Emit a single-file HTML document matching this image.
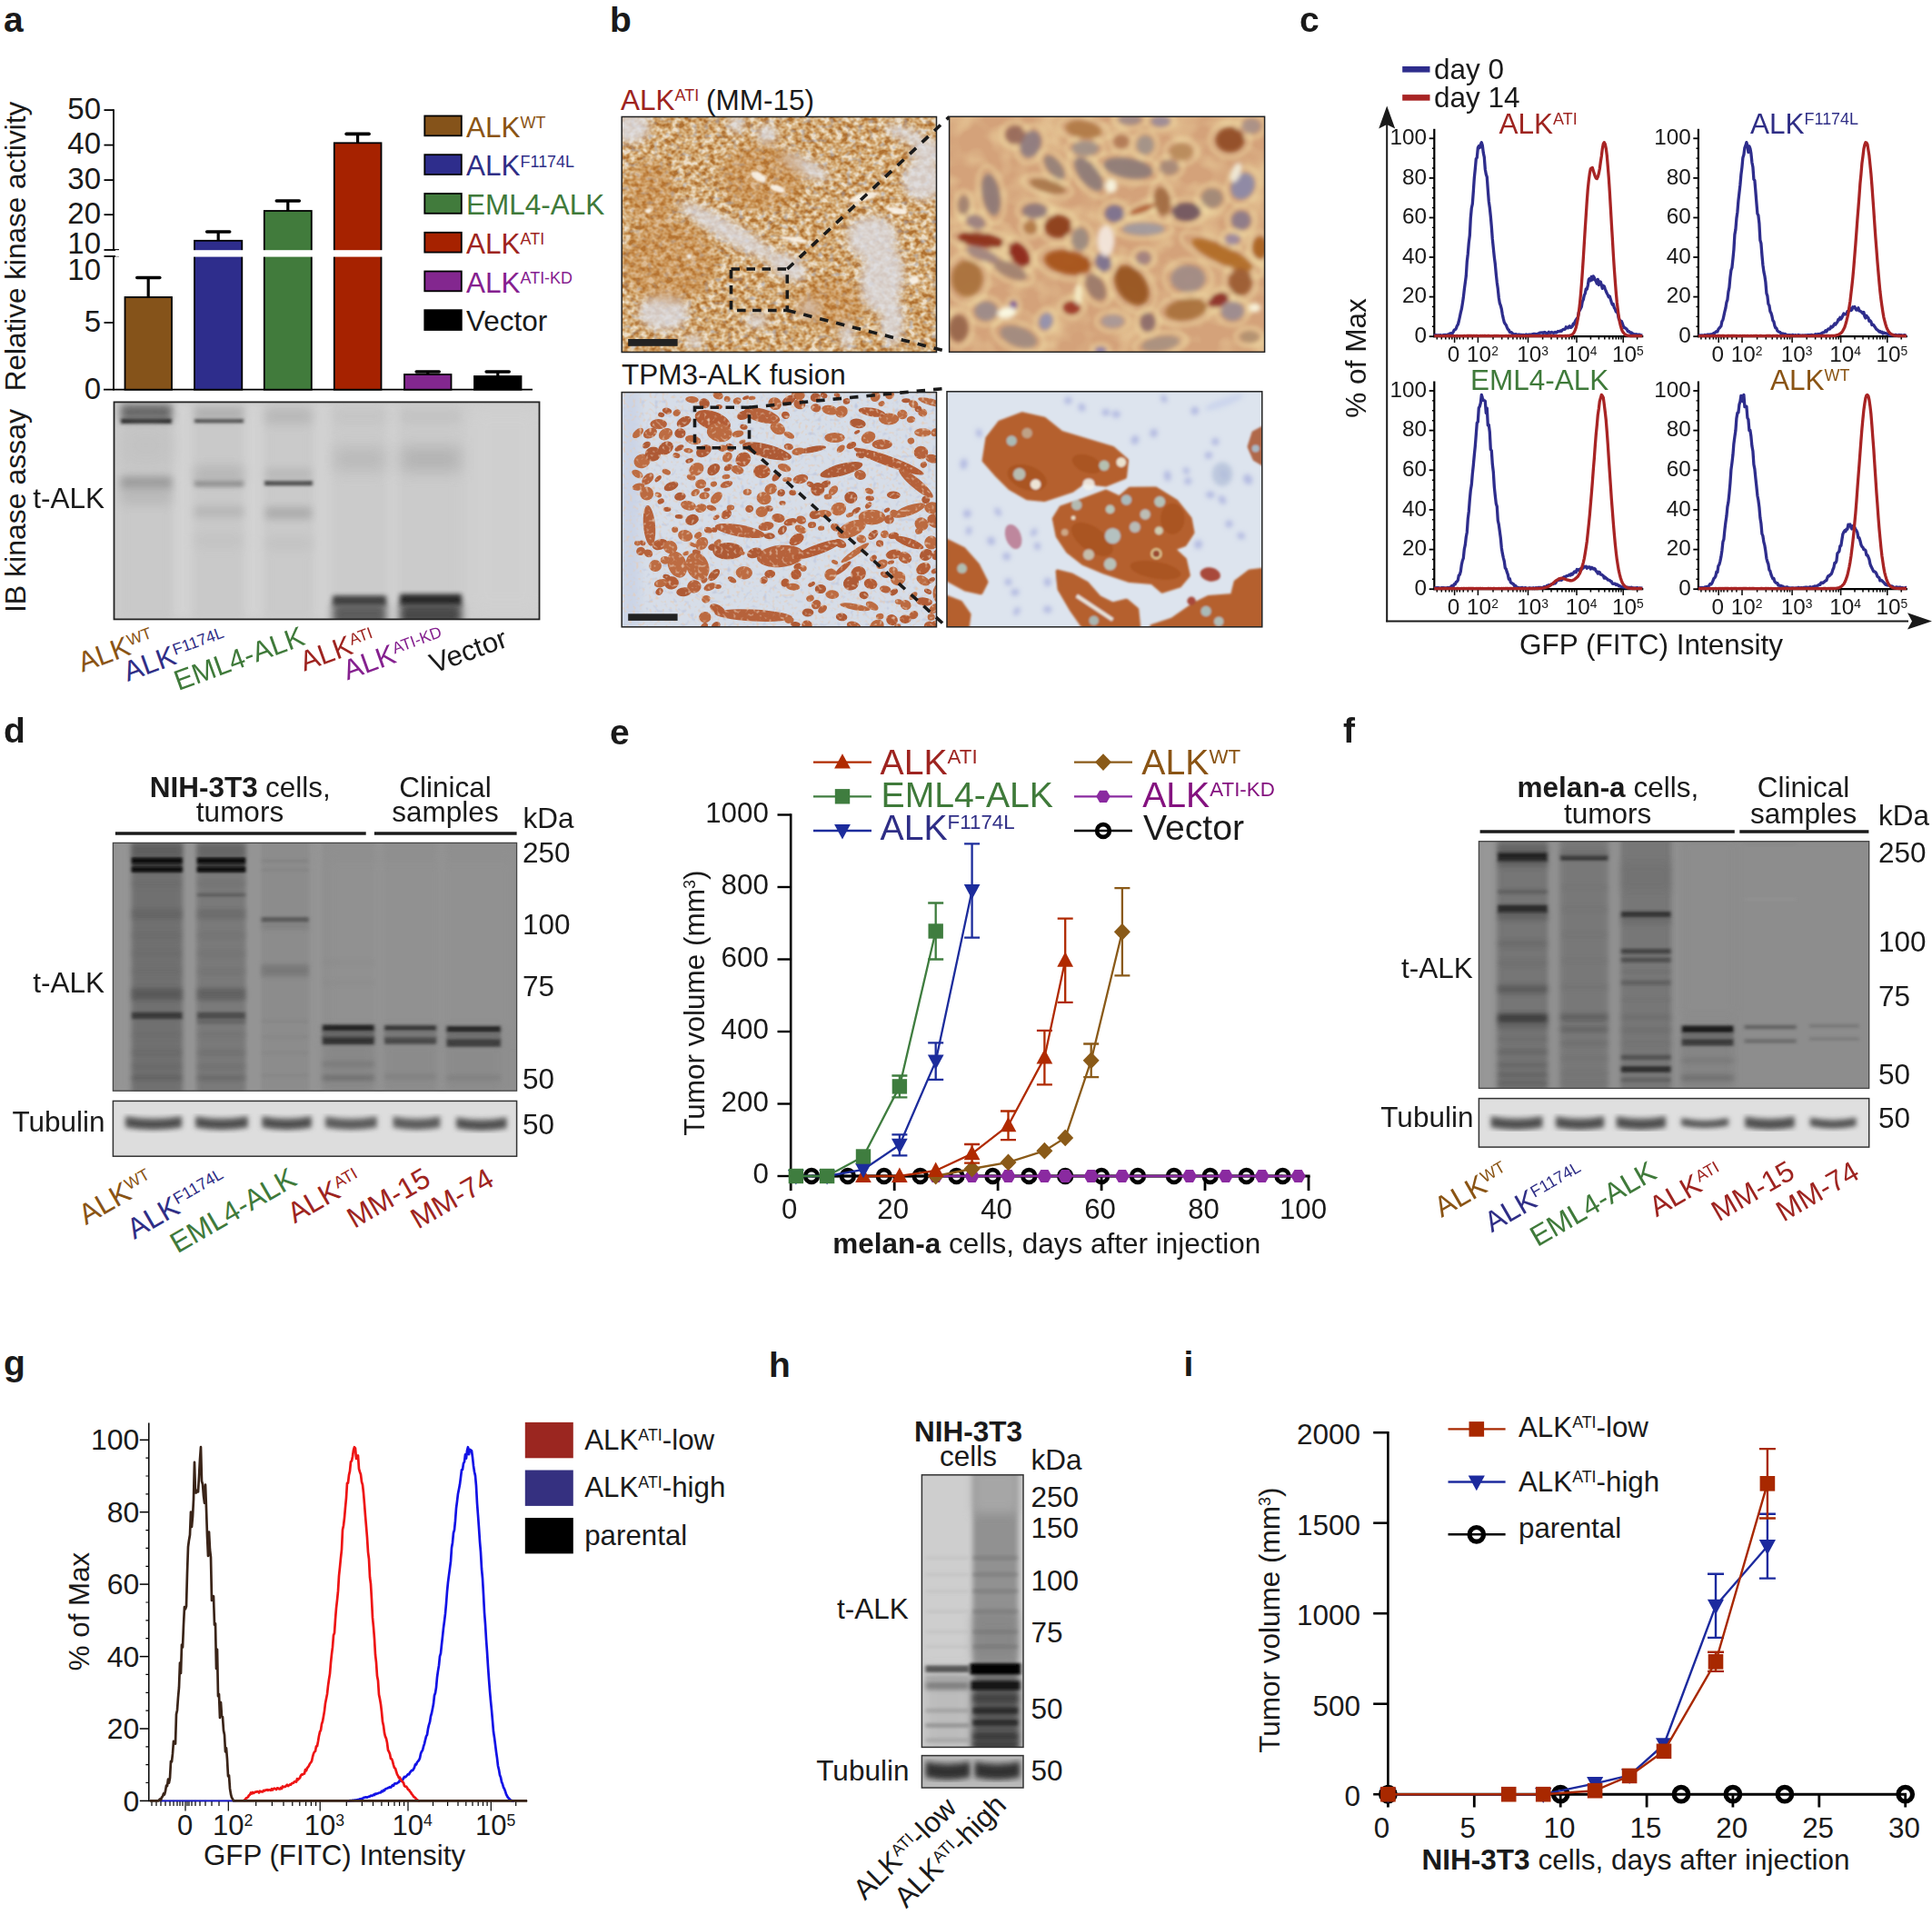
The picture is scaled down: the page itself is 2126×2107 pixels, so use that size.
<!DOCTYPE html>
<html><head><meta charset="utf-8"><title>Figure</title>
<style>html,body{margin:0;padding:0;background:#fff;overflow:hidden}svg{display:block}text{font-family:"Liberation Sans", sans-serif}</style>
</head><body>
<svg width="2126" height="2107" viewBox="0 0 2126 2107">
<defs>
<filter id="bl1" x="-20%" y="-300%" width="140%" height="700%"><feGaussianBlur stdDeviation="0.8"/></filter>
<filter id="bl2" x="-20%" y="-300%" width="140%" height="700%"><feGaussianBlur stdDeviation="1.5"/></filter>
<filter id="bl3" x="-20%" y="-300%" width="140%" height="700%"><feGaussianBlur stdDeviation="2.5"/></filter>
<filter id="bl4" x="-20%" y="-300%" width="140%" height="700%"><feGaussianBlur stdDeviation="4"/></filter>
<filter id="bl5" x="-20%" y="-300%" width="140%" height="700%"><feGaussianBlur stdDeviation="6"/></filter>
<filter id="bl6" x="-20%" y="-300%" width="140%" height="700%"><feGaussianBlur stdDeviation="8"/></filter>
<filter id="bl8" x="-20%" y="-300%" width="140%" height="700%"><feGaussianBlur stdDeviation="12"/></filter>
<filter id="soft" x="-5%" y="-5%" width="110%" height="110%"><feGaussianBlur stdDeviation="1.1 0.7"/></filter>
<filter id="tex1" x="0" y="0" width="100%" height="100%" color-interpolation-filters="sRGB">
<feTurbulence type="fractalNoise" baseFrequency="0.15 0.17" numOctaves="2" seed="7"/>
<feColorMatrix type="matrix" values="2.2 0 0 0 -0.6  2.2 0 0 0 -0.6  2.2 0 0 0 -0.6  0 0 0 0 1"/>
<feComponentTransfer><feFuncR type="table" tableValues="0.69 0.77 0.83 0.88 0.93"/><feFuncG type="table" tableValues="0.44 0.56 0.67 0.77 0.87"/><feFuncB type="table" tableValues="0.19 0.32 0.46 0.61 0.78"/></feComponentTransfer>
</filter>
<filter id="tex1c" x="0" y="0" width="100%" height="100%" color-interpolation-filters="sRGB">
<feTurbulence type="fractalNoise" baseFrequency="0.16 0.19" numOctaves="1" seed="23"/>
<feColorMatrix type="matrix" values="0 0 0 0 0.60  0 0 0 0 0.62  0 0 0 0 0.72  4 0 0 0 -2.3"/>
</filter>
<filter id="tex3" x="0" y="0" width="100%" height="100%" color-interpolation-filters="sRGB">
<feTurbulence type="fractalNoise" baseFrequency="0.28" numOctaves="1" seed="31"/>
<feColorMatrix type="matrix" values="0 0 0 0 0.90  0 0 0 0 0.80  0 0 0 0 0.72  3.2 0 0 0 -1.75"/>
</filter>
<filter id="tex1b" x="0" y="0" width="100%" height="100%" color-interpolation-filters="sRGB">
<feTurbulence type="fractalNoise" baseFrequency="0.2" numOctaves="1" seed="11"/>
<feColorMatrix type="matrix" values="0 0 0 0 0.62  0 0 0 0 0.66  0 0 0 0 0.82  3 0 0 0 -1.75"/>
</filter>
<clipPath id="cpb1"><rect x="684.2" y="128.5" width="346.3" height="259"/></clipPath>
<clipPath id="cpb2"><rect x="1044.6" y="128.3" width="347" height="259"/></clipPath>
<clipPath id="cpb3"><rect x="684.2" y="431.6" width="346.3" height="258.2"/></clipPath>
<clipPath id="cpb4"><rect x="1042" y="430.8" width="346.8" height="259"/></clipPath>
<filter id="bb1" x="-30%" y="-30%" width="160%" height="160%"><feGaussianBlur stdDeviation="5"/></filter>
<filter id="bb2" x="-30%" y="-30%" width="160%" height="160%"><feGaussianBlur stdDeviation="2.6"/></filter>
<filter id="bb3" x="-30%" y="-30%" width="160%" height="160%"><feGaussianBlur stdDeviation="0.7"/></filter>
<filter id="bb4" x="-30%" y="-30%" width="160%" height="160%"><feGaussianBlur stdDeviation="1.3"/></filter>
<filter id="tex2" x="0" y="0" width="100%" height="100%" color-interpolation-filters="sRGB">
<feTurbulence type="fractalNoise" baseFrequency="0.035 0.04" numOctaves="2" seed="5"/>
<feColorMatrix type="matrix" values="0 0 0 0 0.95  0 0 0 0 0.87  0 0 0 0 0.66  2.4 0 0 0 -1.0"/>
</filter>
</defs>
<rect width="2126" height="2107" fill="#fff"/>
<text x="4" y="34.5" font-size="39" fill="#1a1a1a" font-weight="bold">a</text>
<text font-size="31.5" fill="#1a1a1a" text-anchor="middle" transform="translate(28 271) rotate(-90)">Relative kinase activity</text>
<text font-size="32" fill="#1a1a1a" text-anchor="middle" transform="translate(28 562) rotate(-90)">IB kinase assay</text>
<line x1="125" y1="120.2" x2="125" y2="275.5" stroke="#000" stroke-width="1.8"/>
<line x1="125" y1="282" x2="125" y2="429.6" stroke="#000" stroke-width="1.8"/>
<line x1="114" y1="428.7" x2="586" y2="428.7" stroke="#000" stroke-width="1.8"/>
<line x1="114.5" y1="121.1" x2="125" y2="121.1" stroke="#000" stroke-width="1.8"/>
<text x="111" y="130.9" font-size="33" fill="#1a1a1a" text-anchor="end">50</text>
<line x1="114.5" y1="159.6" x2="125" y2="159.6" stroke="#000" stroke-width="1.8"/>
<text x="111" y="169.4" font-size="33" fill="#1a1a1a" text-anchor="end">40</text>
<line x1="114.5" y1="198.1" x2="125" y2="198.1" stroke="#000" stroke-width="1.8"/>
<text x="111" y="207.9" font-size="33" fill="#1a1a1a" text-anchor="end">30</text>
<line x1="114.5" y1="236.2" x2="125" y2="236.2" stroke="#000" stroke-width="1.8"/>
<text x="111" y="246" font-size="33" fill="#1a1a1a" text-anchor="end">20</text>
<text x="111" y="279.2" font-size="33" fill="#1a1a1a" text-anchor="end">10</text>
<line x1="114.5" y1="275" x2="131" y2="275" stroke="#000" stroke-width="1.8"/>
<line x1="114.5" y1="282" x2="131" y2="282" stroke="#000" stroke-width="1.8"/>
<text x="111" y="307.6" font-size="33" fill="#1a1a1a" text-anchor="end">10</text>
<line x1="114.5" y1="355" x2="125" y2="355" stroke="#000" stroke-width="1.8"/>
<text x="111" y="364.8" font-size="33" fill="#1a1a1a" text-anchor="end">5</text>
<text x="111" y="438.5" font-size="33" fill="#1a1a1a" text-anchor="end">0</text>
<line x1="163.2" y1="305.5" x2="163.2" y2="329" stroke="#000" stroke-width="3.2"/>
<line x1="150.8" y1="305.5" x2="175.8" y2="305.5" stroke="#000" stroke-width="3.6" stroke-linecap="round"/>
<rect x="137.5" y="327" width="51.5" height="101.7" fill="#85531a" stroke="#000" stroke-width="1.8"/>
<line x1="240.2" y1="255" x2="240.2" y2="266.8" stroke="#000" stroke-width="3.2"/>
<line x1="227.7" y1="255" x2="252.7" y2="255" stroke="#000" stroke-width="3.6" stroke-linecap="round"/>
<rect x="214" y="264.8" width="52.3" height="163.9" fill="#2e2d8c" stroke="#000" stroke-width="1.8"/>
<line x1="316.8" y1="221" x2="316.8" y2="234" stroke="#000" stroke-width="3.2"/>
<line x1="304.3" y1="221" x2="329.3" y2="221" stroke="#000" stroke-width="3.6" stroke-linecap="round"/>
<rect x="290.8" y="232" width="52" height="196.7" fill="#417b3c" stroke="#000" stroke-width="1.8"/>
<line x1="393.6" y1="147.4" x2="393.6" y2="159.3" stroke="#000" stroke-width="3.2"/>
<line x1="381.1" y1="147.4" x2="406.1" y2="147.4" stroke="#000" stroke-width="3.6" stroke-linecap="round"/>
<rect x="367.8" y="157.3" width="51.7" height="271.4" fill="#a62200" stroke="#000" stroke-width="1.8"/>
<line x1="470.8" y1="409" x2="470.8" y2="414" stroke="#000" stroke-width="3.2"/>
<line x1="458.2" y1="409" x2="483.2" y2="409" stroke="#000" stroke-width="3.6" stroke-linecap="round"/>
<rect x="445" y="412" width="51.5" height="16.7" fill="#83278f" stroke="#000" stroke-width="1.8"/>
<line x1="547.8" y1="409" x2="547.8" y2="416" stroke="#000" stroke-width="3.2"/>
<line x1="535.2" y1="409" x2="560.2" y2="409" stroke="#000" stroke-width="3.6" stroke-linecap="round"/>
<rect x="522" y="414" width="51.5" height="14.7" fill="#000" stroke="#000" stroke-width="1.8"/>
<rect x="127" y="275.2" width="470" height="7.4" fill="#fff"/>
<rect x="467.3" y="127.5" width="40.5" height="21.8" fill="#85531a" stroke="#000" stroke-width="1.8"/>
<text x="513" y="150.5" font-size="31.5" fill="#8a5414">ALK<tspan dy="-0.534em" font-size="57%">WT</tspan></text>
<rect x="467.3" y="170.2" width="40.5" height="21.8" fill="#2e2d8c" stroke="#000" stroke-width="1.8"/>
<text x="513" y="193.2" font-size="31.5" fill="#2f2e86">ALK<tspan dy="-0.534em" font-size="57%">F1174L</tspan></text>
<rect x="467.3" y="213" width="40.5" height="21.8" fill="#417b3c" stroke="#000" stroke-width="1.8"/>
<text x="513" y="236" font-size="31.5" fill="#3f7a3a">EML4-ALK</text>
<rect x="467.3" y="255.8" width="40.5" height="21.8" fill="#a62200" stroke="#000" stroke-width="1.8"/>
<text x="513" y="278.8" font-size="31.5" fill="#9e2420">ALK<tspan dy="-0.534em" font-size="57%">ATI</tspan></text>
<rect x="467.3" y="298.5" width="40.5" height="21.8" fill="#83278f" stroke="#000" stroke-width="1.8"/>
<text x="513" y="321.5" font-size="31.5" fill="#85208f">ALK<tspan dy="-0.534em" font-size="57%">ATI-KD</tspan></text>
<rect x="467.3" y="341.2" width="40.5" height="21.8" fill="#000" stroke="#000" stroke-width="1.8"/>
<text x="513" y="364.2" font-size="31.5" fill="#1a1a1a">Vector</text>
<clipPath id="cpa"><rect x="125.5" y="442.4" width="468" height="239"/></clipPath>
<g clip-path="url(#cpa)">
<rect x="125.5" y="442.4" width="468" height="239" fill="#cccccc"/>
<g filter="url(#soft)">

<rect x="190" y="442.5" width="22" height="239" fill="#d6d6d6" opacity="0.7" filter="url(#bl5)"/>
<rect x="268" y="442.5" width="22" height="239" fill="#d6d6d6" opacity="0.7" filter="url(#bl5)"/>
<rect x="344" y="442.5" width="20" height="239" fill="#d4d4d4" opacity="0.7" filter="url(#bl5)"/>
<rect x="425" y="442.5" width="14" height="239" fill="#d3d3d3" opacity="0.7" filter="url(#bl5)"/>
<rect x="512" y="442.5" width="88" height="239" fill="#d0d0d0" opacity="0.9" filter="url(#bl8)"/>
<rect x="133" y="442.5" width="56" height="239" fill="#c6c6c6" opacity="0.6" filter="url(#bl4)"/>
<rect x="214" y="442.5" width="54" height="239" fill="#c7c7c7" opacity="0.6" filter="url(#bl4)"/>
<rect x="292" y="442.5" width="51" height="239" fill="#c8c8c8" opacity="0.6" filter="url(#bl4)"/>
<rect x="368" y="442.5" width="56" height="239" fill="#cacaca" opacity="0.6" filter="url(#bl4)"/>
<rect x="441" y="442.5" width="66" height="239" fill="#cacaca" opacity="0.6" filter="url(#bl4)"/>
<rect x="133" y="445" width="56" height="18" fill="#555" opacity="0.85" filter="url(#bl4)"/>
<rect x="133" y="460.6" width="56" height="5.5" fill="#222" opacity="0.95" filter="url(#bl2)"/>
<rect x="133" y="524" width="56" height="14" fill="#888" opacity="0.7" filter="url(#bl4)"/>
<rect x="133" y="535" width="56" height="20" fill="#aaa" opacity="0.5" filter="url(#bl5)"/>
<rect x="133" y="470" width="56" height="40" fill="#bbb" opacity="0.5" filter="url(#bl8)"/>
<rect x="214" y="460.8" width="54" height="4.5" fill="#333" opacity="0.85" filter="url(#bl2)"/>
<rect x="214" y="448" width="54" height="14" fill="#999" opacity="0.5" filter="url(#bl4)"/>
<rect x="214" y="529" width="54" height="6" fill="#666" opacity="0.7" filter="url(#bl3)"/>
<rect x="214" y="513" width="54" height="18" fill="#aaa" opacity="0.6" filter="url(#bl5)"/>
<rect x="214" y="557" width="54" height="12" fill="#aaa" opacity="0.6" filter="url(#bl4)"/>
<rect x="214" y="588" width="54" height="14" fill="#bbb" opacity="0.4" filter="url(#bl5)"/>
<rect x="292" y="450" width="51" height="16" fill="#aaa" opacity="0.6" filter="url(#bl5)"/>
<rect x="291" y="528.8" width="53" height="5.5" fill="#3a3a3a" opacity="0.9" filter="url(#bl2)"/>
<rect x="292" y="515" width="51" height="14" fill="#aaa" opacity="0.5" filter="url(#bl4)"/>
<rect x="292" y="558" width="51" height="13" fill="#999" opacity="0.6" filter="url(#bl4)"/>
<rect x="292" y="592" width="51" height="12" fill="#bbb" opacity="0.5" filter="url(#bl5)"/>
<rect x="368" y="492" width="56" height="26" fill="#b4b4b4" opacity="0.7" filter="url(#bl6)"/>
<rect x="368" y="451" width="56" height="14" fill="#c0c0c0" opacity="0.6" filter="url(#bl5)"/>
<rect x="366" y="655.5" width="59" height="11" fill="#2e2e2e" opacity="0.9" filter="url(#bl3)"/>
<rect x="366" y="664" width="59" height="24" fill="#484848" opacity="0.85" filter="url(#bl4)"/>
<rect x="441" y="491" width="66" height="28" fill="#adadad" opacity="0.75" filter="url(#bl6)"/>
<rect x="441" y="451" width="66" height="14" fill="#bcbcbc" opacity="0.6" filter="url(#bl5)"/>
<rect x="440" y="653.8" width="68" height="12.5" fill="#1c1c1c" opacity="0.95" filter="url(#bl3)"/>
<rect x="440" y="664" width="68" height="24" fill="#3a3a3a" opacity="0.9" filter="url(#bl4)"/>
</g></g>
<rect x="125.5" y="442.4" width="468" height="239" fill="none" stroke="#222" stroke-width="1.8"/>
<text x="36.3" y="559.2" font-size="31.5" fill="#1a1a1a">t-ALK</text>
<text font-size="31" fill="#8a5414" transform="translate(90.4 739.7) rotate(-20)">ALK<tspan dy="-0.534em" font-size="57%">WT</tspan></text>
<text font-size="31" fill="#2f2e86" transform="translate(140.6 749.9) rotate(-20)">ALK<tspan dy="-0.534em" font-size="57%">F1174L</tspan></text>
<text font-size="31" fill="#3f7a3a" transform="translate(196.2 760) rotate(-20)">EML4-ALK</text>
<text font-size="31" fill="#9e2420" transform="translate(334.8 738.8) rotate(-20)">ALK<tspan dy="-0.534em" font-size="57%">ATI</tspan></text>
<text font-size="31" fill="#85208f" transform="translate(382.3 748.4) rotate(-20)">ALK<tspan dy="-0.534em" font-size="57%">ATI-KD</tspan></text>
<text font-size="31" fill="#1a1a1a" transform="translate(477.5 741) rotate(-20)">Vector</text>
<text x="671" y="34.5" font-size="39" fill="#1a1a1a" font-weight="bold">b</text>
<text x="683" y="120.5" font-size="31.5" fill="#9e2420">ALK<tspan dy="-0.534em" font-size="57%">ATI</tspan></text>
<text x="777" y="120.5" font-size="31.5" fill="#1a1a1a">(MM-15)</text>
<text x="684" y="422.5" font-size="31.5" fill="#1a1a1a">TPM3-ALK fusion</text>
<g clip-path="url(#cpb1)">
<rect x="684.2" y="128.5" width="346.3" height="259" filter="url(#tex1)"/>
<rect x="684.2" y="128.5" width="346.3" height="259" filter="url(#tex1c)" opacity="0.55"/>
<g filter="url(#bb1)" opacity="0.82">
<ellipse cx="694.9" cy="140.5" rx="20.5" ry="16.8" fill="#dcdce2"/>
<ellipse cx="801.1" cy="254.2" rx="61.5" ry="11.2" fill="#dcdce2" transform="rotate(30 801.1 254.2)"/>
<ellipse cx="866.3" cy="293.3" rx="22.4" ry="13" fill="#dcdce2" transform="rotate(30 866.3 293.3)"/>
<ellipse cx="959.5" cy="261.6" rx="27.9" ry="24.2" fill="#dcdce2"/>
<ellipse cx="970.7" cy="306.3" rx="24.2" ry="37.3" fill="#dcdce2" transform="rotate(10 970.7 306.3)"/>
<ellipse cx="981.8" cy="352.9" rx="13" ry="27.9" fill="#dcdce2"/>
<ellipse cx="730.3" cy="343.6" rx="27.9" ry="20.5" fill="#dcdce2"/>
<ellipse cx="890.5" cy="339.9" rx="11.2" ry="11.2" fill="#dcdce2"/>
<ellipse cx="885" cy="183.4" rx="29.8" ry="9.3" fill="#dcdce2" transform="rotate(25 885 183.4)"/>
<ellipse cx="1015.4" cy="198.3" rx="22.4" ry="22.4" fill="#dcdce2"/>
<ellipse cx="1021" cy="166.6" rx="18.6" ry="13" fill="#dcdce2"/>
<ellipse cx="844" cy="147.9" rx="11.2" ry="11.2" fill="#dcdce2"/>
<ellipse cx="763.8" cy="375.3" rx="9.3" ry="7.5" fill="#dcdce2"/>
<ellipse cx="931.5" cy="367.8" rx="7.5" ry="16.8" fill="#dcdce2"/>
<ellipse cx="832.8" cy="352.9" rx="13" ry="7.5" fill="#dcdce2"/>
<ellipse cx="810.4" cy="136.8" rx="9.3" ry="9.3" fill="#dcdce2"/>
<ellipse cx="996.8" cy="147.9" rx="24.2" ry="7.5" fill="#dcdce2" transform="rotate(20 996.8 147.9)"/>
</g>
<g filter="url(#bb1)" opacity="0.35">
<ellipse cx="735.9" cy="287.7" rx="52.2" ry="46.6" fill="#c07a30"/>
<ellipse cx="838.4" cy="194.5" rx="46.6" ry="37.3" fill="#c07a30"/>
<ellipse cx="717.3" cy="213.2" rx="27.9" ry="37.3" fill="#c07a30"/>
<ellipse cx="912.9" cy="334.3" rx="37.3" ry="27.9" fill="#c07a30"/>
</g>
<g filter="url(#bb4)" opacity="0.9">
<ellipse cx="834.6" cy="194.5" rx="9.3" ry="4.7" fill="#fbf6ee" transform="rotate(30 834.6 194.5)"/>
<ellipse cx="855.1" cy="207.6" rx="8.4" ry="3.7" fill="#fbf6ee" transform="rotate(20 855.1 207.6)"/>
<ellipse cx="950.2" cy="216.9" rx="16.8" ry="4.1" fill="#fbf6ee" transform="rotate(-15 950.2 216.9)"/>
<ellipse cx="987.4" cy="231.8" rx="11.2" ry="3.7" fill="#fbf6ee" transform="rotate(10 987.4 231.8)"/>
<ellipse cx="873.8" cy="263.5" rx="14.9" ry="2.6" fill="#fbf6ee" transform="rotate(10 873.8 263.5)"/>
<ellipse cx="758.3" cy="282.1" rx="2.8" ry="2.8" fill="#fbf6ee"/>
<ellipse cx="713.5" cy="231.8" rx="3.4" ry="2.6" fill="#fbf6ee"/>
<ellipse cx="1006.1" cy="308.2" rx="5.6" ry="4.7" fill="#fbf6ee"/>
</g>
</g>
<rect x="684.2" y="128.5" width="346.3" height="259" fill="none" stroke="#222" stroke-width="1.5"/>
<rect x="691.2" y="373" width="54.4" height="7.8" fill="#222"/>
<rect x="804.5" y="296" width="61.8" height="45.5" fill="none" stroke="#1a1a1a" stroke-width="3.6" stroke-dasharray="9.5 7.5"/>
<line x1="866.3" y1="296" x2="1044.6" y2="128.5" stroke="#1a1a1a" stroke-width="3.6" stroke-dasharray="9.5 9"/>
<line x1="866.3" y1="341.5" x2="1044.6" y2="387.3" stroke="#1a1a1a" stroke-width="3.6" stroke-dasharray="9.5 9"/>
<g clip-path="url(#cpb2)">
<rect x="1044.6" y="128.3" width="347" height="259" fill="#d4a27a"/>
<rect x="1044.6" y="128.3" width="347" height="259" filter="url(#tex2)" opacity="0.5"/>
<g filter="url(#bb2)">
<ellipse cx="1134" cy="158.6" rx="16.2" ry="21.7" fill="none" stroke="#f2e0a8" stroke-width="2.6" opacity="0.75" transform="rotate(20 1134 158.6)"/>
<ellipse cx="1117" cy="148.3" rx="15.7" ry="15.1" fill="none" stroke="#f2e0a8" stroke-width="2.6" opacity="0.75"/>
<ellipse cx="1090.6" cy="214.2" rx="14.3" ry="32.1" fill="none" stroke="#f2e0a8" stroke-width="2.6" opacity="0.75" transform="rotate(-10 1090.6 214.2)"/>
<ellipse cx="1241.4" cy="185" rx="37.5" ry="16.2" fill="none" stroke="#f2e0a8" stroke-width="2.6" opacity="0.75" transform="rotate(10 1241.4 185)"/>
<ellipse cx="1198" cy="191.6" rx="15.1" ry="30.7" fill="none" stroke="#f2e0a8" stroke-width="2.6" opacity="0.75" transform="rotate(-38 1198 191.6)"/>
<ellipse cx="1160.3" cy="184.1" rx="11.8" ry="22.5" fill="none" stroke="#f2e0a8" stroke-width="2.6" opacity="0.75" transform="rotate(-38 1160.3 184.1)"/>
<ellipse cx="1138.7" cy="232.1" rx="19.8" ry="12.9" fill="none" stroke="#f2e0a8" stroke-width="2.6" opacity="0.75"/>
<ellipse cx="1305.4" cy="233" rx="22.5" ry="15.1" fill="none" stroke="#f2e0a8" stroke-width="2.6" opacity="0.75"/>
<ellipse cx="1226.3" cy="234.9" rx="15.7" ry="14.3" fill="none" stroke="#f2e0a8" stroke-width="2.6" opacity="0.75"/>
<ellipse cx="1214" cy="288.6" rx="12.9" ry="15.7" fill="none" stroke="#f2e0a8" stroke-width="2.6" opacity="0.75" transform="rotate(-20 1214 288.6)"/>
<ellipse cx="1367.6" cy="204.8" rx="17.8" ry="21.7" fill="none" stroke="#f2e0a8" stroke-width="2.6" opacity="0.75" transform="rotate(30 1367.6 204.8)"/>
<ellipse cx="1365.7" cy="242.5" rx="15.7" ry="15.7" fill="none" stroke="#f2e0a8" stroke-width="2.6" opacity="0.75"/>
<ellipse cx="1073.7" cy="244.3" rx="16.2" ry="11.6" fill="none" stroke="#f2e0a8" stroke-width="2.6" opacity="0.75" transform="rotate(20 1073.7 244.3)"/>
<ellipse cx="1188.6" cy="263.2" rx="14.3" ry="18.4" fill="none" stroke="#f2e0a8" stroke-width="2.6" opacity="0.75"/>
<ellipse cx="1258.3" cy="251.9" rx="32.1" ry="11" fill="none" stroke="#f2e0a8" stroke-width="2.6" opacity="0.75"/>
<ellipse cx="1307.3" cy="306.5" rx="26.6" ry="21.1" fill="none" stroke="#f2e0a8" stroke-width="2.6" opacity="0.75"/>
<ellipse cx="1263" cy="354.6" rx="12.9" ry="15.7" fill="none" stroke="#f2e0a8" stroke-width="2.6" opacity="0.75"/>
<ellipse cx="1150.9" cy="353.6" rx="11.6" ry="14.3" fill="none" stroke="#f2e0a8" stroke-width="2.6" opacity="0.75" transform="rotate(20 1150.9 353.6)"/>
<ellipse cx="1085" cy="342.3" rx="18.4" ry="15.7" fill="none" stroke="#f2e0a8" stroke-width="2.6" opacity="0.75"/>
<ellipse cx="1205.6" cy="315.9" rx="14.3" ry="22.5" fill="none" stroke="#f2e0a8" stroke-width="2.6" opacity="0.75" transform="rotate(-30 1205.6 315.9)"/>
<ellipse cx="1111.4" cy="297.1" rx="28" ry="12.4" fill="none" stroke="#f2e0a8" stroke-width="2.6" opacity="0.75" transform="rotate(25 1111.4 297.1)"/>
<ellipse cx="1258.3" cy="283.9" rx="12.9" ry="11.6" fill="none" stroke="#f2e0a8" stroke-width="2.6" opacity="0.75"/>
<ellipse cx="1194.3" cy="163.3" rx="21.1" ry="12.9" fill="none" stroke="#f2e0a8" stroke-width="2.6" opacity="0.75"/>
<ellipse cx="1260.2" cy="159.6" rx="14.3" ry="15.7" fill="none" stroke="#f2e0a8" stroke-width="2.6" opacity="0.75"/>
<ellipse cx="1115.1" cy="335.7" rx="7.5" ry="8.8" fill="none" stroke="#f2e0a8" stroke-width="2.6" opacity="0.75"/>
<ellipse cx="1356.3" cy="342.3" rx="18.4" ry="15.7" fill="none" stroke="#f2e0a8" stroke-width="2.6" opacity="0.75"/>
<ellipse cx="1286.6" cy="184.1" rx="15.7" ry="12.9" fill="none" stroke="#f2e0a8" stroke-width="2.6" opacity="0.75"/>
<ellipse cx="1054.8" cy="361.2" rx="15.7" ry="21.1" fill="none" stroke="#f2e0a8" stroke-width="2.6" opacity="0.75"/>
<ellipse cx="1120.8" cy="370.6" rx="29.3" ry="15.7" fill="none" stroke="#f2e0a8" stroke-width="2.6" opacity="0.75" transform="rotate(20 1120.8 370.6)"/>
<ellipse cx="1277.2" cy="378.1" rx="29.3" ry="12.4" fill="none" stroke="#f2e0a8" stroke-width="2.6" opacity="0.75" transform="rotate(-10 1277.2 378.1)"/>
<ellipse cx="1375.1" cy="370.6" rx="15.7" ry="10.2" fill="none" stroke="#f2e0a8" stroke-width="2.6" opacity="0.75"/>
<ellipse cx="1333.7" cy="218" rx="17" ry="15.7" fill="none" stroke="#f2e0a8" stroke-width="2.6" opacity="0.75"/>
<ellipse cx="1243.2" cy="131.3" rx="18.4" ry="10.2" fill="none" stroke="#f2e0a8" stroke-width="2.6" opacity="0.75"/>
<ellipse cx="1277.2" cy="133.2" rx="15.7" ry="10.2" fill="none" stroke="#f2e0a8" stroke-width="2.6" opacity="0.75"/>
<ellipse cx="1377" cy="138.8" rx="15.7" ry="12.9" fill="none" stroke="#f2e0a8" stroke-width="2.6" opacity="0.75"/>
<ellipse cx="1211.2" cy="385.7" rx="10.2" ry="7.5" fill="none" stroke="#f2e0a8" stroke-width="2.6" opacity="0.75"/>
<ellipse cx="1081.2" cy="280.1" rx="26.6" ry="10.2" fill="none" stroke="#f2e0a8" stroke-width="2.6" opacity="0.75" transform="rotate(20 1081.2 280.1)"/>
<ellipse cx="1356.3" cy="263.2" rx="12.9" ry="10.2" fill="none" stroke="#f2e0a8" stroke-width="2.6" opacity="0.75"/>
<ellipse cx="1224.4" cy="353.6" rx="18.4" ry="11.6" fill="none" stroke="#f2e0a8" stroke-width="2.6" opacity="0.75"/>
<ellipse cx="1060.5" cy="225.5" rx="10.2" ry="15.7" fill="none" stroke="#f2e0a8" stroke-width="2.6" opacity="0.75"/>
<ellipse cx="1079.3" cy="264.1" rx="34.8" ry="12.4" fill="none" stroke="#f2e0a8" stroke-width="2.6" opacity="0.75" transform="rotate(8 1079.3 264.1)"/>
<ellipse cx="1164.1" cy="249.1" rx="21.1" ry="18.4" fill="none" stroke="#f2e0a8" stroke-width="2.6" opacity="0.75"/>
<ellipse cx="1121.7" cy="280.1" rx="14.3" ry="21.1" fill="none" stroke="#f2e0a8" stroke-width="2.6" opacity="0.75" transform="rotate(-35 1121.7 280.1)"/>
<ellipse cx="1175.4" cy="288.6" rx="36.1" ry="18.9" fill="none" stroke="#f2e0a8" stroke-width="2.6" opacity="0.75" transform="rotate(10 1175.4 288.6)"/>
<ellipse cx="1245.1" cy="314.1" rx="22.5" ry="33.4" fill="none" stroke="#f2e0a8" stroke-width="2.6" opacity="0.75" transform="rotate(-35 1245.1 314.1)"/>
<ellipse cx="1353.5" cy="153.9" rx="22.5" ry="19.8" fill="none" stroke="#f2e0a8" stroke-width="2.6" opacity="0.75"/>
<ellipse cx="1341.2" cy="330.1" rx="17" ry="11" fill="none" stroke="#f2e0a8" stroke-width="2.6" opacity="0.75" transform="rotate(-25 1341.2 330.1)"/>
<ellipse cx="1179.2" cy="338.6" rx="14.3" ry="11.6" fill="none" stroke="#f2e0a8" stroke-width="2.6" opacity="0.75"/>
<ellipse cx="1345" cy="280.1" rx="49.8" ry="14.3" fill="none" stroke="#f2e0a8" stroke-width="2.6" opacity="0.75" transform="rotate(25 1345 280.1)"/>
<ellipse cx="1364.8" cy="310.3" rx="18.4" ry="21.1" fill="none" stroke="#f2e0a8" stroke-width="2.6" opacity="0.75"/>
<ellipse cx="1386.4" cy="272.6" rx="12.9" ry="18.4" fill="none" stroke="#f2e0a8" stroke-width="2.6" opacity="0.75"/>
<ellipse cx="1064.3" cy="306.5" rx="23.9" ry="28" fill="none" stroke="#f2e0a8" stroke-width="2.6" opacity="0.75"/>
<ellipse cx="1192.4" cy="142.6" rx="28" ry="14.3" fill="none" stroke="#f2e0a8" stroke-width="2.6" opacity="0.75" transform="rotate(10 1192.4 142.6)"/>
<ellipse cx="1279" cy="221.7" rx="13.5" ry="22.5" fill="none" stroke="#f2e0a8" stroke-width="2.6" opacity="0.75" transform="rotate(-10 1279 221.7)"/>
<ellipse cx="1256.4" cy="230.2" rx="21.1" ry="6.9" fill="none" stroke="#f2e0a8" stroke-width="2.6" opacity="0.75" transform="rotate(-20 1256.4 230.2)"/>
<ellipse cx="1152.8" cy="204.8" rx="28" ry="10.7" fill="none" stroke="#f2e0a8" stroke-width="2.6" opacity="0.75" transform="rotate(15 1152.8 204.8)"/>
<ellipse cx="1305.4" cy="340.4" rx="32.1" ry="17" fill="none" stroke="#f2e0a8" stroke-width="2.6" opacity="0.75" transform="rotate(-10 1305.4 340.4)"/>
<ellipse cx="1299.8" cy="167.1" rx="18.4" ry="14.3" fill="none" stroke="#f2e0a8" stroke-width="2.6" opacity="0.75"/>
<ellipse cx="1134" cy="250" rx="11.6" ry="11.6" fill="none" stroke="#f2e0a8" stroke-width="2.6" opacity="0.75"/>
<ellipse cx="1233.8" cy="155.8" rx="12.9" ry="11.6" fill="none" stroke="#f2e0a8" stroke-width="2.6" opacity="0.75"/>
<ellipse cx="1134" cy="158.6" rx="11" ry="15.2" fill="#8c7b80" transform="rotate(20 1134 158.6)" opacity="0.92"/>
<ellipse cx="1117" cy="148.3" rx="10.6" ry="10.1" fill="#96685a" opacity="0.92"/>
<ellipse cx="1090.6" cy="214.2" rx="9.5" ry="23.2" fill="#8c7876" transform="rotate(-10 1090.6 214.2)" opacity="0.92"/>
<ellipse cx="1241.4" cy="185" rx="27.4" ry="11" fill="#8c7b78" transform="rotate(10 1241.4 185)" opacity="0.92"/>
<ellipse cx="1198" cy="191.6" rx="10.1" ry="22.2" fill="#8c7b78" transform="rotate(-38 1198 191.6)" opacity="0.92"/>
<ellipse cx="1160.3" cy="184.1" rx="7.6" ry="15.8" fill="#94807a" transform="rotate(-38 1160.3 184.1)" opacity="0.92"/>
<ellipse cx="1138.7" cy="232.1" rx="13.7" ry="8.4" fill="#8c787c" opacity="0.92"/>
<ellipse cx="1305.4" cy="233" rx="15.8" ry="10.1" fill="#6f5560" opacity="0.92"/>
<ellipse cx="1226.3" cy="234.9" rx="10.6" ry="9.5" fill="#7a7090" opacity="0.92"/>
<ellipse cx="1214" cy="288.6" rx="8.4" ry="10.6" fill="#7a7090" transform="rotate(-20 1214 288.6)" opacity="0.92"/>
<ellipse cx="1367.6" cy="204.8" rx="12.2" ry="15.2" fill="#8a88a8" transform="rotate(30 1367.6 204.8)" opacity="0.92"/>
<ellipse cx="1365.7" cy="242.5" rx="10.6" ry="10.6" fill="#8a7a8a" opacity="0.92"/>
<ellipse cx="1073.7" cy="244.3" rx="11" ry="7.4" fill="#9a8080" transform="rotate(20 1073.7 244.3)" opacity="0.92"/>
<ellipse cx="1188.6" cy="263.2" rx="9.5" ry="12.7" fill="#9a8a80" opacity="0.92"/>
<ellipse cx="1258.3" cy="251.9" rx="23.2" ry="7" fill="#a09aa0" opacity="0.92"/>
<ellipse cx="1307.3" cy="306.5" rx="19" ry="14.8" fill="#a08a85" opacity="0.92"/>
<ellipse cx="1263" cy="354.6" rx="8.4" ry="10.6" fill="#8a6a6a" opacity="0.92"/>
<ellipse cx="1150.9" cy="353.6" rx="7.4" ry="9.5" fill="#9090b0" transform="rotate(20 1150.9 353.6)" opacity="0.92"/>
<ellipse cx="1085" cy="342.3" rx="12.7" ry="10.6" fill="#9a8a8a" opacity="0.92"/>
<ellipse cx="1205.6" cy="315.9" rx="9.5" ry="15.8" fill="#9a7a6a" transform="rotate(-30 1205.6 315.9)" opacity="0.92"/>
<ellipse cx="1111.4" cy="297.1" rx="20" ry="8" fill="#a08070" transform="rotate(25 1111.4 297.1)" opacity="0.92"/>
<ellipse cx="1258.3" cy="283.9" rx="8.4" ry="7.4" fill="#a08080" opacity="0.92"/>
<ellipse cx="1194.3" cy="163.3" rx="14.8" ry="8.4" fill="#a09088" opacity="0.92"/>
<ellipse cx="1260.2" cy="159.6" rx="9.5" ry="10.6" fill="#a09088" opacity="0.92"/>
<ellipse cx="1115.1" cy="335.7" rx="4.2" ry="5.3" fill="#7a5aa0" opacity="0.92"/>
<ellipse cx="1356.3" cy="342.3" rx="12.7" ry="10.6" fill="#9a8a90" opacity="0.92"/>
<ellipse cx="1286.6" cy="184.1" rx="10.6" ry="8.4" fill="#a58878" opacity="0.92"/>
<ellipse cx="1054.8" cy="361.2" rx="10.6" ry="14.8" fill="#96644a" opacity="0.92"/>
<ellipse cx="1120.8" cy="370.6" rx="21.1" ry="10.6" fill="#a08a80" transform="rotate(20 1120.8 370.6)" opacity="0.92"/>
<ellipse cx="1277.2" cy="378.1" rx="21.1" ry="8" fill="#a89080" transform="rotate(-10 1277.2 378.1)" opacity="0.92"/>
<ellipse cx="1375.1" cy="370.6" rx="10.6" ry="6.3" fill="#b09070" opacity="0.92"/>
<ellipse cx="1333.7" cy="218" rx="11.6" ry="10.6" fill="#a08878" opacity="0.92"/>
<ellipse cx="1243.2" cy="131.3" rx="12.7" ry="6.3" fill="#a08a88" opacity="0.92"/>
<ellipse cx="1277.2" cy="133.2" rx="10.6" ry="6.3" fill="#9a8a98" opacity="0.92"/>
<ellipse cx="1377" cy="138.8" rx="10.6" ry="8.4" fill="#a89088" opacity="0.92"/>
<ellipse cx="1211.2" cy="385.7" rx="6.3" ry="4.2" fill="#8a80b0" opacity="0.92"/>
<ellipse cx="1081.2" cy="280.1" rx="19" ry="6.3" fill="#a08480" transform="rotate(20 1081.2 280.1)" opacity="0.92"/>
<ellipse cx="1356.3" cy="263.2" rx="8.4" ry="6.3" fill="#9a88a0" opacity="0.92"/>
<ellipse cx="1224.4" cy="353.6" rx="12.7" ry="7.4" fill="#a89898" opacity="0.92"/>
<ellipse cx="1060.5" cy="225.5" rx="6.3" ry="10.6" fill="#a08070" opacity="0.92"/>
<ellipse cx="1079.3" cy="264.1" rx="25.3" ry="8" fill="#8a2a1a" transform="rotate(8 1079.3 264.1)" opacity="0.92"/>
<ellipse cx="1164.1" cy="249.1" rx="14.8" ry="12.7" fill="#8a3a1a" opacity="0.92"/>
<ellipse cx="1121.7" cy="280.1" rx="9.5" ry="14.8" fill="#8a2518" transform="rotate(-35 1121.7 280.1)" opacity="0.92"/>
<ellipse cx="1175.4" cy="288.6" rx="26.4" ry="13.1" fill="#a5501a" transform="rotate(10 1175.4 288.6)" opacity="0.92"/>
<ellipse cx="1245.1" cy="314.1" rx="15.8" ry="24.3" fill="#96521f" transform="rotate(-35 1245.1 314.1)" opacity="0.92"/>
<ellipse cx="1353.5" cy="153.9" rx="15.8" ry="13.7" fill="#8f4a25" opacity="0.92"/>
<ellipse cx="1341.2" cy="330.1" rx="11.6" ry="7" fill="#8a2a25" transform="rotate(-25 1341.2 330.1)" opacity="0.92"/>
<ellipse cx="1179.2" cy="338.6" rx="9.5" ry="7.4" fill="#9a3525" opacity="0.92"/>
<ellipse cx="1345" cy="280.1" rx="36.9" ry="9.5" fill="#b06a25" transform="rotate(25 1345 280.1)" opacity="0.92"/>
<ellipse cx="1364.8" cy="310.3" rx="12.7" ry="14.8" fill="#9a5a30" opacity="0.92"/>
<ellipse cx="1386.4" cy="272.6" rx="8.4" ry="12.7" fill="#a8601f" opacity="0.92"/>
<ellipse cx="1064.3" cy="306.5" rx="16.9" ry="20" fill="#a8703a" opacity="0.92"/>
<ellipse cx="1192.4" cy="142.6" rx="20" ry="9.5" fill="#b07a45" transform="rotate(10 1192.4 142.6)" opacity="0.92"/>
<ellipse cx="1279" cy="221.7" rx="8.9" ry="15.8" fill="#a0683f" transform="rotate(-10 1279 221.7)" opacity="0.92"/>
<ellipse cx="1256.4" cy="230.2" rx="14.8" ry="3.8" fill="#b06035" transform="rotate(-20 1256.4 230.2)" opacity="0.92"/>
<ellipse cx="1152.8" cy="204.8" rx="20" ry="6.8" fill="#a8764a" transform="rotate(15 1152.8 204.8)" opacity="0.92"/>
<ellipse cx="1305.4" cy="340.4" rx="23.2" ry="11.6" fill="#a8703a" transform="rotate(-10 1305.4 340.4)" opacity="0.92"/>
<ellipse cx="1299.8" cy="167.1" rx="12.7" ry="9.5" fill="#b88a5a" opacity="0.92"/>
<ellipse cx="1134" cy="250" rx="7.4" ry="7.4" fill="#b07a45" opacity="0.92"/>
<ellipse cx="1233.8" cy="155.8" rx="8.4" ry="7.4" fill="#b07a55" opacity="0.92"/>
<ellipse cx="1107.6" cy="344.2" rx="10.4" ry="6.2" fill="#fbfbe6" transform="rotate(-10 1107.6 344.2)" opacity="0.95"/>
<ellipse cx="1222.5" cy="204.8" rx="6.6" ry="7.5" fill="#f8f4e0" opacity="0.95"/>
<ellipse cx="1216.9" cy="265.1" rx="9.4" ry="17" fill="#f2e6dc" opacity="0.95"/>
<ellipse cx="1360.1" cy="189.7" rx="5.3" ry="11.3" fill="#f0ead8" transform="rotate(20 1360.1 189.7)" opacity="0.95"/>
<ellipse cx="1186.7" cy="323.5" rx="4.1" ry="11.3" fill="#f6edc8" opacity="0.95"/>
<ellipse cx="1380.8" cy="338.6" rx="6.6" ry="4.7" fill="#faf6e0" opacity="0.95"/>
</g></g>
<rect x="1044.6" y="128.3" width="347" height="259" fill="none" stroke="#222" stroke-width="1.5"/>
<g clip-path="url(#cpb3)">
<rect x="684.2" y="431.6" width="346.3" height="258.2" fill="#d6dde8"/>
<rect x="684.2" y="431.6" width="346.3" height="258.2" filter="url(#tex1b)" opacity="0.5"/>
<g filter="url(#bb1)"><rect x="684" y="431" width="20" height="260" fill="#cbd4e6"/></g>
<g filter="url(#bb3)">
<ellipse cx="784.3" cy="462.9" rx="20.5" ry="10.2" fill="#b35c34" transform="rotate(20 784.3 462.9)"/>
<ellipse cx="791.8" cy="475.9" rx="14" ry="10.2" fill="#bb6a40" transform="rotate(10 791.8 475.9)"/>
<ellipse cx="838.4" cy="457.3" rx="20.5" ry="7.5" fill="#b6623a" transform="rotate(15 838.4 457.3)"/>
<ellipse cx="844" cy="496.4" rx="27.9" ry="7.5" fill="#ae5a34" transform="rotate(15 844 496.4)"/>
<ellipse cx="925.9" cy="516.9" rx="24.2" ry="6.5" fill="#ae5a34" transform="rotate(-15 925.9 516.9)"/>
<ellipse cx="978.1" cy="507.6" rx="41" ry="5.6" fill="#b35c34" transform="rotate(20 978.1 507.6)"/>
<ellipse cx="1007.9" cy="531.8" rx="24.2" ry="5.6" fill="#b6623a" transform="rotate(40 1007.9 531.8)"/>
<ellipse cx="714.5" cy="578.4" rx="6.5" ry="22.4" fill="#b6623a" transform="rotate(-5 714.5 578.4)"/>
<ellipse cx="814.2" cy="584" rx="27.9" ry="6.5" fill="#b6623a" transform="rotate(10 814.2 584)"/>
<ellipse cx="801.1" cy="606.3" rx="16.8" ry="9.3" fill="#ae5a34"/>
<ellipse cx="745.2" cy="621.2" rx="10.2" ry="14.9" fill="#bd6c42" transform="rotate(-20 745.2 621.2)"/>
<ellipse cx="767.6" cy="623.1" rx="12.1" ry="15.8" fill="#bb6a40" transform="rotate(-25 767.6 623.1)"/>
<ellipse cx="858.9" cy="611.9" rx="26.1" ry="12.1" fill="#b6623a" transform="rotate(-5 858.9 611.9)"/>
<ellipse cx="899.9" cy="604.5" rx="27.9" ry="5.6" fill="#b35c34" transform="rotate(-20 899.9 604.5)"/>
<ellipse cx="940.9" cy="608.2" rx="18.6" ry="3.4" fill="#bd6c42" transform="rotate(-35 940.9 608.2)"/>
<ellipse cx="937.1" cy="582.1" rx="16.8" ry="8.4" fill="#bd6c42" transform="rotate(-25 937.1 582.1)"/>
<ellipse cx="959.5" cy="569.1" rx="14.9" ry="8.4" fill="#bb6a40"/>
<ellipse cx="1000.5" cy="561.6" rx="18.6" ry="5.6" fill="#bb6a40" transform="rotate(-20 1000.5 561.6)"/>
<ellipse cx="838.4" cy="518.8" rx="9.3" ry="7.5" fill="#b35c34"/>
<ellipse cx="829.1" cy="677.1" rx="42.9" ry="6.5" fill="#b6623a" transform="rotate(3 829.1 677.1)"/>
<ellipse cx="978.1" cy="461" rx="11.2" ry="6.5" fill="#bb6a40"/>
<ellipse cx="959.5" cy="453.5" rx="14.9" ry="4.7" fill="#b35c34" transform="rotate(10 959.5 453.5)"/>
<ellipse cx="724.7" cy="466.6" rx="9.3" ry="5.6" fill="#b6623a"/>
<ellipse cx="711.7" cy="543" rx="7.5" ry="7.5" fill="#bb6a40"/>
<ellipse cx="1024.7" cy="597" rx="7.5" ry="7.5" fill="#bb6a40"/>
<ellipse cx="1000.5" cy="597" rx="16.8" ry="4.7" fill="#b35c34" transform="rotate(20 1000.5 597)"/>
<ellipse cx="927.8" cy="625" rx="11.2" ry="3" fill="#b35c34" transform="rotate(-40 927.8 625)"/>
<ellipse cx="940.9" cy="667.8" rx="16.8" ry="3.4" fill="#bb6a40" transform="rotate(10 940.9 667.8)"/>
<ellipse cx="1034" cy="652.9" rx="7.5" ry="11.2" fill="#bb6a40"/>
<ellipse cx="918.5" cy="481.5" rx="11.2" ry="5.6" fill="#bb6a40"/>
<ellipse cx="970.7" cy="488.9" rx="11.2" ry="5.6" fill="#b6623a"/>
<ellipse cx="1015.4" cy="475.9" rx="9.3" ry="4.7" fill="#bd6c42"/>
<ellipse cx="1024.7" cy="442.4" rx="14.9" ry="3.7" fill="#bb6a40" transform="rotate(15 1024.7 442.4)"/>
<ellipse cx="894.3" cy="494.5" rx="14.9" ry="3.4" fill="#ae5a34" transform="rotate(-10 894.3 494.5)"/>
<ellipse cx="868.3" cy="478.8" rx="6.2" ry="3.3" fill="#bd6c42" transform="rotate(24.8 868.3 478.8)"/>
<ellipse cx="979.2" cy="434.9" rx="5.1" ry="4.2" fill="#bd6c42" transform="rotate(-25.1 979.2 434.9)"/>
<ellipse cx="765.2" cy="542" rx="5.1" ry="3.6" fill="#bb6a40" transform="rotate(-31.3 765.2 542)"/>
<ellipse cx="970" cy="444.2" rx="3.6" ry="2.8" fill="#bd6c42" transform="rotate(-27.6 970 444.2)"/>
<ellipse cx="911.1" cy="546.5" rx="4.4" ry="3.1" fill="#bd6c42" transform="rotate(-2.9 911.1 546.5)"/>
<ellipse cx="766.4" cy="516.2" rx="8.4" ry="6.8" fill="#bd6c42" transform="rotate(-27.8 766.4 516.2)"/>
<ellipse cx="852.7" cy="444.1" rx="7.5" ry="6.8" fill="#bb6a40" transform="rotate(26.4 852.7 444.1)"/>
<ellipse cx="706.5" cy="507.4" rx="9.1" ry="7.7" fill="#bd6c42" transform="rotate(-17.2 706.5 507.4)"/>
<ellipse cx="926" cy="453" rx="7" ry="6.3" fill="#bb6a40" transform="rotate(-26.6 926 453)"/>
<ellipse cx="715.4" cy="476.6" rx="8" ry="5.3" fill="#b6623a" transform="rotate(-26.8 715.4 476.6)"/>
<ellipse cx="721.1" cy="622.6" rx="6.9" ry="6.5" fill="#bd6c42" transform="rotate(-1.5 721.1 622.6)"/>
<ellipse cx="876" cy="632" rx="5.8" ry="5.5" fill="#b35c34" transform="rotate(-11.8 876 632)"/>
<ellipse cx="846" cy="559.5" rx="4.7" ry="3.3" fill="#ae5a34" transform="rotate(1.8 846 559.5)"/>
<ellipse cx="976.1" cy="561.2" rx="3.5" ry="2.2" fill="#b35c34" transform="rotate(-30.6 976.1 561.2)"/>
<ellipse cx="956.6" cy="540.3" rx="4.9" ry="3.2" fill="#bb6a40" transform="rotate(21.3 956.6 540.3)"/>
<ellipse cx="888" cy="687.7" rx="5.8" ry="5.2" fill="#b6623a" transform="rotate(2.3 888 687.7)"/>
<ellipse cx="864.4" cy="456.9" rx="4.6" ry="4.1" fill="#b35c34" transform="rotate(22 864.4 456.9)"/>
<ellipse cx="789.5" cy="670.3" rx="9.1" ry="4.8" fill="#b35c34" transform="rotate(27.7 789.5 670.3)"/>
<ellipse cx="738.9" cy="641.3" rx="8" ry="7.2" fill="#b35c34" transform="rotate(-6 738.9 641.3)"/>
<ellipse cx="754.2" cy="589.4" rx="8.2" ry="6.2" fill="#bd6c42" transform="rotate(12.7 754.2 589.4)"/>
<ellipse cx="1018.8" cy="549.7" rx="4.6" ry="4.3" fill="#ae5a34" transform="rotate(-18.9 1018.8 549.7)"/>
<ellipse cx="936.4" cy="547.3" rx="7.1" ry="6.6" fill="#ae5a34" transform="rotate(1 936.4 547.3)"/>
<ellipse cx="840.6" cy="638.3" rx="4.4" ry="3.9" fill="#b35c34" transform="rotate(-35.9 840.6 638.3)"/>
<ellipse cx="702.1" cy="476.4" rx="7.2" ry="4" fill="#bd6c42" transform="rotate(-41.1 702.1 476.4)"/>
<ellipse cx="818.8" cy="630.2" rx="9.2" ry="7.2" fill="#bd6c42" transform="rotate(4.1 818.8 630.2)"/>
<ellipse cx="889" cy="673.9" rx="6.4" ry="4.5" fill="#ae5a34" transform="rotate(-0.6 889 673.9)"/>
<ellipse cx="744.7" cy="454.3" rx="4.2" ry="3.6" fill="#bb6a40" transform="rotate(-35.8 744.7 454.3)"/>
<ellipse cx="726.1" cy="599.1" rx="8.7" ry="5.7" fill="#b35c34" transform="rotate(-20.2 726.1 599.1)"/>
<ellipse cx="800.2" cy="439" rx="3.5" ry="3.2" fill="#bb6a40" transform="rotate(16.4 800.2 439)"/>
<ellipse cx="968.2" cy="678.2" rx="4.3" ry="3.3" fill="#bd6c42" transform="rotate(-10.4 968.2 678.2)"/>
<ellipse cx="757.5" cy="556.2" rx="8.6" ry="5.2" fill="#bb6a40" transform="rotate(12.9 757.5 556.2)"/>
<ellipse cx="983.3" cy="609.9" rx="8.6" ry="5.2" fill="#b35c34" transform="rotate(-10.8 983.3 609.9)"/>
<ellipse cx="803.2" cy="492.3" rx="5.3" ry="4.1" fill="#ae5a34" transform="rotate(29.7 803.2 492.3)"/>
<ellipse cx="868.4" cy="682.3" rx="5.2" ry="3.6" fill="#bb6a40" transform="rotate(-2.9 868.4 682.3)"/>
<ellipse cx="761.5" cy="571.9" rx="7.5" ry="5.8" fill="#ae5a34" transform="rotate(-20.9 761.5 571.9)"/>
<ellipse cx="1028.1" cy="669.6" rx="7" ry="4.5" fill="#bb6a40" transform="rotate(-42.7 1028.1 669.6)"/>
<ellipse cx="1015.3" cy="454.1" rx="5" ry="4.4" fill="#bd6c42" transform="rotate(1.5 1015.3 454.1)"/>
<ellipse cx="995.7" cy="613.5" rx="7.7" ry="6.1" fill="#b6623a" transform="rotate(26.2 995.7 613.5)"/>
<ellipse cx="830.3" cy="608.4" rx="8.5" ry="5.5" fill="#ae5a34" transform="rotate(-19.1 830.3 608.4)"/>
<ellipse cx="1025.7" cy="504.7" rx="7.4" ry="4.7" fill="#b6623a" transform="rotate(13.2 1025.7 504.7)"/>
<ellipse cx="752.5" cy="651.2" rx="8.3" ry="5" fill="#ae5a34" transform="rotate(-5.7 752.5 651.2)"/>
<ellipse cx="812" cy="477.4" rx="6.5" ry="3.8" fill="#bb6a40" transform="rotate(-12 812 477.4)"/>
<ellipse cx="875.3" cy="686.9" rx="5.5" ry="2.9" fill="#ae5a34" transform="rotate(7.1 875.3 686.9)"/>
<ellipse cx="872.7" cy="645.7" rx="7.6" ry="3.9" fill="#bb6a40" transform="rotate(4.1 872.7 645.7)"/>
<ellipse cx="959.7" cy="666.6" rx="7.5" ry="4.1" fill="#bd6c42" transform="rotate(28.3 959.7 666.6)"/>
<ellipse cx="1017" cy="662" rx="9.2" ry="4.6" fill="#b35c34" transform="rotate(5.8 1017 662)"/>
<ellipse cx="799.4" cy="532.9" rx="7" ry="3.6" fill="#b6623a" transform="rotate(-17 799.4 532.9)"/>
<ellipse cx="950.6" cy="654.9" rx="5.1" ry="4.2" fill="#ae5a34" transform="rotate(13.1 950.6 654.9)"/>
<ellipse cx="924.6" cy="598" rx="7" ry="4.5" fill="#b35c34" transform="rotate(24.8 924.6 598)"/>
<ellipse cx="772.2" cy="598.2" rx="7.9" ry="6.3" fill="#bd6c42" transform="rotate(-49.4 772.2 598.2)"/>
<ellipse cx="1028.9" cy="475.8" rx="4.8" ry="4.2" fill="#bb6a40" transform="rotate(-40.9 1028.9 475.8)"/>
<ellipse cx="725.6" cy="650.8" rx="4.4" ry="3.6" fill="#b35c34" transform="rotate(-47.8 725.6 650.8)"/>
<ellipse cx="944.6" cy="631" rx="8.4" ry="7.9" fill="#b35c34" transform="rotate(-37 944.6 631)"/>
<ellipse cx="922.8" cy="560" rx="8.4" ry="7.2" fill="#bd6c42" transform="rotate(-18.6 922.8 560)"/>
<ellipse cx="881.6" cy="572.1" rx="5.5" ry="4.6" fill="#b6623a" transform="rotate(17.1 881.6 572.1)"/>
<ellipse cx="760.6" cy="525.1" rx="5.1" ry="3.4" fill="#bd6c42" transform="rotate(19.2 760.6 525.1)"/>
<ellipse cx="775" cy="689.1" rx="4.5" ry="3.3" fill="#b6623a" transform="rotate(-48.3 775 689.1)"/>
<ellipse cx="763.9" cy="645.3" rx="7.7" ry="7.1" fill="#b6623a" transform="rotate(-10.2 763.9 645.3)"/>
<ellipse cx="1015.8" cy="638.8" rx="8.1" ry="4.7" fill="#bd6c42" transform="rotate(29.6 1015.8 638.8)"/>
<ellipse cx="854.3" cy="524.6" rx="6" ry="3.4" fill="#ae5a34" transform="rotate(-47.6 854.3 524.6)"/>
<ellipse cx="919.2" cy="580.2" rx="5.4" ry="4.2" fill="#b6623a" transform="rotate(27.2 919.2 580.2)"/>
<ellipse cx="880.9" cy="527.1" rx="8.5" ry="5" fill="#b6623a" transform="rotate(-12.3 880.9 527.1)"/>
<ellipse cx="978.4" cy="571.6" rx="5.4" ry="5" fill="#b6623a" transform="rotate(6.7 978.4 571.6)"/>
<ellipse cx="960.8" cy="588.5" rx="6.6" ry="4.1" fill="#ae5a34" transform="rotate(-45.4 960.8 588.5)"/>
<ellipse cx="1005.2" cy="444.6" rx="5.4" ry="4.2" fill="#bb6a40" transform="rotate(23.4 1005.2 444.6)"/>
<ellipse cx="724.4" cy="544.5" rx="3.8" ry="2.6" fill="#bb6a40" transform="rotate(23 724.4 544.5)"/>
<ellipse cx="766.4" cy="607.3" rx="4.5" ry="2.6" fill="#b6623a" transform="rotate(7.2 766.4 607.3)"/>
<ellipse cx="872.2" cy="542.1" rx="3.9" ry="3.1" fill="#b35c34" transform="rotate(3.4 872.2 542.1)"/>
<ellipse cx="869.8" cy="574.3" rx="7.5" ry="3.9" fill="#b35c34" transform="rotate(-15.1 869.8 574.3)"/>
<ellipse cx="996.2" cy="681.2" rx="6.4" ry="4.7" fill="#b35c34" transform="rotate(3.2 996.2 681.2)"/>
<ellipse cx="913.1" cy="451.1" rx="9" ry="5.2" fill="#bd6c42" transform="rotate(11.4 913.1 451.1)"/>
<ellipse cx="914" cy="632.1" rx="6.9" ry="6.4" fill="#bb6a40" transform="rotate(-37.8 914 632.1)"/>
<ellipse cx="878.4" cy="496.7" rx="7.1" ry="4.1" fill="#bd6c42" transform="rotate(-11.4 878.4 496.7)"/>
<ellipse cx="881" cy="582.3" rx="6.8" ry="4" fill="#bd6c42" transform="rotate(26.6 881 582.3)"/>
<ellipse cx="801.3" cy="514.4" rx="5.1" ry="3.3" fill="#ae5a34" transform="rotate(-33.3 801.3 514.4)"/>
<ellipse cx="732.7" cy="493" rx="8.7" ry="6.8" fill="#ae5a34" transform="rotate(-34.5 732.7 493)"/>
<ellipse cx="774.4" cy="496.2" rx="9.1" ry="6.2" fill="#ae5a34" transform="rotate(-30.7 774.4 496.2)"/>
<ellipse cx="754.9" cy="608.9" rx="3.6" ry="2.2" fill="#bd6c42" transform="rotate(-20.1 754.9 608.9)"/>
<ellipse cx="816.4" cy="608.4" rx="3.4" ry="2.2" fill="#bd6c42" transform="rotate(10.7 816.4 608.4)"/>
<ellipse cx="958.1" cy="642.3" rx="7.4" ry="5.8" fill="#b35c34" transform="rotate(12 958.1 642.3)"/>
<ellipse cx="946.5" cy="522.5" rx="6.4" ry="5.4" fill="#b6623a" transform="rotate(12.9 946.5 522.5)"/>
<ellipse cx="762.5" cy="599.4" rx="4.4" ry="2.2" fill="#bd6c42" transform="rotate(26.4 762.5 599.4)"/>
<ellipse cx="791.3" cy="447.6" rx="3.7" ry="2.6" fill="#b35c34" transform="rotate(7.7 791.3 447.6)"/>
<ellipse cx="775" cy="638.3" rx="3.7" ry="2.9" fill="#b6623a" transform="rotate(-36.1 775 638.3)"/>
<ellipse cx="983.6" cy="565" rx="4.5" ry="4.2" fill="#bb6a40" transform="rotate(-9.9 983.6 565)"/>
<ellipse cx="782.8" cy="558.9" rx="5.7" ry="3" fill="#b6623a" transform="rotate(18 782.8 558.9)"/>
<ellipse cx="748.4" cy="476.7" rx="6.1" ry="5.4" fill="#ae5a34" transform="rotate(-7.9 748.4 476.7)"/>
<ellipse cx="790.1" cy="435" rx="5.7" ry="4.3" fill="#bb6a40" transform="rotate(20.5 790.1 435)"/>
<ellipse cx="961" cy="614.2" rx="4.1" ry="3" fill="#b35c34" transform="rotate(-35 961 614.2)"/>
<ellipse cx="727.2" cy="551.5" rx="3.9" ry="2.9" fill="#b35c34" transform="rotate(-27.7 727.2 551.5)"/>
<ellipse cx="955.5" cy="481.3" rx="8.2" ry="6.2" fill="#bb6a40" transform="rotate(-28.4 955.5 481.3)"/>
<ellipse cx="702.6" cy="535.6" rx="6.9" ry="4" fill="#bb6a40" transform="rotate(-10.7 702.6 535.6)"/>
<ellipse cx="1016" cy="625.4" rx="8.4" ry="6.1" fill="#b35c34" transform="rotate(-30.4 1016 625.4)"/>
<ellipse cx="811.2" cy="441.2" rx="4.6" ry="3.8" fill="#bd6c42" transform="rotate(-12.8 811.2 441.2)"/>
<ellipse cx="1028.3" cy="628.4" rx="3.8" ry="2.7" fill="#b35c34" transform="rotate(-28.2 1028.3 628.4)"/>
<ellipse cx="737.6" cy="602.1" rx="7.8" ry="7.1" fill="#bd6c42" transform="rotate(23.5 737.6 602.1)"/>
<ellipse cx="711.4" cy="489.6" rx="4.8" ry="3.5" fill="#ae5a34" transform="rotate(-34.7 711.4 489.6)"/>
<ellipse cx="800.4" cy="503" rx="6" ry="4.8" fill="#bd6c42" transform="rotate(-47.1 800.4 503)"/>
<ellipse cx="785.7" cy="632.6" rx="8" ry="4.4" fill="#ae5a34" transform="rotate(-45.9 785.7 632.6)"/>
<ellipse cx="891.7" cy="532.9" rx="4.1" ry="2.9" fill="#b35c34" transform="rotate(29.1 891.7 532.9)"/>
<ellipse cx="907.2" cy="565.2" rx="8" ry="4.2" fill="#bd6c42" transform="rotate(3.7 907.2 565.2)"/>
<ellipse cx="713.4" cy="608.8" rx="5" ry="4.2" fill="#b6623a" transform="rotate(28.3 713.4 608.8)"/>
<ellipse cx="996.7" cy="665.6" rx="6" ry="5.4" fill="#bb6a40" transform="rotate(19.9 996.7 665.6)"/>
<ellipse cx="785.4" cy="532.6" rx="3.7" ry="2.9" fill="#bb6a40" transform="rotate(-15.8 785.4 532.6)"/>
<ellipse cx="899.8" cy="538.3" rx="7.7" ry="7.2" fill="#ae5a34" transform="rotate(-15 899.8 538.3)"/>
<ellipse cx="915.8" cy="654.1" rx="7.5" ry="4.8" fill="#bd6c42" transform="rotate(3.3 915.8 654.1)"/>
<ellipse cx="811.5" cy="516.9" rx="7.1" ry="4.7" fill="#bb6a40" transform="rotate(17.8 811.5 516.9)"/>
<ellipse cx="747.5" cy="493" rx="5.5" ry="3" fill="#ae5a34" transform="rotate(-29.3 747.5 493)"/>
<ellipse cx="936.8" cy="490.1" rx="5.7" ry="3.6" fill="#b35c34" transform="rotate(-25 936.8 490.1)"/>
<ellipse cx="734.1" cy="560.3" rx="4.3" ry="2.6" fill="#b35c34" transform="rotate(-1.5 734.1 560.3)"/>
<ellipse cx="897.8" cy="448.8" rx="5.6" ry="4.6" fill="#b6623a" transform="rotate(9.8 897.8 448.8)"/>
<ellipse cx="846.6" cy="589.7" rx="6.2" ry="3.5" fill="#ae5a34" transform="rotate(2.5 846.6 589.7)"/>
<ellipse cx="988.1" cy="636.3" rx="8.3" ry="7.8" fill="#bd6c42" transform="rotate(-12.9 988.1 636.3)"/>
<ellipse cx="867.8" cy="491.5" rx="5.2" ry="3.6" fill="#b6623a" transform="rotate(9 867.8 491.5)"/>
<ellipse cx="891.5" cy="658.4" rx="4.4" ry="3.5" fill="#bb6a40" transform="rotate(-22.9 891.5 658.4)"/>
<ellipse cx="855.8" cy="471.4" rx="8.7" ry="6.3" fill="#bd6c42" transform="rotate(28.6 855.8 471.4)"/>
<ellipse cx="784.4" cy="602.1" rx="5.2" ry="3.8" fill="#ae5a34" transform="rotate(-7.3 784.4 602.1)"/>
<ellipse cx="838.2" cy="563.1" rx="6.7" ry="5.9" fill="#bd6c42" transform="rotate(-10.8 838.2 563.1)"/>
<ellipse cx="936.5" cy="641.7" rx="8.7" ry="7.7" fill="#ae5a34" transform="rotate(-16 936.5 641.7)"/>
<ellipse cx="771.1" cy="532.5" rx="6.1" ry="5.1" fill="#bb6a40" transform="rotate(-8.9 771.1 532.5)"/>
<ellipse cx="799" cy="524.5" rx="4.5" ry="2.6" fill="#bd6c42" transform="rotate(-11.1 799 524.5)"/>
<ellipse cx="863.9" cy="641.1" rx="4.8" ry="4.3" fill="#b35c34" transform="rotate(-48.1 863.9 641.1)"/>
<ellipse cx="762.7" cy="484" rx="8.9" ry="4.9" fill="#bb6a40" transform="rotate(13.8 762.7 484)"/>
<ellipse cx="752.6" cy="464" rx="8.6" ry="5.2" fill="#ae5a34" transform="rotate(-29.2 752.6 464)"/>
<ellipse cx="983.2" cy="589.3" rx="5.9" ry="3.7" fill="#b35c34" transform="rotate(-11.6 983.2 589.3)"/>
<ellipse cx="983.4" cy="544.7" rx="7.5" ry="4.2" fill="#b35c34" transform="rotate(3.2 983.4 544.7)"/>
<ellipse cx="1031.6" cy="609.9" rx="7.1" ry="5.1" fill="#b35c34" transform="rotate(-48.9 1031.6 609.9)"/>
<ellipse cx="1013.5" cy="498" rx="7.8" ry="7.3" fill="#b6623a" transform="rotate(-4.8 1013.5 498)"/>
<ellipse cx="987.7" cy="688.8" rx="3.7" ry="2.4" fill="#bd6c42" transform="rotate(-11.9 987.7 688.8)"/>
<ellipse cx="905.1" cy="670.2" rx="5.6" ry="3.6" fill="#b6623a" transform="rotate(-38.7 905.1 670.2)"/>
<ellipse cx="731.8" cy="616.3" rx="5.1" ry="4.4" fill="#bd6c42" transform="rotate(1.3 731.8 616.3)"/>
<ellipse cx="779.5" cy="583.3" rx="4.6" ry="3.3" fill="#b6623a" transform="rotate(14.1 779.5 583.3)"/>
<ellipse cx="893.5" cy="577.5" rx="4.6" ry="3.5" fill="#b6623a" transform="rotate(-9.9 893.5 577.5)"/>
<ellipse cx="926.1" cy="678.9" rx="6.3" ry="4.4" fill="#ae5a34" transform="rotate(6.1 926.1 678.9)"/>
<ellipse cx="789.6" cy="597.1" rx="4.6" ry="2.8" fill="#bb6a40" transform="rotate(-35.8 789.6 597.1)"/>
<ellipse cx="727.4" cy="641.6" rx="7.7" ry="4.4" fill="#bb6a40" transform="rotate(-13.5 727.4 641.6)"/>
<ellipse cx="747.3" cy="568.4" rx="4.6" ry="2.4" fill="#ae5a34" transform="rotate(4.1 747.3 568.4)"/>
<ellipse cx="785.9" cy="583" rx="3.5" ry="2.8" fill="#b35c34" transform="rotate(4.2 785.9 583)"/>
<ellipse cx="893.1" cy="642.9" rx="4.2" ry="2.4" fill="#b35c34" transform="rotate(-27.3 893.1 642.9)"/>
<ellipse cx="859.6" cy="542.3" rx="4.4" ry="4" fill="#ae5a34" transform="rotate(-21.1 859.6 542.3)"/>
<ellipse cx="860.9" cy="583.4" rx="5.9" ry="4" fill="#ae5a34" transform="rotate(-47.1 860.9 583.4)"/>
<ellipse cx="803.9" cy="558.6" rx="4.2" ry="3" fill="#bb6a40" transform="rotate(-4.6 803.9 558.6)"/>
<ellipse cx="903.6" cy="581.2" rx="3.6" ry="2.6" fill="#bb6a40" transform="rotate(-5 903.6 581.2)"/>
<ellipse cx="1024.7" cy="679" rx="4.1" ry="3.7" fill="#bd6c42" transform="rotate(-7.6 1024.7 679)"/>
<ellipse cx="884" cy="625.3" rx="3.7" ry="3.4" fill="#bb6a40" transform="rotate(0.7 884 625.3)"/>
<ellipse cx="818.5" cy="469.8" rx="4.3" ry="2.9" fill="#b35c34" transform="rotate(12 818.5 469.8)"/>
<ellipse cx="879.9" cy="444.5" rx="6.5" ry="5.8" fill="#b6623a" transform="rotate(14.8 879.9 444.5)"/>
<ellipse cx="973.6" cy="632.3" rx="5.1" ry="3.3" fill="#ae5a34" transform="rotate(25.5 973.6 632.3)"/>
<ellipse cx="925.3" cy="493.8" rx="5.3" ry="3.3" fill="#bd6c42" transform="rotate(-41.4 925.3 493.8)"/>
<ellipse cx="848.2" cy="538" rx="6.9" ry="5.9" fill="#bb6a40" transform="rotate(-24.5 848.2 538)"/>
<ellipse cx="820.8" cy="437.7" rx="3.8" ry="2" fill="#b35c34" transform="rotate(-18.6 820.8 437.7)"/>
<ellipse cx="701.4" cy="521.5" rx="6.7" ry="3.9" fill="#bd6c42" transform="rotate(29.3 701.4 521.5)"/>
<ellipse cx="1005.4" cy="676.7" rx="5.2" ry="4.3" fill="#b6623a" transform="rotate(-35.4 1005.4 676.7)"/>
<ellipse cx="992.9" cy="456" rx="5.7" ry="5.2" fill="#bd6c42" transform="rotate(8.7 992.9 456)"/>
<ellipse cx="917" cy="539.7" rx="6.2" ry="4.1" fill="#bd6c42" transform="rotate(-47 917 539.7)"/>
<ellipse cx="742.7" cy="582.8" rx="3.5" ry="3.2" fill="#bb6a40" transform="rotate(-4.4 742.7 582.8)"/>
<ellipse cx="898.2" cy="665.2" rx="5.5" ry="4.8" fill="#b6623a" transform="rotate(-39.3 898.2 665.2)"/>
<ellipse cx="942.2" cy="561.8" rx="5.4" ry="2.8" fill="#ae5a34" transform="rotate(-32.2 942.2 561.8)"/>
<ellipse cx="856.5" cy="570" rx="7.2" ry="4.8" fill="#b6623a" transform="rotate(10.8 856.5 570)"/>
<ellipse cx="707" cy="597.5" rx="3.5" ry="2.6" fill="#b35c34" transform="rotate(24 707 597.5)"/>
<ellipse cx="968.1" cy="598" rx="4.1" ry="3.7" fill="#b6623a" transform="rotate(2.1 968.1 598)"/>
<ellipse cx="738.5" cy="535" rx="8.3" ry="4.6" fill="#ae5a34" transform="rotate(-22 738.5 535)"/>
<ellipse cx="1016.4" cy="511.4" rx="3.7" ry="3.2" fill="#b6623a" transform="rotate(-34.7 1016.4 511.4)"/>
<ellipse cx="775.1" cy="443.8" rx="5.9" ry="5.4" fill="#ae5a34" transform="rotate(25.7 775.1 443.8)"/>
<ellipse cx="790.2" cy="645.5" rx="3.7" ry="2.4" fill="#b6623a" transform="rotate(5.2 790.2 645.5)"/>
<ellipse cx="1014.1" cy="576.6" rx="7.7" ry="7.1" fill="#bb6a40" transform="rotate(24.8 1014.1 576.6)"/>
<ellipse cx="701.5" cy="597.7" rx="3.6" ry="2.7" fill="#bb6a40" transform="rotate(6.2 701.5 597.7)"/>
<ellipse cx="964.8" cy="689.3" rx="8.6" ry="7" fill="#bb6a40" transform="rotate(-38.9 964.8 689.3)"/>
<ellipse cx="777.9" cy="538.7" rx="3.6" ry="2" fill="#ae5a34" transform="rotate(-8.7 777.9 538.7)"/>
<ellipse cx="733.3" cy="519.3" rx="4.9" ry="3" fill="#bd6c42" transform="rotate(20.7 733.3 519.3)"/>
<ellipse cx="897.3" cy="437.3" rx="5.6" ry="4.8" fill="#ae5a34" transform="rotate(-12.8 897.3 437.3)"/>
<ellipse cx="1030.9" cy="686.5" rx="6.2" ry="4.1" fill="#b35c34" transform="rotate(-4.8 1030.9 686.5)"/>
<ellipse cx="921.1" cy="434.8" rx="3.4" ry="2.3" fill="#b6623a" transform="rotate(15.8 921.1 434.8)"/>
<ellipse cx="983" cy="627.7" rx="4.9" ry="4.1" fill="#bb6a40" transform="rotate(15.4 983 627.7)"/>
<ellipse cx="799.3" cy="565.9" rx="6.2" ry="4.7" fill="#b35c34" transform="rotate(-39.4 799.3 565.9)"/>
<ellipse cx="876.6" cy="593.7" rx="8.9" ry="5.7" fill="#b35c34" transform="rotate(-34.9 876.6 593.7)"/>
<ellipse cx="943.9" cy="465.9" rx="8.9" ry="5.2" fill="#ae5a34" transform="rotate(9.5 943.9 465.9)"/>
<ellipse cx="866.2" cy="527.6" rx="5.1" ry="2.7" fill="#bd6c42" transform="rotate(-2.4 866.2 527.6)"/>
<ellipse cx="908.3" cy="532.8" rx="6.1" ry="3.7" fill="#ae5a34" transform="rotate(-28.7 908.3 532.8)"/>
<ellipse cx="931.5" cy="441.5" rx="3.8" ry="3.4" fill="#ae5a34" transform="rotate(-10.1 931.5 441.5)"/>
<ellipse cx="824.7" cy="559.9" rx="4.5" ry="4.1" fill="#b6623a" transform="rotate(-8 824.7 559.9)"/>
<ellipse cx="878.4" cy="434.3" rx="7.4" ry="5.4" fill="#bb6a40" transform="rotate(12.5 878.4 434.3)"/>
<ellipse cx="963.2" cy="436.4" rx="5.8" ry="5.2" fill="#bb6a40" transform="rotate(-47.2 963.2 436.4)"/>
<ellipse cx="785.3" cy="516.6" rx="7.8" ry="5.6" fill="#ae5a34" transform="rotate(-40.7 785.3 516.6)"/>
<ellipse cx="787.8" cy="688.3" rx="5.1" ry="3.9" fill="#ae5a34" transform="rotate(-29.5 787.8 688.3)"/>
<ellipse cx="939.6" cy="688.6" rx="8" ry="4.7" fill="#b6623a" transform="rotate(18.2 939.6 688.6)"/>
<ellipse cx="843" cy="579" rx="8.6" ry="4.9" fill="#b6623a" transform="rotate(-10.4 843 579)"/>
<ellipse cx="776.9" cy="659.2" rx="4.8" ry="4.2" fill="#bd6c42" transform="rotate(-23.2 776.9 659.2)"/>
<ellipse cx="818.5" cy="456.8" rx="7.8" ry="4.8" fill="#ae5a34" transform="rotate(-20.1 818.5 456.8)"/>
<ellipse cx="1029.1" cy="572.9" rx="9" ry="7.7" fill="#b6623a" transform="rotate(23.3 1029.1 572.9)"/>
<ellipse cx="1024.8" cy="638.5" rx="4.6" ry="2.6" fill="#ae5a34" transform="rotate(-31.8 1024.8 638.5)"/>
<ellipse cx="827.5" cy="437.9" rx="4" ry="2.2" fill="#bd6c42" transform="rotate(-7.1 827.5 437.9)"/>
<ellipse cx="1021.1" cy="650.7" rx="4.4" ry="2.6" fill="#ae5a34" transform="rotate(26.1 1021.1 650.7)"/>
<ellipse cx="981.5" cy="682.1" rx="6.5" ry="5.9" fill="#b35c34" transform="rotate(28.2 981.5 682.1)"/>
<ellipse cx="840.6" cy="548.3" rx="8.1" ry="6.9" fill="#bd6c42" transform="rotate(15.1 840.6 548.3)"/>
<ellipse cx="906.6" cy="435.1" rx="4" ry="2.9" fill="#ae5a34" transform="rotate(23.5 906.6 435.1)"/>
<ellipse cx="816.9" cy="486" rx="3.7" ry="2.1" fill="#bd6c42" transform="rotate(-20.5 816.9 486)"/>
<ellipse cx="902.9" cy="648" rx="6.2" ry="5.1" fill="#ae5a34" transform="rotate(-1.8 902.9 648)"/>
<ellipse cx="744.4" cy="501.1" rx="4" ry="2.9" fill="#b6623a" transform="rotate(17.3 744.4 501.1)"/>
<ellipse cx="980.4" cy="618.7" rx="3.7" ry="2.1" fill="#b6623a" transform="rotate(-15.7 980.4 618.7)"/>
<ellipse cx="732.5" cy="477.7" rx="8.1" ry="6.2" fill="#bd6c42" transform="rotate(-29.3 732.5 477.7)"/>
<ellipse cx="805.6" cy="637.9" rx="5.2" ry="2.9" fill="#b6623a" transform="rotate(29.8 805.6 637.9)"/>
<ellipse cx="822.4" cy="541.4" rx="4.8" ry="3.7" fill="#bd6c42" transform="rotate(-4.7 822.4 541.4)"/>
<ellipse cx="1002.4" cy="485.1" rx="3.8" ry="3.5" fill="#bd6c42" transform="rotate(-17.7 1002.4 485.1)"/>
<ellipse cx="947.9" cy="593" rx="5.5" ry="4.4" fill="#bd6c42" transform="rotate(18 947.9 593)"/>
<ellipse cx="1022" cy="687.9" rx="5.3" ry="4.2" fill="#b6623a" transform="rotate(-19.9 1022 687.9)"/>
<ellipse cx="1010.4" cy="450" rx="3.9" ry="3.3" fill="#ae5a34" transform="rotate(-20.6 1010.4 450)"/>
<ellipse cx="757.5" cy="495.8" rx="5.2" ry="2.7" fill="#bd6c42" transform="rotate(5.2 757.5 495.8)"/>
<ellipse cx="775.8" cy="679.1" rx="6.7" ry="6" fill="#bb6a40" transform="rotate(2.1 775.8 679.1)"/>
<ellipse cx="761.5" cy="439.7" rx="7.3" ry="3.7" fill="#bd6c42" transform="rotate(5.2 761.5 439.7)"/>
<ellipse cx="868.1" cy="440.5" rx="8.5" ry="4.8" fill="#ae5a34" transform="rotate(-32.8 868.1 440.5)"/>
<ellipse cx="973.4" cy="587.8" rx="4.5" ry="4.2" fill="#bd6c42" transform="rotate(-34.8 973.4 587.8)"/>
<ellipse cx="997" cy="440.7" rx="4.8" ry="2.5" fill="#ae5a34" transform="rotate(-0.9 997 440.7)"/>
<ellipse cx="748.4" cy="546.3" rx="6.3" ry="4.5" fill="#ae5a34" transform="rotate(-9.9 748.4 546.3)"/>
<ellipse cx="861" cy="553.5" rx="3.6" ry="2.5" fill="#b6623a" transform="rotate(3.6 861 553.5)"/>
<ellipse cx="1025.8" cy="558.8" rx="8.6" ry="6.5" fill="#bb6a40" transform="rotate(1.4 1025.8 558.8)"/>
<ellipse cx="896.9" cy="566.3" rx="6.3" ry="4.8" fill="#ae5a34" transform="rotate(-6.1 896.9 566.3)"/>
<ellipse cx="718.5" cy="499.5" rx="8.8" ry="8" fill="#ae5a34" transform="rotate(-18.5 718.5 499.5)"/>
<ellipse cx="918.6" cy="618.5" rx="3.7" ry="2.2" fill="#bd6c42" transform="rotate(23.4 918.6 618.5)"/>
<ellipse cx="955.6" cy="556" rx="4.2" ry="2.8" fill="#b6623a" transform="rotate(-43.5 955.6 556)"/>
<ellipse cx="758.7" cy="506.8" rx="4.5" ry="2.5" fill="#ae5a34" transform="rotate(-17 758.7 506.8)"/>
<ellipse cx="1019.1" cy="610.5" rx="7.5" ry="6" fill="#ae5a34" transform="rotate(-30.6 1019.1 610.5)"/>
<ellipse cx="781.2" cy="645.7" rx="7.1" ry="3.9" fill="#b6623a" transform="rotate(-23.4 781.2 645.7)"/>
<ellipse cx="877.8" cy="623.3" rx="4.5" ry="3.5" fill="#b35c34" transform="rotate(-28.7 877.8 623.3)"/>
<ellipse cx="795.2" cy="493.2" rx="5.3" ry="3.7" fill="#bb6a40" transform="rotate(0.3 795.2 493.2)"/>
<ellipse cx="733.5" cy="634.6" rx="4.2" ry="2.6" fill="#ae5a34" transform="rotate(11.9 733.5 634.6)"/>
<ellipse cx="957.2" cy="548.4" rx="4.7" ry="2.8" fill="#b35c34" transform="rotate(4.3 957.2 548.4)"/>
<ellipse cx="988.8" cy="662.2" rx="4.1" ry="2.9" fill="#bd6c42" transform="rotate(12.4 988.8 662.2)"/>
<ellipse cx="705.1" cy="606.4" rx="5" ry="4.6" fill="#b6623a" transform="rotate(-25.1 705.1 606.4)"/>
<ellipse cx="788.4" cy="547.7" rx="7.8" ry="4.8" fill="#bd6c42" transform="rotate(-46.1 788.4 547.7)"/>
<ellipse cx="1005" cy="655.6" rx="5.5" ry="3.1" fill="#bb6a40" transform="rotate(-43.4 1005 655.6)"/>
<ellipse cx="983.7" cy="651.4" rx="4.8" ry="3.1" fill="#ae5a34" transform="rotate(-35.3 983.7 651.4)"/>
<ellipse cx="847.2" cy="631.5" rx="5.9" ry="4.4" fill="#b35c34" transform="rotate(-5.4 847.2 631.5)"/>
<ellipse cx="734" cy="452.1" rx="5.3" ry="3.4" fill="#b35c34" transform="rotate(13.1 734 452.1)"/>
<ellipse cx="712.9" cy="526.9" rx="7.9" ry="4.9" fill="#b6623a" transform="rotate(-45 712.9 526.9)"/>
<ellipse cx="1011.1" cy="584.3" rx="4" ry="3.5" fill="#bb6a40" transform="rotate(-20.4 1011.1 584.3)"/>
<ellipse cx="768.2" cy="589.1" rx="4.5" ry="3.3" fill="#bd6c42" transform="rotate(-40.2 768.2 589.1)"/>
<ellipse cx="943.2" cy="475.3" rx="3.4" ry="1.8" fill="#b35c34" transform="rotate(-29.2 943.2 475.3)"/>
<ellipse cx="947.1" cy="500.6" rx="5.3" ry="3.5" fill="#ae5a34" transform="rotate(9.2 947.1 500.6)"/>
<ellipse cx="771.2" cy="559.1" rx="6.3" ry="4.7" fill="#bb6a40" transform="rotate(-14.5 771.2 559.1)"/>
<ellipse cx="727.7" cy="456.4" rx="3.6" ry="2.7" fill="#ae5a34" transform="rotate(10.1 727.7 456.4)"/>
<ellipse cx="970.5" cy="620.7" rx="6.7" ry="4.8" fill="#bb6a40" transform="rotate(-28.5 970.5 620.7)"/>
<ellipse cx="974.2" cy="648.4" rx="6.2" ry="4" fill="#b6623a" transform="rotate(11.9 974.2 648.4)"/>
<ellipse cx="724.2" cy="526.7" rx="4.5" ry="2.4" fill="#b35c34" transform="rotate(-46 724.2 526.7)"/>
<ellipse cx="817.8" cy="505.5" rx="8.7" ry="7.7" fill="#b35c34" transform="rotate(-33.8 817.8 505.5)"/>
<ellipse cx="935.1" cy="566.6" rx="4.2" ry="2.4" fill="#bd6c42" transform="rotate(-19 935.1 566.6)"/>
<ellipse cx="1002.5" cy="461.6" rx="4.7" ry="3.7" fill="#bd6c42" transform="rotate(-9.9 1002.5 461.6)"/>
<ellipse cx="775.1" cy="545.3" rx="5.7" ry="3.9" fill="#bb6a40" transform="rotate(-8.8 775.1 545.3)"/>
<ellipse cx="788.2" cy="569.3" rx="3.8" ry="2.3" fill="#b6623a" transform="rotate(-32.6 788.2 569.3)"/>
<ellipse cx="863.1" cy="514.6" rx="7.5" ry="4.2" fill="#bd6c42" transform="rotate(17.8 863.1 514.6)"/>
</g>
<rect x="684.2" y="431.6" width="346.3" height="258.2" filter="url(#tex3)"/>
</g>
<rect x="684.2" y="431.6" width="346.3" height="258.2" fill="none" stroke="#222" stroke-width="1.5"/>
<rect x="691.2" y="675.3" width="54.4" height="7.6" fill="#222"/>
<rect x="764.5" y="448.2" width="60" height="44.5" fill="none" stroke="#1a1a1a" stroke-width="3.6" stroke-dasharray="9.5 7.5"/>
<line x1="824.5" y1="448.2" x2="1043.6" y2="427" stroke="#1a1a1a" stroke-width="3.6" stroke-dasharray="9.5 9"/>
<line x1="824.5" y1="492.7" x2="1042" y2="690" stroke="#1a1a1a" stroke-width="3.6" stroke-dasharray="9.5 9"/>
<g clip-path="url(#cpb4)">
<rect x="1042" y="430.8" width="346.8" height="259" fill="#dde4ee"/>
<g filter="url(#bb2)">
<ellipse cx="1190.5" cy="448.3" rx="3.9" ry="4.6" fill="#aab2de" transform="rotate(-28.9 1190.5 448.3)" opacity="0.8"/>
<ellipse cx="1216.9" cy="453.9" rx="4.6" ry="3.8" fill="#aab2de" transform="rotate(0.2 1216.9 453.9)" opacity="0.8"/>
<ellipse cx="1228.2" cy="455.8" rx="4.7" ry="4" fill="#aab2de" transform="rotate(4.3 1228.2 455.8)" opacity="0.8"/>
<ellipse cx="1175.4" cy="440.7" rx="4.2" ry="3.9" fill="#aab2de" transform="rotate(-9.7 1175.4 440.7)" opacity="0.8"/>
<ellipse cx="1269.6" cy="476.5" rx="4.3" ry="4.8" fill="#aab2de" transform="rotate(18 1269.6 476.5)" opacity="0.8"/>
<ellipse cx="1280.9" cy="438.8" rx="3.3" ry="4.3" fill="#aab2de" transform="rotate(-31.1 1280.9 438.8)" opacity="0.8"/>
<ellipse cx="1060.5" cy="510.4" rx="4" ry="5.9" fill="#aab2de" transform="rotate(7.2 1060.5 510.4)" opacity="0.8"/>
<ellipse cx="1064.3" cy="565.1" rx="4.5" ry="4.6" fill="#aab2de" transform="rotate(19.7 1064.3 565.1)" opacity="0.8"/>
<ellipse cx="1066.1" cy="583.9" rx="3.2" ry="4.4" fill="#aab2de" transform="rotate(13.9 1066.1 583.9)" opacity="0.8"/>
<ellipse cx="1090.6" cy="595.2" rx="4.4" ry="4.7" fill="#aab2de" transform="rotate(-33 1090.6 595.2)" opacity="0.8"/>
<ellipse cx="1141.5" cy="600.9" rx="3.5" ry="4.2" fill="#aab2de" transform="rotate(-17.5 1141.5 600.9)" opacity="0.8"/>
<ellipse cx="1107.6" cy="612.2" rx="4.5" ry="4.2" fill="#aab2de" transform="rotate(30.9 1107.6 612.2)" opacity="0.8"/>
<ellipse cx="1117" cy="651.7" rx="4.7" ry="3.9" fill="#aab2de" transform="rotate(-9.7 1117 651.7)" opacity="0.8"/>
<ellipse cx="1109.5" cy="640.4" rx="3.9" ry="3.8" fill="#aab2de" transform="rotate(-6 1109.5 640.4)" opacity="0.8"/>
<ellipse cx="1152.8" cy="670.6" rx="4.7" ry="4" fill="#aab2de" transform="rotate(7.7 1152.8 670.6)" opacity="0.8"/>
<ellipse cx="1118.9" cy="672.5" rx="3.2" ry="5.1" fill="#aab2de" transform="rotate(31.6 1118.9 672.5)" opacity="0.8"/>
<ellipse cx="1305.4" cy="518" rx="3.4" ry="3.8" fill="#aab2de" transform="rotate(-33.3 1305.4 518)" opacity="0.8"/>
<ellipse cx="1307.3" cy="529.3" rx="4" ry="3.8" fill="#aab2de" transform="rotate(-33.2 1307.3 529.3)" opacity="0.8"/>
<ellipse cx="1284.7" cy="523.6" rx="4" ry="5.9" fill="#aab2de" transform="rotate(-6.4 1284.7 523.6)" opacity="0.8"/>
<ellipse cx="1345" cy="550" rx="3.8" ry="5.2" fill="#aab2de" transform="rotate(-32.5 1345 550)" opacity="0.8"/>
<ellipse cx="1352.5" cy="576.4" rx="4.1" ry="4.2" fill="#aab2de" transform="rotate(8.7 1352.5 576.4)" opacity="0.8"/>
<ellipse cx="1331.8" cy="544.3" rx="4.8" ry="3.9" fill="#aab2de" transform="rotate(4.4 1331.8 544.3)" opacity="0.8"/>
<ellipse cx="1337.4" cy="485.9" rx="4.2" ry="4.1" fill="#aab2de" transform="rotate(-18.5 1337.4 485.9)" opacity="0.8"/>
<ellipse cx="1373.2" cy="527.4" rx="4.9" ry="6" fill="#aab2de" transform="rotate(-30.3 1373.2 527.4)" opacity="0.8"/>
<ellipse cx="1346.9" cy="521.7" rx="4.3" ry="5.9" fill="#aab2de" transform="rotate(-21.1 1346.9 521.7)" opacity="0.8"/>
<ellipse cx="1329.9" cy="501" rx="4.2" ry="3.9" fill="#aab2de" transform="rotate(-10.7 1329.9 501)" opacity="0.8"/>
<ellipse cx="1248.9" cy="484.1" rx="4.3" ry="5.1" fill="#aab2de" transform="rotate(22 1248.9 484.1)" opacity="0.8"/>
<ellipse cx="1137.7" cy="585.8" rx="3.2" ry="4.6" fill="#aab2de" transform="rotate(29.1 1137.7 585.8)" opacity="0.8"/>
<ellipse cx="1152.8" cy="640.4" rx="4.1" ry="4.8" fill="#aab2de" transform="rotate(-7.8 1152.8 640.4)" opacity="0.8"/>
<ellipse cx="1167.9" cy="636.7" rx="4.9" ry="5.1" fill="#aab2de" transform="rotate(-38.5 1167.9 636.7)" opacity="0.8"/>
<ellipse cx="1314.8" cy="452" rx="4.5" ry="4.5" fill="#aab2de" transform="rotate(-5.3 1314.8 452)" opacity="0.8"/>
<ellipse cx="1077.4" cy="476.5" rx="3.4" ry="4.8" fill="#aab2de" transform="rotate(-14 1077.4 476.5)" opacity="0.8"/>
<ellipse cx="1098.2" cy="563.2" rx="3.2" ry="5.2" fill="#aab2de" transform="rotate(-31.8 1098.2 563.2)" opacity="0.8"/>
<ellipse cx="1365.7" cy="589.6" rx="4.5" ry="3.8" fill="#aab2de" transform="rotate(22.5 1365.7 589.6)" opacity="0.8"/>
<ellipse cx="1318.6" cy="599" rx="4.5" ry="4.9" fill="#aab2de" transform="rotate(16.8 1318.6 599)" opacity="0.8"/>
<ellipse cx="1345" cy="521.7" rx="11.3" ry="13.2" fill="#b4c0da" opacity="0.8"/>
<ellipse cx="1346.9" cy="442.6" rx="22.6" ry="4.7" fill="#c8d2ec" transform="rotate(-20 1346.9 442.6)" opacity="0.8"/>
</g>
<g filter="url(#bb4)">
<path d="M1083.1 506.7 L1086.9 482.2 L1100.1 465.2 L1124.6 455.8 L1149 461.1 L1167.9 476.5 L1196.1 485 L1224.4 493.5 L1239.5 506.7 L1237.6 524.6 L1216.9 533 L1192.4 530.2 L1179.2 539.6 L1149 549.6 L1130.2 547.7 L1111.4 536.8 L1096.3 521.7Z" fill="#b5602f" stroke="#b5602f" stroke-width="5" stroke-linejoin="round"/>
<path d="M1160.3 570.7 L1167.9 558.5 L1192.4 550.4 L1216.9 541 L1231.9 548.1 L1243.2 538.3 L1271.5 537.9 L1294.1 551.9 L1309.2 570.7 L1312 585.8 L1303.5 599 L1290.3 603.7 L1303.5 615.9 L1307.3 632.9 L1297.9 644.2 L1279 650.2 L1267.7 640.4 L1243.2 638.6 L1215 629.1 L1192.4 619.7 L1175.4 606.5 L1164.1 589.6Z" fill="#b5602f" stroke="#b5602f" stroke-width="5" stroke-linejoin="round"/>
<path d="M1041.7 595.2 L1060.5 604.6 L1075.6 621.6 L1085 640.4 L1079.3 651.7 L1062.4 648 L1041.7 636.7Z" fill="#b5602f" stroke="#b5602f" stroke-width="5" stroke-linejoin="round"/>
<path d="M1041.7 657.4 L1056.7 663 L1066.1 676.2 L1064.3 689.4 L1041.7 689.4Z" fill="#b5602f" stroke="#b5602f" stroke-width="5" stroke-linejoin="round"/>
<path d="M1164.1 629.1 L1179.2 632.9 L1196.1 642.3 L1209.3 657.4 L1224.4 664.9 L1239.5 661.2 L1250.8 670.6 L1252.7 689.4 L1192.4 689.4 L1179.2 670.6 L1166 648Z" fill="#b5602f" stroke="#b5602f" stroke-width="5" stroke-linejoin="round"/>
<path d="M1267.7 689.4 L1290.3 681.9 L1314.8 664.9 L1329.9 657.4 L1356.3 655.5 L1360.1 640.4 L1375.1 629.1 L1390.2 627.2 L1390.2 689.4Z" fill="#b5602f" stroke="#b5602f" stroke-width="5" stroke-linejoin="round"/>
<path d="M1390.2 470.9 L1379.8 476.5 L1375.1 491.6 L1380.8 504.8 L1390.2 510.4Z" fill="#b0684a" stroke="#b0684a" stroke-width="5" stroke-linejoin="round"/>
<ellipse cx="1331.8" cy="632" rx="11.3" ry="7.5" fill="#a84a3a" transform="rotate(10 1331.8 632)"/>
<ellipse cx="1311.1" cy="661.2" rx="4.7" ry="4.7" fill="#a84a3a"/>
<ellipse cx="1115.1" cy="590.5" rx="8.5" ry="14.1" fill="#b0607a" transform="rotate(-20 1115.1 590.5)" opacity="0.7"/>
<ellipse cx="1201.8" cy="593.3" rx="26.4" ry="13.2" fill="#a04c1c" transform="rotate(35 1201.8 593.3)" opacity="0.55"/>
<ellipse cx="1271.5" cy="627.2" rx="28.3" ry="9.4" fill="#a04c1c" transform="rotate(10 1271.5 627.2)" opacity="0.55"/>
<ellipse cx="1130.2" cy="525.5" rx="22.6" ry="13.2" fill="#a04c1c" transform="rotate(20 1130.2 525.5)" opacity="0.55"/>
<ellipse cx="1196.1" cy="510.4" rx="17" ry="9.4" fill="#a04c1c" transform="rotate(20 1196.1 510.4)" opacity="0.55"/>
<ellipse cx="1290.3" cy="570.7" rx="13.2" ry="17" fill="#a04c1c" opacity="0.55"/>
<ellipse cx="1113.2" cy="485" rx="5.7" ry="5.7" fill="#a9c4c4" opacity="0.9"/>
<ellipse cx="1121.7" cy="521.7" rx="6.8" ry="6.8" fill="#b9c8c0" opacity="0.9"/>
<ellipse cx="1215" cy="512.3" rx="5.7" ry="5.7" fill="#b5cbc0" opacity="0.9"/>
<ellipse cx="1233.8" cy="508.6" rx="5.3" ry="5.3" fill="#f0f0e0" opacity="0.9"/>
<ellipse cx="1139.6" cy="533" rx="5.7" ry="5.7" fill="#f4f4ea" opacity="0.9"/>
<ellipse cx="1198" cy="533" rx="6.6" ry="6.6" fill="#f0f0ea" opacity="0.9"/>
<ellipse cx="1184.8" cy="555.7" rx="5.7" ry="5.7" fill="#b4c4c0" opacity="0.9"/>
<ellipse cx="1221.6" cy="560.4" rx="4.9" ry="4.9" fill="#b8d0c8" opacity="0.9"/>
<ellipse cx="1239.5" cy="550" rx="5.7" ry="5.7" fill="#a9c4cc" opacity="0.9"/>
<ellipse cx="1276.2" cy="551.9" rx="6" ry="6" fill="#b4ccc8" opacity="0.9"/>
<ellipse cx="1260.2" cy="566" rx="5.7" ry="5.7" fill="#bcc8c4" opacity="0.9"/>
<ellipse cx="1248.9" cy="580.1" rx="6" ry="6" fill="#b8c4c4" opacity="0.9"/>
<ellipse cx="1224.4" cy="589.6" rx="8.7" ry="8.7" fill="#b4ccd0" opacity="0.9"/>
<ellipse cx="1275.3" cy="583.9" rx="4.5" ry="4.5" fill="#d0d8c0" opacity="0.9"/>
<ellipse cx="1198" cy="610.3" rx="6" ry="6" fill="#c8c8b8" opacity="0.9"/>
<ellipse cx="1221.6" cy="620.7" rx="6.8" ry="6.8" fill="#b8ccc8" opacity="0.9"/>
<ellipse cx="1058.6" cy="625.4" rx="5.3" ry="5.3" fill="#b0c8c0" opacity="0.9"/>
<ellipse cx="1327.1" cy="672.5" rx="5.7" ry="5.7" fill="#a8c4c8" opacity="0.9"/>
<ellipse cx="1341.2" cy="683.8" rx="5.3" ry="5.3" fill="#b0c8c8" opacity="0.9"/>
<ellipse cx="1203.7" cy="682.8" rx="5.3" ry="5.3" fill="#a8c0c0" opacity="0.9"/>
<ellipse cx="1381.7" cy="493.5" rx="4.1" ry="4.1" fill="#a8c0d0" opacity="0.9"/>
<ellipse cx="1181.1" cy="569.8" rx="2.3" ry="2.3" fill="#f4f0d8" opacity="0.9"/>
<ellipse cx="1130.2" cy="476.5" rx="5.7" ry="5.7" fill="#c0a890" opacity="0.9"/>
<ellipse cx="1171.7" cy="585.8" rx="3.8" ry="3.8" fill="#d0b090" opacity="0.9"/>
<path d="M1184.8 655.5 L1224.4 681.9" stroke="#e8e4dc" stroke-width="4" fill="none"/>
<circle cx="1272.4" cy="609.3" r="5" fill="#9a4a30" stroke="#e8d8a0" stroke-width="2"/>
</g>
</g>
<rect x="1042" y="430.8" width="346.8" height="259" fill="none" stroke="#222" stroke-width="1.5"/>
<text x="1430" y="34.5" font-size="39" fill="#1a1a1a" font-weight="bold">c</text>
<line x1="1526.2" y1="130" x2="1526.2" y2="684.3" stroke="#1a1a1a" stroke-width="2"/>
<line x1="1525.2" y1="683.4" x2="2100" y2="683.4" stroke="#1a1a1a" stroke-width="2"/>
<path d="M1526.2 116.5 L1535.2 141.5 L1526.2 137 L1517.2 141.5Z" fill="#1a1a1a"/>
<path d="M2126 683.4 L2099 692.6 L2104 683.4 L2099 674.2Z" fill="#1a1a1a"/>
<text font-size="31.5" fill="#1a1a1a" text-anchor="middle" transform="translate(1503 394) rotate(-90)">% of Max</text>
<text x="1817" y="719.5" font-size="31.5" fill="#1a1a1a" text-anchor="middle">GFP (FITC) Intensity</text>
<line x1="1543.2" y1="76.3" x2="1573.5" y2="76.3" stroke="#2e2d8c" stroke-width="6.6"/>
<line x1="1543.2" y1="107.4" x2="1573.5" y2="107.4" stroke="#a82424" stroke-width="6.6"/>
<text x="1578" y="86.8" font-size="31.5" fill="#1a1a1a">day 0</text>
<text x="1578" y="117.8" font-size="31.5" fill="#1a1a1a">day 14</text>
<line x1="1578.3" y1="141.8" x2="1578.3" y2="371.2" stroke="#000" stroke-width="2.2"/>
<line x1="1577.2" y1="370.2" x2="1808.3" y2="370.2" stroke="#000" stroke-width="2.2"/>
<line x1="1572.7" y1="370.2" x2="1578.3" y2="370.2" stroke="#000" stroke-width="1.8"/>
<text x="1570.1" y="376.8" font-size="24.3" fill="#1a1a1a" text-anchor="end">0</text>
<line x1="1572.7" y1="326.6" x2="1578.3" y2="326.6" stroke="#000" stroke-width="1.8"/>
<text x="1570.1" y="333.2" font-size="24.3" fill="#1a1a1a" text-anchor="end">20</text>
<line x1="1572.7" y1="283" x2="1578.3" y2="283" stroke="#000" stroke-width="1.8"/>
<text x="1570.1" y="289.6" font-size="24.3" fill="#1a1a1a" text-anchor="end">40</text>
<line x1="1572.7" y1="239.5" x2="1578.3" y2="239.5" stroke="#000" stroke-width="1.8"/>
<text x="1570.1" y="246.1" font-size="24.3" fill="#1a1a1a" text-anchor="end">60</text>
<line x1="1572.7" y1="195.9" x2="1578.3" y2="195.9" stroke="#000" stroke-width="1.8"/>
<text x="1570.1" y="202.5" font-size="24.3" fill="#1a1a1a" text-anchor="end">80</text>
<line x1="1572.7" y1="152.3" x2="1578.3" y2="152.3" stroke="#000" stroke-width="1.8"/>
<text x="1570.1" y="158.9" font-size="24.3" fill="#1a1a1a" text-anchor="end">100</text>
<path d="M1578.3 359.3h-2.4M1578.3 348.4h-2.4M1578.3 337.5h-2.4M1578.3 315.7h-2.4M1578.3 304.8h-2.4M1578.3 293.9h-2.4M1578.3 272.1h-2.4M1578.3 261.2h-2.4M1578.3 250.4h-2.4M1578.3 228.6h-2.4M1578.3 217.7h-2.4M1578.3 206.8h-2.4M1578.3 185h-2.4M1578.3 174.1h-2.4M1578.3 163.2h-2.4" stroke="#000" stroke-width="1.4" fill="none"/>
<path d="M1600.6 370.2v6.8M1626.4 370.2v6.8M1681.5 370.2v6.8M1735 370.2v6.8M1786.2 370.2v6.8M1643 370.2v3.4M1652.7 370.2v3.4M1659.6 370.2v3.4M1664.9 370.2v3.4M1669.3 370.2v3.4M1673 370.2v3.4M1676.2 370.2v3.4M1679 370.2v3.4M1697.6 370.2v3.4M1707 370.2v3.4M1713.7 370.2v3.4M1718.9 370.2v3.4M1723.1 370.2v3.4M1726.7 370.2v3.4M1729.8 370.2v3.4M1732.6 370.2v3.4M1750.4 370.2v3.4M1759.4 370.2v3.4M1765.8 370.2v3.4M1770.8 370.2v3.4M1774.8 370.2v3.4M1778.3 370.2v3.4M1781.2 370.2v3.4M1783.9 370.2v3.4M1801.6 370.2v3.4M1581.3 370.2v3.4M1586.3 370.2v3.4M1590.8 370.2v3.4M1594.8 370.2v3.4M1597.8 370.2v3.4M1603.3 370.2v3.4M1606.3 370.2v3.4M1610.3 370.2v3.4M1615.3 370.2v3.4M1620.3 370.2v3.4" stroke="#000" stroke-width="1.5" fill="none"/>
<text x="1599.6" y="398" font-size="24.3" fill="#1a1a1a" text-anchor="middle">0</text>
<text x="1614.1" y="398" font-size="24.3" fill="#1a1a1a">10<tspan dy="-0.534em" font-size="57%">2</tspan></text>
<text x="1669.2" y="398" font-size="24.3" fill="#1a1a1a">10<tspan dy="-0.534em" font-size="57%">3</tspan></text>
<text x="1722.7" y="398" font-size="24.3" fill="#1a1a1a">10<tspan dy="-0.534em" font-size="57%">4</tspan></text>
<text x="1773.9" y="398" font-size="24.3" fill="#1a1a1a">10<tspan dy="-0.534em" font-size="57%">5</tspan></text>
<polyline points="1578.3,369.3 1579.3,368.6 1580.3,368.7 1581.3,369.1 1582.3,368.9 1583.3,369 1584.3,368.8 1585.3,368.6 1586.3,369.3 1587.3,369.3 1588.3,368.5 1589.3,368.8 1590.3,368.4 1591.3,369.1 1592.3,368.5 1593.3,368 1594.3,368.4 1595.3,367.1 1596.3,366.7 1597.3,367.4 1598.3,366.8 1599.3,365 1600.3,363 1601.3,362.7 1602.3,361.4 1603.3,358.7 1604.3,357.2 1605.3,353.5 1606.3,349 1607.3,344.2 1608.3,340.2 1609.3,334.3 1610.3,327.6 1611.3,318.7 1612.3,311.2 1613.3,303.8 1614.3,288 1615.3,279.2 1616.3,267.1 1617.3,259.3 1618.3,240 1619.3,229 1620.3,224.4 1621.3,210.9 1622.3,196 1623.3,186.2 1624.3,174.9 1625.3,173.3 1626.3,162.8 1627.3,160.6 1628.3,162.6 1629.3,158.9 1630.3,156.7 1631.3,159.9 1632.3,168.2 1633.3,172.9 1634.3,186.2 1635.3,191.8 1636.3,194.8 1637.3,208.7 1638.3,221.5 1639.3,228.5 1640.3,238 1641.3,249.4 1642.3,262.9 1643.3,272.9 1644.3,282.6 1645.3,290.3 1646.3,301.3 1647.3,310.7 1648.3,317.8 1649.3,327.5 1650.3,333.6 1651.3,336.1 1652.3,340 1653.3,346.1 1654.3,350.7 1655.3,354.7 1656.3,356.4 1657.3,357.5 1658.3,360.1 1659.3,362.3 1660.3,363 1661.3,365.4 1662.3,365.7 1663.3,365.7 1664.3,366.9 1665.3,367.5 1666.3,368.1 1667.3,368 1668.3,367.7 1669.3,368.9 1670.3,368.2 1671.3,368.2 1672.3,368.2 1673.3,368.3 1674.3,368.3 1675.3,368.6 1676.3,368.5 1677.3,368.6 1678.3,368.9 1679.3,368 1680.3,368.3 1681.3,368.6 1682.3,368.2 1683.3,368.1 1684.3,368.2 1685.3,368.1 1686.3,367.7 1687.3,367.5 1688.3,367.4 1689.3,367.4 1690.3,367.9 1691.3,367.5 1692.3,367.5 1693.3,366.7 1694.3,366.2 1695.3,366.1 1696.3,366 1697.3,365.8 1698.3,366.6 1699.3,365.5 1700.3,365.7 1701.3,366.6 1702.3,366.7 1703.3,366.6 1704.3,365.3 1705.3,366.1 1706.3,366.3 1707.3,365.4 1708.3,365.9 1709.3,366.3 1710.3,366.1 1711.3,365.4 1712.3,366 1713.3,365.6 1714.3,364.5 1715.3,364.7 1716.3,364.6 1717.3,363.8 1718.3,364.3 1719.3,363 1720.3,362.3 1721.3,362.4 1722.3,362.1 1723.3,359.8 1724.3,360.5 1725.3,360.9 1726.3,359.6 1727.3,358.7 1728.3,360.4 1729.3,359.9 1730.3,358.8 1731.3,356.2 1732.3,356.7 1733.3,353.6 1734.3,351.9 1735.3,350.4 1736.3,349.3 1737.3,343.6 1738.3,341.4 1739.3,339.4 1740.3,337.4 1741.3,331.8 1742.3,329.6 1743.3,325 1744.3,322.9 1745.3,317.8 1746.3,318.2 1747.3,314.1 1748.3,307.6 1749.3,306.4 1750.3,308.8 1751.3,304.5 1752.3,307.9 1753.3,303.9 1754.3,305.4 1755.3,308 1756.3,309.7 1757.3,312 1758.3,307.3 1759.3,313.6 1760.3,309.8 1761.3,310 1762.3,313.6 1763.3,317.3 1764.3,314.3 1765.3,315 1766.3,318 1767.3,320.5 1768.3,322.7 1769.3,324.5 1770.3,326.9 1771.3,326.1 1772.3,329.3 1773.3,332.6 1774.3,335.2 1775.3,334.6 1776.3,338.6 1777.3,340 1778.3,343 1779.3,343 1780.3,345.2 1781.3,350.8 1782.3,352.2 1783.3,353.7 1784.3,353.4 1785.3,355.9 1786.3,358.8 1787.3,360.6 1788.3,360.7 1789.3,361.5 1790.3,362.4 1791.3,364.6 1792.3,364.3 1793.3,365.4 1794.3,366.3 1795.3,366 1796.3,367.5 1797.3,367.2 1798.3,368.3 1799.3,368.4 1800.3,367.7 1801.3,368.6 1802.3,368.1 1803.3,368.4 1804.3,368.2 1805.3,368.8 1806.3,368.9 1807.3,369" fill="none" stroke="#2e2d8c" stroke-width="3.3" stroke-linejoin="round"/>
<polyline points="1578.3,369.5 1579.3,369.5 1580.3,369.6 1581.3,369.6 1582.3,369.5 1583.3,369.5 1584.3,369.6 1585.3,369.6 1586.3,369.6 1587.3,369.6 1588.3,369.6 1589.3,369.6 1590.3,369.6 1591.3,369.6 1592.3,369.5 1593.3,369.5 1594.3,369.5 1595.3,369.6 1596.3,369.6 1597.3,369.6 1598.3,369.6 1599.3,369.6 1600.3,369.6 1601.3,369.6 1602.3,369.6 1603.3,369.5 1604.3,369.6 1605.3,369.6 1606.3,369.6 1607.3,369.6 1608.3,369.6 1609.3,369.6 1610.3,369.6 1611.3,369.5 1612.3,369.6 1613.3,369.6 1614.3,369.5 1615.3,369.5 1616.3,369.5 1617.3,369.5 1618.3,369.5 1619.3,369.5 1620.3,369.6 1621.3,369.5 1622.3,369.5 1623.3,369.6 1624.3,369.5 1625.3,369.5 1626.3,369.6 1627.3,369.6 1628.3,369.6 1629.3,369.5 1630.3,369.6 1631.3,369.5 1632.3,369.6 1633.3,369.5 1634.3,369.5 1635.3,369.6 1636.3,369.6 1637.3,369.5 1638.3,369.5 1639.3,369.6 1640.3,369.6 1641.3,369.6 1642.3,369.6 1643.3,369.6 1644.3,369.5 1645.3,369.6 1646.3,369.5 1647.3,369.6 1648.3,369.5 1649.3,369.6 1650.3,369.6 1651.3,369.6 1652.3,369.6 1653.3,369.6 1654.3,369.6 1655.3,369.6 1656.3,369.6 1657.3,369.5 1658.3,369.6 1659.3,369.6 1660.3,369.5 1661.3,369.5 1662.3,369.5 1663.3,369.6 1664.3,369.5 1665.3,369.6 1666.3,369.6 1667.3,369.6 1668.3,369.6 1669.3,369.5 1670.3,369.6 1671.3,369.6 1672.3,369.5 1673.3,369.6 1674.3,369.6 1675.3,369.5 1676.3,369.6 1677.3,369.5 1678.3,369.6 1679.3,369.6 1680.3,369.6 1681.3,369.6 1682.3,369.6 1683.3,369.5 1684.3,369.6 1685.3,369.5 1686.3,369.6 1687.3,369.6 1688.3,369.5 1689.3,369.6 1690.3,369.6 1691.3,369.6 1692.3,369.6 1693.3,369.6 1694.3,369.5 1695.3,369.6 1696.3,369.6 1697.3,369.6 1698.3,369.6 1699.3,369.5 1700.3,369.6 1701.3,369.6 1702.3,369.6 1703.3,369.6 1704.3,369.5 1705.3,369.5 1706.3,369.5 1707.3,369.5 1708.3,369.5 1709.3,369.6 1710.3,369.6 1711.3,369.6 1712.3,369.6 1713.3,369.6 1714.3,369.6 1715.3,369.6 1716.3,369.5 1717.3,369.6 1718.3,369.6 1719.3,369.6 1720.3,369.6 1721.3,369.6 1722.3,369.5 1723.3,369.6 1724.3,369.5 1725.3,369.4 1726.3,369.4 1727.3,369.2 1728.3,368.9 1729.3,368.5 1730.3,367.9 1731.3,366.9 1732.3,365.4 1733.3,363.1 1734.3,360.2 1735.3,355.9 1736.3,350.6 1737.3,343.7 1738.3,335.8 1739.3,325.4 1740.3,313.5 1741.3,299.4 1742.3,284.2 1743.3,267.9 1744.3,251.6 1745.3,236.3 1746.3,221.1 1747.3,207.9 1748.3,198.4 1749.3,190.9 1750.3,185.8 1751.3,184.9 1752.3,184.4 1753.3,187.7 1754.3,191.1 1755.3,194 1756.3,196 1757.3,196.6 1758.3,194.5 1759.3,191 1760.3,185.8 1761.3,178.2 1762.3,171.7 1763.3,163.6 1764.3,158.4 1765.3,156.7 1766.3,158.5 1767.3,163.3 1768.3,171.1 1769.3,183 1770.3,195.6 1771.3,210.8 1772.3,228.2 1773.3,245.7 1774.3,262.1 1775.3,279.5 1776.3,295 1777.3,308.7 1778.3,321.5 1779.3,332.5 1780.3,340.8 1781.3,348.4 1782.3,354.3 1783.3,358.4 1784.3,361.9 1785.3,364.3 1786.3,365.8 1787.3,367.1 1788.3,368.1 1789.3,368.6 1790.3,369 1791.3,369.2 1792.3,369.4 1793.3,369.4 1794.3,369.6 1795.3,369.6 1796.3,369.6 1797.3,369.5 1798.3,369.6 1799.3,369.5 1800.3,369.6 1801.3,369.6 1802.3,369.6 1803.3,369.6 1804.3,369.5 1805.3,369.6 1806.3,369.6 1807.3,369.6" fill="none" stroke="#a82424" stroke-width="3.3" stroke-linejoin="round"/>
<text x="1649.5" y="146.8" font-size="31.5" fill="#9e2420">ALK<tspan dy="-0.534em" font-size="57%">ATI</tspan></text>
<line x1="1868.9" y1="141.8" x2="1868.9" y2="371.2" stroke="#000" stroke-width="2.2"/>
<line x1="1867.8" y1="370.2" x2="2098.9" y2="370.2" stroke="#000" stroke-width="2.2"/>
<line x1="1863.3" y1="370.2" x2="1868.9" y2="370.2" stroke="#000" stroke-width="1.8"/>
<text x="1860.7" y="376.8" font-size="24.3" fill="#1a1a1a" text-anchor="end">0</text>
<line x1="1863.3" y1="326.6" x2="1868.9" y2="326.6" stroke="#000" stroke-width="1.8"/>
<text x="1860.7" y="333.2" font-size="24.3" fill="#1a1a1a" text-anchor="end">20</text>
<line x1="1863.3" y1="283" x2="1868.9" y2="283" stroke="#000" stroke-width="1.8"/>
<text x="1860.7" y="289.6" font-size="24.3" fill="#1a1a1a" text-anchor="end">40</text>
<line x1="1863.3" y1="239.5" x2="1868.9" y2="239.5" stroke="#000" stroke-width="1.8"/>
<text x="1860.7" y="246.1" font-size="24.3" fill="#1a1a1a" text-anchor="end">60</text>
<line x1="1863.3" y1="195.9" x2="1868.9" y2="195.9" stroke="#000" stroke-width="1.8"/>
<text x="1860.7" y="202.5" font-size="24.3" fill="#1a1a1a" text-anchor="end">80</text>
<line x1="1863.3" y1="152.3" x2="1868.9" y2="152.3" stroke="#000" stroke-width="1.8"/>
<text x="1860.7" y="158.9" font-size="24.3" fill="#1a1a1a" text-anchor="end">100</text>
<path d="M1868.9 359.3h-2.4M1868.9 348.4h-2.4M1868.9 337.5h-2.4M1868.9 315.7h-2.4M1868.9 304.8h-2.4M1868.9 293.9h-2.4M1868.9 272.1h-2.4M1868.9 261.2h-2.4M1868.9 250.4h-2.4M1868.9 228.6h-2.4M1868.9 217.7h-2.4M1868.9 206.8h-2.4M1868.9 185h-2.4M1868.9 174.1h-2.4M1868.9 163.2h-2.4" stroke="#000" stroke-width="1.4" fill="none"/>
<path d="M1891.2 370.2v6.8M1917 370.2v6.8M1972.1 370.2v6.8M2025.6 370.2v6.8M2076.8 370.2v6.8M1933.6 370.2v3.4M1943.3 370.2v3.4M1950.2 370.2v3.4M1955.5 370.2v3.4M1959.9 370.2v3.4M1963.6 370.2v3.4M1966.8 370.2v3.4M1969.6 370.2v3.4M1988.2 370.2v3.4M1997.6 370.2v3.4M2004.3 370.2v3.4M2009.5 370.2v3.4M2013.7 370.2v3.4M2017.3 370.2v3.4M2020.4 370.2v3.4M2023.2 370.2v3.4M2041 370.2v3.4M2050 370.2v3.4M2056.4 370.2v3.4M2061.4 370.2v3.4M2065.4 370.2v3.4M2068.9 370.2v3.4M2071.8 370.2v3.4M2074.5 370.2v3.4M2092.2 370.2v3.4M1871.9 370.2v3.4M1876.9 370.2v3.4M1881.4 370.2v3.4M1885.4 370.2v3.4M1888.4 370.2v3.4M1893.9 370.2v3.4M1896.9 370.2v3.4M1900.9 370.2v3.4M1905.9 370.2v3.4M1910.9 370.2v3.4" stroke="#000" stroke-width="1.5" fill="none"/>
<text x="1890.2" y="398" font-size="24.3" fill="#1a1a1a" text-anchor="middle">0</text>
<text x="1904.7" y="398" font-size="24.3" fill="#1a1a1a">10<tspan dy="-0.534em" font-size="57%">2</tspan></text>
<text x="1959.8" y="398" font-size="24.3" fill="#1a1a1a">10<tspan dy="-0.534em" font-size="57%">3</tspan></text>
<text x="2013.3" y="398" font-size="24.3" fill="#1a1a1a">10<tspan dy="-0.534em" font-size="57%">4</tspan></text>
<text x="2064.5" y="398" font-size="24.3" fill="#1a1a1a">10<tspan dy="-0.534em" font-size="57%">5</tspan></text>
<polyline points="1868.9,369.2 1869.9,368.9 1870.9,369 1871.9,368.8 1872.9,368.8 1873.9,369.3 1874.9,369.4 1875.9,368.5 1876.9,369 1877.9,369 1878.9,368.1 1879.9,368.6 1880.9,368.1 1881.9,368.3 1882.9,367.9 1883.9,368.3 1884.9,367.3 1885.9,366.5 1886.9,366.5 1887.9,365.4 1888.9,364.7 1889.9,365 1890.9,362.2 1891.9,361 1892.9,360 1893.9,358.8 1894.9,353.6 1895.9,352 1896.9,347.6 1897.9,342.9 1898.9,339 1899.9,332.8 1900.9,329.9 1901.9,321.1 1902.9,316.3 1903.9,305.4 1904.9,297.4 1905.9,294.5 1906.9,285.1 1907.9,274.8 1908.9,258.1 1909.9,252.6 1910.9,240.3 1911.9,233.2 1912.9,220.9 1913.9,212.3 1914.9,203.4 1915.9,192 1916.9,184.1 1917.9,173.4 1918.9,170.2 1919.9,162.6 1920.9,160.2 1921.9,156.7 1922.9,160.2 1923.9,167.5 1924.9,161 1925.9,163.3 1926.9,168.8 1927.9,178.7 1928.9,183.7 1929.9,197.3 1930.9,198.6 1931.9,210.6 1932.9,223.1 1933.9,235.1 1934.9,237.1 1935.9,246 1936.9,264.3 1937.9,267.7 1938.9,280.5 1939.9,291.5 1940.9,298.9 1941.9,303.6 1942.9,310.5 1943.9,322.7 1944.9,325.6 1945.9,334.5 1946.9,336.1 1947.9,342.6 1948.9,344.3 1949.9,347.7 1950.9,352.7 1951.9,353.8 1952.9,358.4 1953.9,361 1954.9,361.2 1955.9,364 1956.9,364.7 1957.9,365.2 1958.9,365.6 1959.9,367 1960.9,367.7 1961.9,366.9 1962.9,368 1963.9,367.4 1964.9,367.8 1965.9,368.6 1966.9,368.6 1967.9,368.6 1968.9,368.6 1969.9,368.7 1970.9,368.8 1971.9,368.7 1972.9,368.4 1973.9,368.9 1974.9,369 1975.9,368.7 1976.9,369.2 1977.9,369.1 1978.9,368.5 1979.9,368.9 1980.9,368.9 1981.9,369.4 1982.9,369 1983.9,368.8 1984.9,369.4 1985.9,368.8 1986.9,368.8 1987.9,369.3 1988.9,368.7 1989.9,368.9 1990.9,368.6 1991.9,368.9 1992.9,368.5 1993.9,368.4 1994.9,369.1 1995.9,369 1996.9,368.2 1997.9,367.7 1998.9,368.4 1999.9,367.9 2000.9,367.5 2001.9,367.7 2002.9,367.3 2003.9,367.1 2004.9,366.6 2005.9,365.8 2006.9,365.8 2007.9,365.2 2008.9,363.8 2009.9,364.8 2010.9,363 2011.9,361.9 2012.9,362.2 2013.9,361.7 2014.9,359.3 2015.9,360 2016.9,359.4 2017.9,357.7 2018.9,356 2019.9,357 2020.9,355.3 2021.9,354.3 2022.9,351.5 2023.9,351.9 2024.9,349.3 2025.9,351 2026.9,349.3 2027.9,347 2028.9,344.9 2029.9,345.8 2030.9,345.8 2031.9,345.4 2032.9,342.7 2033.9,343.4 2034.9,339.8 2035.9,339 2036.9,341.6 2037.9,340.7 2038.9,337.8 2039.9,338.4 2040.9,337.6 2041.9,339.9 2042.9,341.1 2043.9,340.7 2044.9,338.8 2045.9,341.9 2046.9,342.2 2047.9,342.8 2048.9,343.7 2049.9,344.8 2050.9,343.6 2051.9,348.1 2052.9,349.9 2053.9,347.3 2054.9,348.9 2055.9,349.8 2056.9,353.2 2057.9,352.6 2058.9,354 2059.9,357.5 2060.9,357 2061.9,357.8 2062.9,359.4 2063.9,360.8 2064.9,362.3 2065.9,362.9 2066.9,363.9 2067.9,365 2068.9,364.5 2069.9,365.6 2070.9,365.2 2071.9,367 2072.9,365.9 2073.9,366.6 2074.9,366.6 2075.9,367 2076.9,367.2 2077.9,367.8 2078.9,368.7 2079.9,368 2080.9,368.8 2081.9,368.7 2082.9,368.4 2083.9,368.6 2084.9,368.8 2085.9,368.3 2086.9,368.7 2087.9,369 2088.9,369.1 2089.9,368.5 2090.9,368.9 2091.9,368.6 2092.9,369 2093.9,369.2 2094.9,368.9 2095.9,368.6 2096.9,369.2 2097.9,368.6" fill="none" stroke="#2e2d8c" stroke-width="3.3" stroke-linejoin="round"/>
<polyline points="1868.9,369.6 1869.9,369.6 1870.9,369.6 1871.9,369.6 1872.9,369.6 1873.9,369.6 1874.9,369.5 1875.9,369.5 1876.9,369.5 1877.9,369.6 1878.9,369.5 1879.9,369.6 1880.9,369.6 1881.9,369.6 1882.9,369.6 1883.9,369.5 1884.9,369.5 1885.9,369.5 1886.9,369.5 1887.9,369.6 1888.9,369.6 1889.9,369.5 1890.9,369.5 1891.9,369.5 1892.9,369.5 1893.9,369.6 1894.9,369.5 1895.9,369.5 1896.9,369.5 1897.9,369.6 1898.9,369.6 1899.9,369.6 1900.9,369.5 1901.9,369.5 1902.9,369.5 1903.9,369.6 1904.9,369.5 1905.9,369.5 1906.9,369.5 1907.9,369.5 1908.9,369.5 1909.9,369.6 1910.9,369.5 1911.9,369.6 1912.9,369.6 1913.9,369.6 1914.9,369.5 1915.9,369.6 1916.9,369.6 1917.9,369.5 1918.9,369.6 1919.9,369.5 1920.9,369.6 1921.9,369.6 1922.9,369.5 1923.9,369.6 1924.9,369.6 1925.9,369.6 1926.9,369.5 1927.9,369.6 1928.9,369.6 1929.9,369.5 1930.9,369.6 1931.9,369.5 1932.9,369.5 1933.9,369.6 1934.9,369.6 1935.9,369.6 1936.9,369.5 1937.9,369.5 1938.9,369.6 1939.9,369.6 1940.9,369.6 1941.9,369.6 1942.9,369.6 1943.9,369.5 1944.9,369.5 1945.9,369.5 1946.9,369.5 1947.9,369.5 1948.9,369.6 1949.9,369.6 1950.9,369.5 1951.9,369.5 1952.9,369.6 1953.9,369.5 1954.9,369.5 1955.9,369.5 1956.9,369.6 1957.9,369.6 1958.9,369.6 1959.9,369.6 1960.9,369.6 1961.9,369.5 1962.9,369.6 1963.9,369.6 1964.9,369.6 1965.9,369.6 1966.9,369.5 1967.9,369.6 1968.9,369.6 1969.9,369.6 1970.9,369.5 1971.9,369.6 1972.9,369.6 1973.9,369.6 1974.9,369.6 1975.9,369.6 1976.9,369.5 1977.9,369.6 1978.9,369.6 1979.9,369.6 1980.9,369.6 1981.9,369.5 1982.9,369.6 1983.9,369.5 1984.9,369.5 1985.9,369.6 1986.9,369.5 1987.9,369.6 1988.9,369.6 1989.9,369.6 1990.9,369.6 1991.9,369.6 1992.9,369.6 1993.9,369.5 1994.9,369.5 1995.9,369.5 1996.9,369.6 1997.9,369.6 1998.9,369.6 1999.9,369.6 2000.9,369.6 2001.9,369.5 2002.9,369.6 2003.9,369.6 2004.9,369.5 2005.9,369.5 2006.9,369.5 2007.9,369.6 2008.9,369.5 2009.9,369.5 2010.9,369.5 2011.9,369.5 2012.9,369.5 2013.9,369.6 2014.9,369.5 2015.9,369.4 2016.9,369.4 2017.9,369.3 2018.9,369.3 2019.9,369.1 2020.9,368.9 2021.9,368.7 2022.9,368.3 2023.9,367.9 2024.9,367.2 2025.9,366.4 2026.9,365.4 2027.9,363.8 2028.9,361.9 2029.9,360 2030.9,356.8 2031.9,353.2 2032.9,349.2 2033.9,344.6 2034.9,338 2035.9,331.7 2036.9,322.9 2037.9,314.2 2038.9,304.8 2039.9,293.7 2040.9,281.2 2041.9,268.6 2042.9,255.1 2043.9,241.3 2044.9,229 2045.9,216.2 2046.9,201.8 2047.9,191.9 2048.9,179.8 2049.9,172.6 2050.9,164.2 2051.9,159.4 2052.9,156.7 2053.9,157.1 2054.9,158.8 2055.9,165.1 2056.9,171.3 2057.9,181.3 2058.9,191.3 2059.9,204 2060.9,218 2061.9,232 2062.9,247.2 2063.9,261.3 2064.9,274.1 2065.9,287.3 2066.9,299 2067.9,310.3 2068.9,320.8 2069.9,329.3 2070.9,336.5 2071.9,343.2 2072.9,349.1 2073.9,353.1 2074.9,356.8 2075.9,360.1 2076.9,362.3 2077.9,364.2 2078.9,365.5 2079.9,366.7 2080.9,367.6 2081.9,368.1 2082.9,368.4 2083.9,368.9 2084.9,369.1 2085.9,369.2 2086.9,369.3 2087.9,369.4 2088.9,369.5 2089.9,369.4 2090.9,369.5 2091.9,369.6 2092.9,369.5 2093.9,369.6 2094.9,369.6 2095.9,369.5 2096.9,369.6 2097.9,369.5" fill="none" stroke="#a82424" stroke-width="3.3" stroke-linejoin="round"/>
<text x="1926" y="146.8" font-size="31.5" fill="#2f2e86">ALK<tspan dy="-0.534em" font-size="57%">F1174L</tspan></text>
<line x1="1578.3" y1="419.5" x2="1578.3" y2="649.2" stroke="#000" stroke-width="2.2"/>
<line x1="1577.2" y1="648.2" x2="1808.3" y2="648.2" stroke="#000" stroke-width="2.2"/>
<line x1="1572.7" y1="648.2" x2="1578.3" y2="648.2" stroke="#000" stroke-width="1.8"/>
<text x="1570.1" y="654.8" font-size="24.3" fill="#1a1a1a" text-anchor="end">0</text>
<line x1="1572.7" y1="604.6" x2="1578.3" y2="604.6" stroke="#000" stroke-width="1.8"/>
<text x="1570.1" y="611.2" font-size="24.3" fill="#1a1a1a" text-anchor="end">20</text>
<line x1="1572.7" y1="560.9" x2="1578.3" y2="560.9" stroke="#000" stroke-width="1.8"/>
<text x="1570.1" y="567.5" font-size="24.3" fill="#1a1a1a" text-anchor="end">40</text>
<line x1="1572.7" y1="517.3" x2="1578.3" y2="517.3" stroke="#000" stroke-width="1.8"/>
<text x="1570.1" y="523.9" font-size="24.3" fill="#1a1a1a" text-anchor="end">60</text>
<line x1="1572.7" y1="473.6" x2="1578.3" y2="473.6" stroke="#000" stroke-width="1.8"/>
<text x="1570.1" y="480.2" font-size="24.3" fill="#1a1a1a" text-anchor="end">80</text>
<line x1="1572.7" y1="430" x2="1578.3" y2="430" stroke="#000" stroke-width="1.8"/>
<text x="1570.1" y="436.6" font-size="24.3" fill="#1a1a1a" text-anchor="end">100</text>
<path d="M1578.3 637.3h-2.4M1578.3 626.4h-2.4M1578.3 615.5h-2.4M1578.3 593.7h-2.4M1578.3 582.7h-2.4M1578.3 571.8h-2.4M1578.3 550h-2.4M1578.3 539.1h-2.4M1578.3 528.2h-2.4M1578.3 506.4h-2.4M1578.3 495.5h-2.4M1578.3 484.6h-2.4M1578.3 462.7h-2.4M1578.3 451.8h-2.4M1578.3 440.9h-2.4" stroke="#000" stroke-width="1.4" fill="none"/>
<path d="M1600.6 648.2v6.8M1626.4 648.2v6.8M1681.5 648.2v6.8M1735 648.2v6.8M1786.2 648.2v6.8M1643 648.2v3.4M1652.7 648.2v3.4M1659.6 648.2v3.4M1664.9 648.2v3.4M1669.3 648.2v3.4M1673 648.2v3.4M1676.2 648.2v3.4M1679 648.2v3.4M1697.6 648.2v3.4M1707 648.2v3.4M1713.7 648.2v3.4M1718.9 648.2v3.4M1723.1 648.2v3.4M1726.7 648.2v3.4M1729.8 648.2v3.4M1732.6 648.2v3.4M1750.4 648.2v3.4M1759.4 648.2v3.4M1765.8 648.2v3.4M1770.8 648.2v3.4M1774.8 648.2v3.4M1778.3 648.2v3.4M1781.2 648.2v3.4M1783.9 648.2v3.4M1801.6 648.2v3.4M1581.3 648.2v3.4M1586.3 648.2v3.4M1590.8 648.2v3.4M1594.8 648.2v3.4M1597.8 648.2v3.4M1603.3 648.2v3.4M1606.3 648.2v3.4M1610.3 648.2v3.4M1615.3 648.2v3.4M1620.3 648.2v3.4" stroke="#000" stroke-width="1.5" fill="none"/>
<text x="1599.6" y="676" font-size="24.3" fill="#1a1a1a" text-anchor="middle">0</text>
<text x="1614.1" y="676" font-size="24.3" fill="#1a1a1a">10<tspan dy="-0.534em" font-size="57%">2</tspan></text>
<text x="1669.2" y="676" font-size="24.3" fill="#1a1a1a">10<tspan dy="-0.534em" font-size="57%">3</tspan></text>
<text x="1722.7" y="676" font-size="24.3" fill="#1a1a1a">10<tspan dy="-0.534em" font-size="57%">4</tspan></text>
<text x="1773.9" y="676" font-size="24.3" fill="#1a1a1a">10<tspan dy="-0.534em" font-size="57%">5</tspan></text>
<polyline points="1578.3,647 1579.3,646.9 1580.3,646.9 1581.3,646.7 1582.3,646.9 1583.3,646.7 1584.3,647.5 1585.3,647.1 1586.3,646.7 1587.3,646.9 1588.3,646.6 1589.3,647.4 1590.3,647 1591.3,647.1 1592.3,646.7 1593.3,646.5 1594.3,647 1595.3,646.5 1596.3,646.1 1597.3,644.8 1598.3,644.4 1599.3,644.7 1600.3,642.6 1601.3,642.8 1602.3,640.4 1603.3,639.9 1604.3,638.3 1605.3,633.1 1606.3,632.3 1607.3,628.9 1608.3,621.5 1609.3,617 1610.3,614.3 1611.3,604.4 1612.3,599.7 1613.3,591 1614.3,585.7 1615.3,571 1616.3,562.9 1617.3,549.9 1618.3,539.3 1619.3,533.4 1620.3,521.4 1621.3,512 1622.3,501 1623.3,491.1 1624.3,478.3 1625.3,465.3 1626.3,464.1 1627.3,448.8 1628.3,447.2 1629.3,443.4 1630.3,434.4 1631.3,437.8 1632.3,440.6 1633.3,440.7 1634.3,441.4 1635.3,454.4 1636.3,449.2 1637.3,467.9 1638.3,467.4 1639.3,475.4 1640.3,494.3 1641.3,495.9 1642.3,510.8 1643.3,519.2 1644.3,535.3 1645.3,545.1 1646.3,553.9 1647.3,557.2 1648.3,572.6 1649.3,577.2 1650.3,584.4 1651.3,592 1652.3,602.7 1653.3,608.9 1654.3,613.6 1655.3,617.5 1656.3,624.9 1657.3,626.1 1658.3,629.4 1659.3,632.1 1660.3,637.3 1661.3,636.7 1662.3,640.7 1663.3,641.5 1664.3,642.1 1665.3,642.5 1666.3,644.4 1667.3,644.1 1668.3,645.3 1669.3,646 1670.3,646.3 1671.3,646.7 1672.3,647 1673.3,647.1 1674.3,646.6 1675.3,646.4 1676.3,647.3 1677.3,647.4 1678.3,646.6 1679.3,647 1680.3,647.2 1681.3,647.3 1682.3,647 1683.3,646.8 1684.3,647.1 1685.3,647.2 1686.3,647.5 1687.3,646.7 1688.3,647.5 1689.3,647 1690.3,646.7 1691.3,647.3 1692.3,646.7 1693.3,646.4 1694.3,646.6 1695.3,646.3 1696.3,647 1697.3,646.4 1698.3,646.6 1699.3,645.5 1700.3,646 1701.3,645.5 1702.3,644.4 1703.3,644.2 1704.3,643.6 1705.3,644.1 1706.3,643.6 1707.3,642.6 1708.3,642.6 1709.3,642.5 1710.3,641.7 1711.3,641.8 1712.3,640.7 1713.3,638.6 1714.3,638.1 1715.3,638.4 1716.3,638.2 1717.3,638.2 1718.3,638.4 1719.3,637.4 1720.3,635.4 1721.3,634.7 1722.3,635.8 1723.3,634 1724.3,633.6 1725.3,633.4 1726.3,633 1727.3,632.1 1728.3,633 1729.3,631.2 1730.3,632.1 1731.3,630.8 1732.3,629.1 1733.3,628.8 1734.3,629.7 1735.3,626.5 1736.3,627 1737.3,626.7 1738.3,628.4 1739.3,625.7 1740.3,626.5 1741.3,624.4 1742.3,625 1743.3,623.3 1744.3,623.9 1745.3,623.2 1746.3,625.2 1747.3,624.1 1748.3,623.9 1749.3,623.8 1750.3,626.1 1751.3,624.4 1752.3,624.8 1753.3,626 1754.3,625.4 1755.3,626.1 1756.3,628.4 1757.3,629 1758.3,631.1 1759.3,629.3 1760.3,629.7 1761.3,632.1 1762.3,632.1 1763.3,632.8 1764.3,633.5 1765.3,636.1 1766.3,634.9 1767.3,636.2 1768.3,636.7 1769.3,638.1 1770.3,638.2 1771.3,638.5 1772.3,639.5 1773.3,639.9 1774.3,642.1 1775.3,642.3 1776.3,642.2 1777.3,642.2 1778.3,643.5 1779.3,643 1780.3,643.5 1781.3,644.9 1782.3,644.5 1783.3,645.2 1784.3,645.7 1785.3,645.8 1786.3,645.7 1787.3,646.1 1788.3,646.2 1789.3,646.6 1790.3,646.2 1791.3,646.4 1792.3,646.3 1793.3,646.4 1794.3,646.9 1795.3,646.2 1796.3,647.3 1797.3,646.9 1798.3,647.1 1799.3,647 1800.3,647.3 1801.3,646.6 1802.3,647.1 1803.3,647.5 1804.3,646.9 1805.3,647.4 1806.3,647 1807.3,647.2" fill="none" stroke="#2e2d8c" stroke-width="3.3" stroke-linejoin="round"/>
<polyline points="1578.3,647.5 1579.3,647.5 1580.3,647.6 1581.3,647.6 1582.3,647.6 1583.3,647.5 1584.3,647.6 1585.3,647.5 1586.3,647.6 1587.3,647.5 1588.3,647.6 1589.3,647.5 1590.3,647.5 1591.3,647.6 1592.3,647.5 1593.3,647.5 1594.3,647.6 1595.3,647.5 1596.3,647.5 1597.3,647.6 1598.3,647.5 1599.3,647.5 1600.3,647.5 1601.3,647.6 1602.3,647.6 1603.3,647.5 1604.3,647.5 1605.3,647.6 1606.3,647.6 1607.3,647.6 1608.3,647.5 1609.3,647.6 1610.3,647.5 1611.3,647.5 1612.3,647.6 1613.3,647.5 1614.3,647.6 1615.3,647.5 1616.3,647.5 1617.3,647.5 1618.3,647.5 1619.3,647.5 1620.3,647.5 1621.3,647.5 1622.3,647.6 1623.3,647.6 1624.3,647.5 1625.3,647.6 1626.3,647.5 1627.3,647.6 1628.3,647.5 1629.3,647.5 1630.3,647.6 1631.3,647.5 1632.3,647.6 1633.3,647.6 1634.3,647.6 1635.3,647.6 1636.3,647.6 1637.3,647.5 1638.3,647.5 1639.3,647.6 1640.3,647.5 1641.3,647.6 1642.3,647.6 1643.3,647.5 1644.3,647.5 1645.3,647.6 1646.3,647.6 1647.3,647.6 1648.3,647.6 1649.3,647.5 1650.3,647.6 1651.3,647.6 1652.3,647.5 1653.3,647.6 1654.3,647.5 1655.3,647.6 1656.3,647.5 1657.3,647.5 1658.3,647.5 1659.3,647.5 1660.3,647.6 1661.3,647.5 1662.3,647.5 1663.3,647.5 1664.3,647.6 1665.3,647.5 1666.3,647.6 1667.3,647.6 1668.3,647.5 1669.3,647.6 1670.3,647.6 1671.3,647.5 1672.3,647.6 1673.3,647.6 1674.3,647.6 1675.3,647.5 1676.3,647.6 1677.3,647.6 1678.3,647.6 1679.3,647.5 1680.3,647.6 1681.3,647.6 1682.3,647.5 1683.3,647.5 1684.3,647.6 1685.3,647.6 1686.3,647.5 1687.3,647.6 1688.3,647.6 1689.3,647.6 1690.3,647.5 1691.3,647.5 1692.3,647.5 1693.3,647.4 1694.3,647.3 1695.3,647.4 1696.3,647.2 1697.3,647.2 1698.3,647 1699.3,646.8 1700.3,646.5 1701.3,646.2 1702.3,645.9 1703.3,645.6 1704.3,645 1705.3,644.5 1706.3,643.8 1707.3,642.9 1708.3,642.3 1709.3,641.3 1710.3,640.6 1711.3,639.5 1712.3,638.8 1713.3,638.4 1714.3,637.8 1715.3,636.9 1716.3,636.6 1717.3,636.5 1718.3,636.2 1719.3,636.2 1720.3,636.5 1721.3,636.8 1722.3,637.3 1723.3,637.5 1724.3,638 1725.3,638.1 1726.3,638.4 1727.3,638.8 1728.3,638.7 1729.3,638.8 1730.3,638.7 1731.3,638.1 1732.3,637.7 1733.3,636.9 1734.3,636.2 1735.3,635.2 1736.3,634.3 1737.3,632.4 1738.3,631.1 1739.3,628.6 1740.3,625.8 1741.3,622.6 1742.3,618.8 1743.3,614.6 1744.3,608.9 1745.3,602.4 1746.3,595.7 1747.3,586.3 1748.3,576.8 1749.3,566.9 1750.3,555 1751.3,543.2 1752.3,530.7 1753.3,516.9 1754.3,504.8 1755.3,490.6 1756.3,477.9 1757.3,467.8 1758.3,456.4 1759.3,449.7 1760.3,441.4 1761.3,438.1 1762.3,434.4 1763.3,435.6 1764.3,437.5 1765.3,445.1 1766.3,453.3 1767.3,462.3 1768.3,475 1769.3,488.9 1770.3,504.5 1771.3,519.3 1772.3,534 1773.3,549.2 1774.3,561.8 1775.3,575.2 1776.3,586.9 1777.3,597.8 1778.3,607.4 1779.3,615.6 1780.3,621.9 1781.3,627.9 1782.3,632.2 1783.3,636 1784.3,638.9 1785.3,641.3 1786.3,643 1787.3,644.2 1788.3,645.3 1789.3,645.9 1790.3,646.5 1791.3,646.8 1792.3,647.1 1793.3,647.2 1794.3,647.3 1795.3,647.4 1796.3,647.5 1797.3,647.5 1798.3,647.5 1799.3,647.5 1800.3,647.6 1801.3,647.6 1802.3,647.6 1803.3,647.5 1804.3,647.5 1805.3,647.5 1806.3,647.6 1807.3,647.6" fill="none" stroke="#a82424" stroke-width="3.3" stroke-linejoin="round"/>
<text x="1618" y="428.5" font-size="31.5" fill="#3f7a3a">EML4-ALK</text>
<line x1="1868.9" y1="419.5" x2="1868.9" y2="649.2" stroke="#000" stroke-width="2.2"/>
<line x1="1867.8" y1="648.2" x2="2098.9" y2="648.2" stroke="#000" stroke-width="2.2"/>
<line x1="1863.3" y1="648.2" x2="1868.9" y2="648.2" stroke="#000" stroke-width="1.8"/>
<text x="1860.7" y="654.8" font-size="24.3" fill="#1a1a1a" text-anchor="end">0</text>
<line x1="1863.3" y1="604.6" x2="1868.9" y2="604.6" stroke="#000" stroke-width="1.8"/>
<text x="1860.7" y="611.2" font-size="24.3" fill="#1a1a1a" text-anchor="end">20</text>
<line x1="1863.3" y1="560.9" x2="1868.9" y2="560.9" stroke="#000" stroke-width="1.8"/>
<text x="1860.7" y="567.5" font-size="24.3" fill="#1a1a1a" text-anchor="end">40</text>
<line x1="1863.3" y1="517.3" x2="1868.9" y2="517.3" stroke="#000" stroke-width="1.8"/>
<text x="1860.7" y="523.9" font-size="24.3" fill="#1a1a1a" text-anchor="end">60</text>
<line x1="1863.3" y1="473.6" x2="1868.9" y2="473.6" stroke="#000" stroke-width="1.8"/>
<text x="1860.7" y="480.2" font-size="24.3" fill="#1a1a1a" text-anchor="end">80</text>
<line x1="1863.3" y1="430" x2="1868.9" y2="430" stroke="#000" stroke-width="1.8"/>
<text x="1860.7" y="436.6" font-size="24.3" fill="#1a1a1a" text-anchor="end">100</text>
<path d="M1868.9 637.3h-2.4M1868.9 626.4h-2.4M1868.9 615.5h-2.4M1868.9 593.7h-2.4M1868.9 582.7h-2.4M1868.9 571.8h-2.4M1868.9 550h-2.4M1868.9 539.1h-2.4M1868.9 528.2h-2.4M1868.9 506.4h-2.4M1868.9 495.5h-2.4M1868.9 484.6h-2.4M1868.9 462.7h-2.4M1868.9 451.8h-2.4M1868.9 440.9h-2.4" stroke="#000" stroke-width="1.4" fill="none"/>
<path d="M1891.2 648.2v6.8M1917 648.2v6.8M1972.1 648.2v6.8M2025.6 648.2v6.8M2076.8 648.2v6.8M1933.6 648.2v3.4M1943.3 648.2v3.4M1950.2 648.2v3.4M1955.5 648.2v3.4M1959.9 648.2v3.4M1963.6 648.2v3.4M1966.8 648.2v3.4M1969.6 648.2v3.4M1988.2 648.2v3.4M1997.6 648.2v3.4M2004.3 648.2v3.4M2009.5 648.2v3.4M2013.7 648.2v3.4M2017.3 648.2v3.4M2020.4 648.2v3.4M2023.2 648.2v3.4M2041 648.2v3.4M2050 648.2v3.4M2056.4 648.2v3.4M2061.4 648.2v3.4M2065.4 648.2v3.4M2068.9 648.2v3.4M2071.8 648.2v3.4M2074.5 648.2v3.4M2092.2 648.2v3.4M1871.9 648.2v3.4M1876.9 648.2v3.4M1881.4 648.2v3.4M1885.4 648.2v3.4M1888.4 648.2v3.4M1893.9 648.2v3.4M1896.9 648.2v3.4M1900.9 648.2v3.4M1905.9 648.2v3.4M1910.9 648.2v3.4" stroke="#000" stroke-width="1.5" fill="none"/>
<text x="1890.2" y="676" font-size="24.3" fill="#1a1a1a" text-anchor="middle">0</text>
<text x="1904.7" y="676" font-size="24.3" fill="#1a1a1a">10<tspan dy="-0.534em" font-size="57%">2</tspan></text>
<text x="1959.8" y="676" font-size="24.3" fill="#1a1a1a">10<tspan dy="-0.534em" font-size="57%">3</tspan></text>
<text x="2013.3" y="676" font-size="24.3" fill="#1a1a1a">10<tspan dy="-0.534em" font-size="57%">4</tspan></text>
<text x="2064.5" y="676" font-size="24.3" fill="#1a1a1a">10<tspan dy="-0.534em" font-size="57%">5</tspan></text>
<polyline points="1868.9,647 1869.9,647.1 1870.9,646.5 1871.9,647.1 1872.9,646.5 1873.9,646.6 1874.9,646.8 1875.9,646 1876.9,646.4 1877.9,645.5 1878.9,645.7 1879.9,645.2 1880.9,644 1881.9,642.4 1882.9,642.9 1883.9,641.6 1884.9,639.2 1885.9,636.6 1886.9,635.7 1887.9,633.9 1888.9,629.2 1889.9,629.6 1890.9,622.6 1891.9,621.1 1892.9,617.3 1893.9,612.4 1894.9,605.7 1895.9,596.3 1896.9,593.4 1897.9,583.2 1898.9,574.7 1899.9,568.1 1900.9,557.6 1901.9,552.4 1902.9,542.8 1903.9,531.6 1904.9,516.9 1905.9,509.4 1906.9,500.8 1907.9,488.2 1908.9,480.6 1909.9,473.8 1910.9,460.2 1911.9,454.4 1912.9,454 1913.9,445.1 1914.9,442.1 1915.9,435.3 1916.9,436 1917.9,441.8 1918.9,434.4 1919.9,447.5 1920.9,447 1921.9,447.1 1922.9,459.7 1923.9,461.5 1924.9,473.5 1925.9,473.5 1926.9,480.3 1927.9,490.8 1928.9,496.2 1929.9,511 1930.9,516.1 1931.9,526.1 1932.9,535.3 1933.9,545.2 1934.9,550.5 1935.9,558.1 1936.9,569.8 1937.9,576 1938.9,587.4 1939.9,589.7 1940.9,596.4 1941.9,600.2 1942.9,606.6 1943.9,614.3 1944.9,618.1 1945.9,620.7 1946.9,627 1947.9,628.3 1948.9,632.1 1949.9,634.6 1950.9,636.8 1951.9,636.5 1952.9,639.9 1953.9,640.9 1954.9,641.6 1955.9,641.6 1956.9,644 1957.9,644 1958.9,644.4 1959.9,644.3 1960.9,644.9 1961.9,645.1 1962.9,646.2 1963.9,646.2 1964.9,646.5 1965.9,646 1966.9,646 1967.9,647 1968.9,647 1969.9,647 1970.9,647.1 1971.9,646.8 1972.9,646.8 1973.9,647.1 1974.9,647.4 1975.9,647 1976.9,647 1977.9,646.8 1978.9,646.4 1979.9,646.7 1980.9,646.8 1981.9,646.7 1982.9,646.6 1983.9,647.2 1984.9,646.3 1985.9,646.3 1986.9,646.1 1987.9,646.1 1988.9,646.5 1989.9,646.3 1990.9,646.6 1991.9,645.7 1992.9,646.3 1993.9,646.1 1994.9,645.7 1995.9,645.5 1996.9,644.9 1997.9,645.1 1998.9,644.9 1999.9,644.3 2000.9,644 2001.9,643.1 2002.9,643.4 2003.9,641.1 2004.9,641.1 2005.9,641.6 2006.9,640.7 2007.9,639.8 2008.9,638.9 2009.9,638.6 2010.9,635.4 2011.9,633.7 2012.9,633.9 2013.9,632.3 2014.9,631.9 2015.9,629.9 2016.9,626.7 2017.9,624.5 2018.9,619.3 2019.9,619.4 2020.9,617.1 2021.9,608.9 2022.9,607.7 2023.9,606.4 2024.9,600.5 2025.9,600.3 2026.9,593.8 2027.9,587.6 2028.9,585.3 2029.9,583.8 2030.9,584.7 2031.9,582.1 2032.9,582.3 2033.9,577.1 2034.9,578.6 2035.9,577 2036.9,580.6 2037.9,582 2038.9,578.6 2039.9,578.4 2040.9,580.6 2041.9,582.4 2042.9,583.9 2043.9,586.2 2044.9,591.6 2045.9,591.7 2046.9,594.9 2047.9,599.2 2048.9,601.4 2049.9,602.2 2050.9,604.7 2051.9,604.6 2052.9,605.6 2053.9,610.8 2054.9,610.7 2055.9,612.8 2056.9,615.3 2057.9,620.4 2058.9,623.1 2059.9,625.1 2060.9,627.1 2061.9,628.9 2062.9,629 2063.9,629.6 2064.9,631.4 2065.9,634.1 2066.9,634.9 2067.9,635.7 2068.9,638.9 2069.9,638.3 2070.9,638.7 2071.9,639.9 2072.9,640.8 2073.9,642.1 2074.9,643.3 2075.9,642.7 2076.9,644 2077.9,643.6 2078.9,643.8 2079.9,645 2080.9,645.3 2081.9,644.8 2082.9,645.4 2083.9,646.3 2084.9,646.5 2085.9,646.6 2086.9,645.8 2087.9,646 2088.9,646.9 2089.9,646.2 2090.9,646.1 2091.9,646.5 2092.9,646.9 2093.9,646.7 2094.9,647.2 2095.9,647.3 2096.9,646.4 2097.9,646.7" fill="none" stroke="#2e2d8c" stroke-width="3.3" stroke-linejoin="round"/>
<polyline points="1868.9,647.6 1869.9,647.5 1870.9,647.6 1871.9,647.5 1872.9,647.6 1873.9,647.6 1874.9,647.5 1875.9,647.6 1876.9,647.5 1877.9,647.6 1878.9,647.6 1879.9,647.5 1880.9,647.6 1881.9,647.5 1882.9,647.6 1883.9,647.6 1884.9,647.6 1885.9,647.6 1886.9,647.6 1887.9,647.5 1888.9,647.6 1889.9,647.6 1890.9,647.6 1891.9,647.5 1892.9,647.6 1893.9,647.5 1894.9,647.6 1895.9,647.5 1896.9,647.6 1897.9,647.5 1898.9,647.5 1899.9,647.5 1900.9,647.5 1901.9,647.5 1902.9,647.6 1903.9,647.6 1904.9,647.5 1905.9,647.5 1906.9,647.6 1907.9,647.5 1908.9,647.5 1909.9,647.5 1910.9,647.5 1911.9,647.6 1912.9,647.6 1913.9,647.5 1914.9,647.6 1915.9,647.5 1916.9,647.6 1917.9,647.5 1918.9,647.5 1919.9,647.5 1920.9,647.5 1921.9,647.5 1922.9,647.6 1923.9,647.6 1924.9,647.5 1925.9,647.5 1926.9,647.6 1927.9,647.5 1928.9,647.5 1929.9,647.5 1930.9,647.6 1931.9,647.6 1932.9,647.6 1933.9,647.6 1934.9,647.6 1935.9,647.6 1936.9,647.6 1937.9,647.5 1938.9,647.5 1939.9,647.6 1940.9,647.6 1941.9,647.6 1942.9,647.5 1943.9,647.5 1944.9,647.6 1945.9,647.5 1946.9,647.6 1947.9,647.6 1948.9,647.5 1949.9,647.6 1950.9,647.6 1951.9,647.6 1952.9,647.6 1953.9,647.6 1954.9,647.6 1955.9,647.6 1956.9,647.5 1957.9,647.6 1958.9,647.6 1959.9,647.6 1960.9,647.6 1961.9,647.5 1962.9,647.6 1963.9,647.5 1964.9,647.5 1965.9,647.5 1966.9,647.5 1967.9,647.6 1968.9,647.6 1969.9,647.6 1970.9,647.6 1971.9,647.5 1972.9,647.5 1973.9,647.6 1974.9,647.5 1975.9,647.6 1976.9,647.5 1977.9,647.6 1978.9,647.5 1979.9,647.6 1980.9,647.5 1981.9,647.5 1982.9,647.5 1983.9,647.5 1984.9,647.6 1985.9,647.5 1986.9,647.6 1987.9,647.6 1988.9,647.5 1989.9,647.5 1990.9,647.5 1991.9,647.6 1992.9,647.6 1993.9,647.5 1994.9,647.6 1995.9,647.6 1996.9,647.6 1997.9,647.5 1998.9,647.5 1999.9,647.5 2000.9,647.6 2001.9,647.6 2002.9,647.6 2003.9,647.6 2004.9,647.6 2005.9,647.6 2006.9,647.5 2007.9,647.5 2008.9,647.5 2009.9,647.6 2010.9,647.6 2011.9,647.5 2012.9,647.6 2013.9,647.5 2014.9,647.5 2015.9,647.5 2016.9,647.4 2017.9,647.5 2018.9,647.4 2019.9,647.3 2020.9,647.2 2021.9,647 2022.9,646.9 2023.9,646.5 2024.9,646 2025.9,645.5 2026.9,644.7 2027.9,643.6 2028.9,642.6 2029.9,640.9 2030.9,638.7 2031.9,635.9 2032.9,633 2033.9,628.7 2034.9,624 2035.9,618.6 2036.9,612 2037.9,604 2038.9,595.6 2039.9,586.4 2040.9,575 2041.9,564.3 2042.9,551.6 2043.9,537.6 2044.9,524.3 2045.9,511.6 2046.9,498.2 2047.9,484.6 2048.9,472 2049.9,461.3 2050.9,451.3 2051.9,444 2052.9,438.1 2053.9,435 2054.9,434.4 2055.9,435.7 2056.9,439.9 2057.9,446.9 2058.9,455.8 2059.9,468.4 2060.9,482 2061.9,495 2062.9,510.9 2063.9,525.8 2064.9,541.3 2065.9,554.7 2066.9,569 2067.9,581.5 2068.9,592.2 2069.9,602.6 2070.9,611.4 2071.9,618.3 2072.9,624.9 2073.9,630.1 2074.9,633.9 2075.9,637.3 2076.9,639.9 2077.9,642.1 2078.9,643.5 2079.9,644.7 2080.9,645.5 2081.9,646.2 2082.9,646.6 2083.9,646.9 2084.9,647.1 2085.9,647.2 2086.9,647.3 2087.9,647.4 2088.9,647.4 2089.9,647.5 2090.9,647.6 2091.9,647.5 2092.9,647.5 2093.9,647.6 2094.9,647.5 2095.9,647.5 2096.9,647.5 2097.9,647.5" fill="none" stroke="#a82424" stroke-width="3.3" stroke-linejoin="round"/>
<text x="1948" y="428.5" font-size="31.5" fill="#8a5414">ALK<tspan dy="-0.534em" font-size="57%">WT</tspan></text>
<text x="4" y="817" font-size="39" fill="#1a1a1a" font-weight="bold">d</text>
<text x="164.7" y="877.4" font-size="31.5" fill="#1a1a1a" font-weight="bold">NIH-3T3</text>
<text x="292" y="877.4" font-size="31.5" fill="#1a1a1a">cells,</text>
<text x="264" y="903.8" font-size="31.5" fill="#1a1a1a" text-anchor="middle">tumors</text>
<text x="490" y="877.4" font-size="31.5" fill="#1a1a1a" text-anchor="middle">Clinical</text>
<text x="490" y="903.8" font-size="31.5" fill="#1a1a1a" text-anchor="middle">samples</text>
<text x="575.5" y="910.7" font-size="31.5" fill="#1a1a1a">kDa</text>
<line x1="126.9" y1="917" x2="402.7" y2="917" stroke="#1a1a1a" stroke-width="3.6"/>
<line x1="411.9" y1="917" x2="568.6" y2="917" stroke="#1a1a1a" stroke-width="3.6"/>
<text x="575" y="948.6" font-size="31.5" fill="#1a1a1a">250</text>
<text x="575" y="1027.8" font-size="31.5" fill="#1a1a1a">100</text>
<text x="575" y="1096.4" font-size="31.5" fill="#1a1a1a">75</text>
<text x="575" y="1198.3" font-size="31.5" fill="#1a1a1a">50</text>
<text x="575" y="1248.4" font-size="31.5" fill="#1a1a1a">50</text>
<text x="36.3" y="1091.5" font-size="31.5" fill="#1a1a1a">t-ALK</text>
<text x="13.4" y="1245.3" font-size="31.5" fill="#1a1a1a">Tubulin</text>
<clipPath id="cpd1"><rect x="124.4" y="927.4" width="444.2" height="272.8"/></clipPath>
<g clip-path="url(#cpd1)">
<rect x="124.4" y="927.4" width="444.2" height="272.8" fill="#8f8f8f"/>
<g filter="url(#soft)">

<rect x="124" y="924" width="22" height="280" fill="#989898" opacity="0.7" filter="url(#bl4)"/>
<rect x="201" y="924" width="16" height="280" fill="#969696" opacity="0.85" filter="url(#bl3)"/>
<rect x="270" y="924" width="18" height="280" fill="#969696" opacity="0.85" filter="url(#bl3)"/>
<rect x="340" y="924" width="15" height="280" fill="#969696" opacity="0.85" filter="url(#bl3)"/>
<rect x="412" y="924" width="11" height="280" fill="#979797" opacity="0.6" filter="url(#bl3)"/>
<rect x="480" y="924" width="12" height="280" fill="#969696" opacity="0.5" filter="url(#bl3)"/>
<rect x="355" y="940" width="215" height="200" fill="#939393" opacity="0.5" filter="url(#bl6)"/>
<rect x="144.8" y="924" width="55.9" height="280" fill="#6c6c6c" opacity="0.85" filter="url(#bl3)"/>
<rect x="216.8" y="924" width="53.4" height="280" fill="#747474" opacity="0.8" filter="url(#bl3)"/>
<rect x="287.6" y="924" width="52.2" height="280" fill="#8a8a8a" opacity="0.6" filter="url(#bl3)"/>
<rect x="354.7" y="1130" width="57.2" height="70" fill="#848484" opacity="0.6" filter="url(#bl4)"/>
<rect x="423" y="1130" width="57.2" height="70" fill="#888888" opacity="0.5" filter="url(#bl4)"/>
<rect x="491.4" y="1130" width="59.6" height="70" fill="#888888" opacity="0.5" filter="url(#bl4)"/>
<rect x="144.8" y="929.1" width="55.9" height="14" fill="#555" opacity="0.6" filter="url(#bl3)"/>
<rect x="144.8" y="943.7" width="55.9" height="16" fill="#333" opacity="0.85" filter="url(#bl2)"/>
<rect x="144.8" y="943.8" width="55.9" height="6" fill="#111" opacity="0.95" filter="url(#bl1)"/>
<rect x="144.8" y="954" width="55.9" height="5.5" fill="#111" opacity="0.95" filter="url(#bl1)"/>
<rect x="144.8" y="1000.2" width="55.9" height="11" fill="#5a5a5a" opacity="0.45" filter="url(#bl3)"/>
<rect x="144.8" y="1025.3" width="55.9" height="8" fill="#666" opacity="0.25" filter="url(#bl3)"/>
<rect x="144.8" y="1045.1" width="55.9" height="8" fill="#666" opacity="0.25" filter="url(#bl3)"/>
<rect x="144.8" y="1065" width="55.9" height="8" fill="#666" opacity="0.22" filter="url(#bl3)"/>
<rect x="144.8" y="1087.4" width="55.9" height="13" fill="#505050" opacity="0.65" filter="url(#bl3)"/>
<rect x="144.8" y="1113.7" width="55.9" height="7.5" fill="#333" opacity="0.85" filter="url(#bl2)"/>
<rect x="144.8" y="1155.4" width="55.9" height="6" fill="#5a5a5a" opacity="0.3" filter="url(#bl3)"/>
<rect x="144.8" y="1170.4" width="55.9" height="6" fill="#5a5a5a" opacity="0.28" filter="url(#bl3)"/>
<rect x="144.8" y="1182.8" width="55.9" height="6" fill="#505050" opacity="0.4" filter="url(#bl3)"/>
<rect x="144.8" y="968.6" width="55.9" height="7" fill="#666" opacity="0.25" filter="url(#bl3)"/>
<rect x="144.8" y="1135.6" width="55.9" height="6" fill="#666" opacity="0.2" filter="url(#bl3)"/>
<rect x="216.8" y="929.1" width="53.4" height="14" fill="#555" opacity="0.51" filter="url(#bl3)"/>
<rect x="216.8" y="943.7" width="53.4" height="16" fill="#333" opacity="0.85" filter="url(#bl2)"/>
<rect x="216.8" y="943.8" width="53.4" height="6" fill="#111" opacity="0.95" filter="url(#bl1)"/>
<rect x="216.8" y="954" width="53.4" height="5.5" fill="#111" opacity="0.95" filter="url(#bl1)"/>
<rect x="216.8" y="1000.2" width="53.4" height="11" fill="#5a5a5a" opacity="0.38" filter="url(#bl3)"/>
<rect x="216.8" y="1025.3" width="53.4" height="8" fill="#666" opacity="0.21" filter="url(#bl3)"/>
<rect x="216.8" y="1045.1" width="53.4" height="8" fill="#666" opacity="0.21" filter="url(#bl3)"/>
<rect x="216.8" y="1065" width="53.4" height="8" fill="#666" opacity="0.19" filter="url(#bl3)"/>
<rect x="216.8" y="1087.4" width="53.4" height="13" fill="#505050" opacity="0.55" filter="url(#bl3)"/>
<rect x="216.8" y="1113.7" width="53.4" height="7.5" fill="#333" opacity="0.61" filter="url(#bl2)"/>
<rect x="216.8" y="1155.4" width="53.4" height="6" fill="#5a5a5a" opacity="0.26" filter="url(#bl3)"/>
<rect x="216.8" y="1170.4" width="53.4" height="6" fill="#5a5a5a" opacity="0.24" filter="url(#bl3)"/>
<rect x="216.8" y="1182.8" width="53.4" height="6" fill="#505050" opacity="0.34" filter="url(#bl3)"/>
<rect x="216.8" y="968.6" width="53.4" height="7" fill="#666" opacity="0.25" filter="url(#bl3)"/>
<rect x="216.8" y="1135.6" width="53.4" height="6" fill="#666" opacity="0.2" filter="url(#bl3)"/>
<rect x="216.8" y="982.8" width="53.4" height="3.5" fill="#4a4a4a" opacity="0.6" filter="url(#bl2)"/>
<rect x="216.8" y="1121.7" width="53.4" height="5" fill="#555" opacity="0.5" filter="url(#bl2)"/>
<rect x="287.6" y="945.8" width="52.2" height="3" fill="#707070" opacity="0.3" filter="url(#bl2)"/>
<rect x="287.6" y="955.7" width="52.2" height="3" fill="#707070" opacity="0.25" filter="url(#bl2)"/>
<rect x="287.6" y="1009.1" width="52.2" height="5.5" fill="#484848" opacity="0.75" filter="url(#bl2)"/>
<rect x="287.6" y="1016.3" width="52.2" height="6" fill="#707070" opacity="0.4" filter="url(#bl3)"/>
<rect x="287.6" y="1061.3" width="52.2" height="13" fill="#6a6a6a" opacity="0.55" filter="url(#bl3)"/>
<rect x="287.6" y="1121.7" width="52.2" height="4" fill="#777" opacity="0.2" filter="url(#bl2)"/>
<rect x="287.6" y="1139.1" width="52.2" height="4" fill="#777" opacity="0.18" filter="url(#bl2)"/>
<rect x="287.6" y="1156.4" width="52.2" height="4" fill="#777" opacity="0.18" filter="url(#bl2)"/>
<rect x="287.6" y="1181.3" width="52.2" height="4" fill="#777" opacity="0.2" filter="url(#bl2)"/>
<rect x="354.7" y="1127.6" width="57.2" height="7" fill="#1c1c1c" opacity="0.95" filter="url(#bl2)"/>
<rect x="354.7" y="1140.3" width="57.2" height="9" fill="#2a2a2a" opacity="0.9" filter="url(#bl2)"/>
<rect x="354.7" y="1134.1" width="57.2" height="8" fill="#555" opacity="0.6" filter="url(#bl2)"/>
<rect x="354.7" y="1167.9" width="57.2" height="6" fill="#666" opacity="0.4" filter="url(#bl3)"/>
<rect x="354.7" y="1182.8" width="57.2" height="6" fill="#5a5a5a" opacity="0.5" filter="url(#bl3)"/>
<rect x="354.7" y="1056.6" width="57.2" height="5" fill="#808080" opacity="0.2" filter="url(#bl3)"/>
<rect x="354.7" y="1078.9" width="57.2" height="5" fill="#808080" opacity="0.18" filter="url(#bl3)"/>
<rect x="423" y="1128.1" width="57.2" height="6" fill="#2a2a2a" opacity="0.85" filter="url(#bl2)"/>
<rect x="423" y="1140.8" width="57.2" height="8" fill="#3a3a3a" opacity="0.8" filter="url(#bl2)"/>
<rect x="423" y="1134.1" width="57.2" height="8" fill="#666" opacity="0.5" filter="url(#bl2)"/>
<rect x="423" y="1182" width="57.2" height="5" fill="#707070" opacity="0.4" filter="url(#bl3)"/>
<rect x="491.4" y="1128.9" width="59.6" height="7" fill="#222" opacity="0.92" filter="url(#bl2)"/>
<rect x="491.4" y="1142.8" width="59.6" height="9" fill="#333" opacity="0.85" filter="url(#bl2)"/>
<rect x="491.4" y="1135.8" width="59.6" height="8" fill="#5a5a5a" opacity="0.55" filter="url(#bl2)"/>
<rect x="491.4" y="1183.3" width="59.6" height="5" fill="#707070" opacity="0.4" filter="url(#bl3)"/>
</g></g>
<rect x="124.4" y="927.4" width="444.2" height="272.8" fill="none" stroke="#444" stroke-width="1.3"/>
<clipPath id="cpd2"><rect x="124.4" y="1211.4" width="444.2" height="60.8"/></clipPath>
<g clip-path="url(#cpd2)">
<rect x="124.4" y="1211.4" width="444.2" height="60.8" fill="#dddddd"/>
<g filter="url(#soft)">
<path d="M137.8 1226.7 Q169 1231.5 200.2 1226.7 L200.2 1241.7 Q169 1246.5 137.8 1241.7Z" fill="#8a8a8a" opacity="0.7" filter="url(#bl3)"/>
<path d="M138.8 1229.7 Q169 1235.2 199.2 1229.7 L199.2 1239.2 Q169 1244.8 138.8 1239.2Z" fill="#3a3a3a" opacity="0.8" filter="url(#bl3)"/>
<path d="M214.9 1226.7 Q243.9 1231.5 273 1226.7 L273 1241.7 Q243.9 1246.5 214.9 1241.7Z" fill="#8a8a8a" opacity="0.7" filter="url(#bl3)"/>
<path d="M215.9 1229.7 Q243.9 1235.2 272 1229.7 L272 1239.2 Q243.9 1244.8 215.9 1239.2Z" fill="#3a3a3a" opacity="0.8" filter="url(#bl3)"/>
<path d="M288.2 1226.7 Q315.6 1231.5 343 1226.7 L343 1241.7 Q315.6 1246.5 288.2 1241.7Z" fill="#8a8a8a" opacity="0.7" filter="url(#bl3)"/>
<path d="M289.2 1229.7 Q315.6 1235.2 342 1229.7 L342 1239.2 Q315.6 1244.8 289.2 1239.2Z" fill="#3a3a3a" opacity="0.8" filter="url(#bl3)"/>
<path d="M357.7 1226.7 Q386.4 1231.5 415 1226.7 L415 1241.7 Q386.4 1246.5 357.7 1241.7Z" fill="#8a8a8a" opacity="0.6" filter="url(#bl3)"/>
<path d="M358.7 1229.7 Q386.4 1235.2 414 1229.7 L414 1239.2 Q386.4 1244.8 358.7 1239.2Z" fill="#3a3a3a" opacity="0.7" filter="url(#bl3)"/>
<path d="M432.3 1226.7 Q458.5 1231.5 484.6 1226.7 L484.6 1241.7 Q458.5 1246.5 432.3 1241.7Z" fill="#8a8a8a" opacity="0.6" filter="url(#bl3)"/>
<path d="M433.3 1229.7 Q458.5 1235.2 483.6 1229.7 L483.6 1239.2 Q458.5 1244.8 433.3 1239.2Z" fill="#3a3a3a" opacity="0.7" filter="url(#bl3)"/>
<path d="M501.8 1227.7 Q529.9 1232.5 557.9 1227.7 L557.9 1242.7 Q529.9 1247.5 501.8 1242.7Z" fill="#8a8a8a" opacity="0.6" filter="url(#bl3)"/>
<path d="M502.8 1230.7 Q529.9 1236.2 556.9 1230.7 L556.9 1240.2 Q529.9 1245.8 502.8 1240.2Z" fill="#3a3a3a" opacity="0.8" filter="url(#bl3)"/>
</g></g>
<rect x="124.4" y="1211.4" width="444.2" height="60.8" fill="none" stroke="#333" stroke-width="1.5"/>
<text font-size="31.8" fill="#8a5414" transform="translate(94.4 1348.2) rotate(-30)">ALK<tspan dy="-0.534em" font-size="57%">WT</tspan></text>
<text font-size="31.8" fill="#2f2e86" transform="translate(147.8 1363.9) rotate(-30)">ALK<tspan dy="-0.534em" font-size="57%">F1174L</tspan></text>
<text font-size="31.8" fill="#3f7a3a" transform="translate(195.2 1379.6) rotate(-30)">EML4-ALK</text>
<text font-size="31.8" fill="#9e2420" transform="translate(324.2 1346.5) rotate(-30)">ALK<tspan dy="-0.534em" font-size="57%">ATI</tspan></text>
<text font-size="31.8" fill="#9e2420" transform="translate(390.1 1352.1) rotate(-30)">MM-15</text>
<text font-size="31.8" fill="#9e2420" transform="translate(460 1352.7) rotate(-30)">MM-74</text>
<text x="671" y="819" font-size="39" fill="#1a1a1a" font-weight="bold">e</text>
<line x1="870.2" y1="895.3" x2="870.2" y2="1295.4" stroke="#000" stroke-width="2.6"/>
<line x1="869" y1="1294" x2="1441.6" y2="1294" stroke="#000" stroke-width="2.8"/>
<line x1="855.5" y1="1294" x2="870.2" y2="1294" stroke="#000" stroke-width="2.4"/>
<text x="845.8" y="1302.4" font-size="31.3" fill="#1a1a1a" text-anchor="end">0</text>
<line x1="855.5" y1="1214.5" x2="870.2" y2="1214.5" stroke="#000" stroke-width="2.4"/>
<text x="845.8" y="1222.9" font-size="31.3" fill="#1a1a1a" text-anchor="end">200</text>
<line x1="855.5" y1="1135" x2="870.2" y2="1135" stroke="#000" stroke-width="2.4"/>
<text x="845.8" y="1143.4" font-size="31.3" fill="#1a1a1a" text-anchor="end">400</text>
<line x1="855.5" y1="1055.5" x2="870.2" y2="1055.5" stroke="#000" stroke-width="2.4"/>
<text x="845.8" y="1063.9" font-size="31.3" fill="#1a1a1a" text-anchor="end">600</text>
<line x1="855.5" y1="976" x2="870.2" y2="976" stroke="#000" stroke-width="2.4"/>
<text x="845.8" y="984.4" font-size="31.3" fill="#1a1a1a" text-anchor="end">800</text>
<line x1="855.5" y1="896.5" x2="870.2" y2="896.5" stroke="#000" stroke-width="2.4"/>
<text x="845.8" y="904.9" font-size="31.3" fill="#1a1a1a" text-anchor="end">1000</text>
<line x1="870.2" y1="1294" x2="870.2" y2="1310" stroke="#000" stroke-width="2.8"/>
<text x="868.7" y="1340.6" font-size="31.2" fill="#1a1a1a" text-anchor="middle">0</text>
<line x1="984.2" y1="1294" x2="984.2" y2="1310" stroke="#000" stroke-width="2.8"/>
<text x="982.7" y="1340.6" font-size="31.2" fill="#1a1a1a" text-anchor="middle">20</text>
<line x1="1098.1" y1="1294" x2="1098.1" y2="1310" stroke="#000" stroke-width="2.8"/>
<text x="1096.6" y="1340.6" font-size="31.2" fill="#1a1a1a" text-anchor="middle">40</text>
<line x1="1212.1" y1="1294" x2="1212.1" y2="1310" stroke="#000" stroke-width="2.8"/>
<text x="1210.6" y="1340.6" font-size="31.2" fill="#1a1a1a" text-anchor="middle">60</text>
<line x1="1326" y1="1294" x2="1326" y2="1310" stroke="#000" stroke-width="2.8"/>
<text x="1324.5" y="1340.6" font-size="31.2" fill="#1a1a1a" text-anchor="middle">80</text>
<line x1="1440" y1="1294" x2="1440" y2="1310" stroke="#000" stroke-width="2.8"/>
<text x="1434" y="1340.6" font-size="31.2" fill="#1a1a1a" text-anchor="middle">100</text>
<text font-size="31.5" fill="#1a1a1a" text-anchor="middle" transform="translate(775 1103.6) rotate(-90)">Tumor volume (mm<tspan dy="-0.534em" font-size="57%">3</tspan><tspan dy="0.310em">)</tspan></text>
<text x="916.3" y="1378.5" font-size="31.5" fill="#1a1a1a"><tspan font-weight="bold">melan-a</tspan> cells, days after injection</text>
<polyline points="893,1294 932.9,1294 972.8,1294 1012.7,1294 1052.5,1294 1092.4,1294 1132.3,1294 1172.2,1294 1212.1,1294 1252,1294 1291.9,1294 1331.7,1294 1371.6,1294 1411.5,1294" fill="none" stroke="#000" stroke-width="2.6" stroke-linejoin="round"/>
<circle cx="893" cy="1294" r="6.9" fill="none" stroke="#000" stroke-width="4.6"/>
<circle cx="932.9" cy="1294" r="6.9" fill="none" stroke="#000" stroke-width="4.6"/>
<circle cx="972.8" cy="1294" r="6.9" fill="none" stroke="#000" stroke-width="4.6"/>
<circle cx="1012.7" cy="1294" r="6.9" fill="none" stroke="#000" stroke-width="4.6"/>
<circle cx="1052.5" cy="1294" r="6.9" fill="none" stroke="#000" stroke-width="4.6"/>
<circle cx="1092.4" cy="1294" r="6.9" fill="none" stroke="#000" stroke-width="4.6"/>
<circle cx="1132.3" cy="1294" r="6.9" fill="none" stroke="#000" stroke-width="4.6"/>
<circle cx="1172.2" cy="1294" r="6.9" fill="none" stroke="#000" stroke-width="4.6"/>
<circle cx="1212.1" cy="1294" r="6.9" fill="none" stroke="#000" stroke-width="4.6"/>
<circle cx="1252" cy="1294" r="6.9" fill="none" stroke="#000" stroke-width="4.6"/>
<circle cx="1291.9" cy="1294" r="6.9" fill="none" stroke="#000" stroke-width="4.6"/>
<circle cx="1331.7" cy="1294" r="6.9" fill="none" stroke="#000" stroke-width="4.6"/>
<circle cx="1371.6" cy="1294" r="6.9" fill="none" stroke="#000" stroke-width="4.6"/>
<circle cx="1411.5" cy="1294" r="6.9" fill="none" stroke="#000" stroke-width="4.6"/>
<polyline points="1029.7,1294 1069.6,1294 1109.5,1294 1149.4,1294 1172.2,1294 1200.7,1294 1234.9,1294 1308.9,1294 1348.8,1294 1388.7,1294 1428.6,1294" fill="none" stroke="#8a2aa0" stroke-width="2.3" stroke-linejoin="round"/>
<path d="M1021.6 1294L1025.7 1287.1L1033.8 1287.1L1037.9 1294L1033.8 1300.9L1025.7 1300.9Z" fill="#8a2aa0"/>
<path d="M1061.5 1294L1065.5 1287.1L1073.7 1287.1L1077.8 1294L1073.7 1300.9L1065.5 1300.9Z" fill="#8a2aa0"/>
<path d="M1101.3 1294L1105.4 1287.1L1113.6 1287.1L1117.7 1294L1113.6 1300.9L1105.4 1300.9Z" fill="#8a2aa0"/>
<path d="M1141.2 1294L1145.3 1287.1L1153.5 1287.1L1157.6 1294L1153.5 1300.9L1145.3 1300.9Z" fill="#8a2aa0"/>
<path d="M1164 1294L1168.1 1287.1L1176.3 1287.1L1180.4 1294L1176.3 1300.9L1168.1 1300.9Z" fill="#8a2aa0"/>
<path d="M1192.5 1294L1196.6 1287.1L1204.8 1287.1L1208.9 1294L1204.8 1300.9L1196.6 1300.9Z" fill="#8a2aa0"/>
<path d="M1226.7 1294L1230.8 1287.1L1239 1287.1L1243 1294L1239 1300.9L1230.8 1300.9Z" fill="#8a2aa0"/>
<path d="M1300.8 1294L1304.9 1287.1L1313 1287.1L1317.1 1294L1313 1300.9L1304.9 1300.9Z" fill="#8a2aa0"/>
<path d="M1340.7 1294L1344.7 1287.1L1352.9 1287.1L1357 1294L1352.9 1300.9L1344.7 1300.9Z" fill="#8a2aa0"/>
<path d="M1380.5 1294L1384.6 1287.1L1392.8 1287.1L1396.9 1294L1392.8 1300.9L1384.6 1300.9Z" fill="#8a2aa0"/>
<path d="M1420.4 1294L1424.5 1287.1L1432.7 1287.1L1436.8 1294L1432.7 1300.9L1424.5 1300.9Z" fill="#8a2aa0"/>
<polyline points="1029.7,1294 1069.6,1286 1109.5,1278.9 1149.4,1266.2 1172.2,1251.9 1200.7,1166.8 1234.9,1025.3" fill="none" stroke="#8a5a18" stroke-width="2.3" stroke-linejoin="round"/>
<path d="M1200.7 1148.5V1185.1M1192.2 1148.5h17M1192.2 1185.1h17" stroke="#8a5a18" stroke-width="2.3" fill="none"/>
<path d="M1234.9 977.2V1073.4M1226.4 977.2h17M1226.4 1073.4h17" stroke="#8a5a18" stroke-width="2.3" fill="none"/>
<path d="M1029.7 1284.6L1038.8 1294L1029.7 1303.4L1020.7 1294Z" fill="#8a5a18"/>
<path d="M1069.6 1276.6L1078.7 1286L1069.6 1295.5L1060.6 1286Z" fill="#8a5a18"/>
<path d="M1109.5 1269.5L1118.5 1278.9L1109.5 1288.3L1100.5 1278.9Z" fill="#8a5a18"/>
<path d="M1149.4 1256.7L1158.4 1266.2L1149.4 1275.6L1140.4 1266.2Z" fill="#8a5a18"/>
<path d="M1172.2 1242.4L1181.2 1251.9L1172.2 1261.3L1163.2 1251.9Z" fill="#8a5a18"/>
<path d="M1200.7 1157.4L1209.7 1166.8L1200.7 1176.2L1191.7 1166.8Z" fill="#8a5a18"/>
<path d="M1234.9 1015.9L1243.9 1025.3L1234.9 1034.7L1225.9 1025.3Z" fill="#8a5a18"/>
<polyline points="950,1294 989.9,1294 1029.7,1288 1069.6,1269.4 1109.5,1238.3 1149.4,1163.6 1172.2,1056.7" fill="none" stroke="#b02a00" stroke-width="2.3" stroke-linejoin="round"/>
<path d="M1069.6 1259V1279.7M1061.1 1259h17M1061.1 1279.7h17" stroke="#b02a00" stroke-width="2.3" fill="none"/>
<path d="M1109.5 1222.5V1254.2M1101 1222.5h17M1101 1254.2h17" stroke="#b02a00" stroke-width="2.3" fill="none"/>
<path d="M1149.4 1133.8V1193.4M1140.9 1133.8h17M1140.9 1193.4h17" stroke="#b02a00" stroke-width="2.3" fill="none"/>
<path d="M1172.2 1010.6V1102.8M1163.7 1010.6h17M1163.7 1102.8h17" stroke="#b02a00" stroke-width="2.3" fill="none"/>
<path d="M950 1284.6L958.8 1301L941.1 1301Z" fill="#b02a00"/>
<path d="M989.9 1284.6L998.7 1301L981 1301Z" fill="#b02a00"/>
<path d="M1029.7 1278.6L1038.6 1295L1020.9 1295Z" fill="#b02a00"/>
<path d="M1069.6 1259.9L1078.5 1276.3L1060.8 1276.3Z" fill="#b02a00"/>
<path d="M1109.5 1228.9L1118.4 1245.3L1100.7 1245.3Z" fill="#b02a00"/>
<path d="M1149.4 1154.2L1158.3 1170.6L1140.5 1170.6Z" fill="#b02a00"/>
<path d="M1172.2 1047.3L1181 1063.7L1163.3 1063.7Z" fill="#b02a00"/>
<polyline points="875.9,1294 910.1,1294 950,1286.8 989.9,1259.8 1029.7,1167.6 1069.6,980" fill="none" stroke="#1c2c9c" stroke-width="2.3" stroke-linejoin="round"/>
<path d="M989.9 1248.3V1271.3M981.4 1248.3h17M981.4 1271.3h17" stroke="#1c2c9c" stroke-width="2.3" fill="none"/>
<path d="M1029.7 1147.3V1187.9M1021.2 1147.3h17M1021.2 1187.9h17" stroke="#1c2c9c" stroke-width="2.3" fill="none"/>
<path d="M1069.6 928.3V1031.7M1061.1 928.3h17M1061.1 1031.7h17" stroke="#1c2c9c" stroke-width="2.3" fill="none"/>
<path d="M875.9 1303.4L884.8 1287L867 1287Z" fill="#1c2c9c"/>
<path d="M910.1 1303.4L918.9 1287L901.2 1287Z" fill="#1c2c9c"/>
<path d="M950 1296.3L958.8 1279.9L941.1 1279.9Z" fill="#1c2c9c"/>
<path d="M989.9 1269.2L998.7 1252.8L981 1252.8Z" fill="#1c2c9c"/>
<path d="M1029.7 1177L1038.6 1160.6L1020.9 1160.6Z" fill="#1c2c9c"/>
<path d="M1069.6 989.4L1078.5 973L1060.8 973Z" fill="#1c2c9c"/>
<polyline points="875.9,1294 910.1,1294 950,1272.5 989.9,1195.4 1029.7,1024.5" fill="none" stroke="#3f7d3f" stroke-width="2.3" stroke-linejoin="round"/>
<path d="M989.9 1183.5V1207.3M981.4 1183.5h17M981.4 1207.3h17" stroke="#3f7d3f" stroke-width="2.3" fill="none"/>
<path d="M1029.7 993.5V1055.5M1021.2 993.5h17M1021.2 1055.5h17" stroke="#3f7d3f" stroke-width="2.3" fill="none"/>
<rect x="867.7" y="1285.8" width="16.4" height="16.4" fill="#3f7d3f"/>
<rect x="901.9" y="1285.8" width="16.4" height="16.4" fill="#3f7d3f"/>
<rect x="941.8" y="1264.3" width="16.4" height="16.4" fill="#3f7d3f"/>
<rect x="981.7" y="1187.2" width="16.4" height="16.4" fill="#3f7d3f"/>
<rect x="1021.5" y="1016.3" width="16.4" height="16.4" fill="#3f7d3f"/>
<line x1="895" y1="838.6" x2="959" y2="838.6" stroke="#b02a00" stroke-width="2.3"/>
<path d="M927 829.2L935.9 845.6L918.1 845.6Z" fill="#b02a00"/>
<text x="968.5" y="851.8" font-size="39.2" fill="#9e2420">ALK<tspan dy="-0.534em" font-size="57%">ATI</tspan></text>
<line x1="895" y1="876.3" x2="959" y2="876.3" stroke="#3f7d3f" stroke-width="2.3"/>
<rect x="918.8" y="868.1" width="16.4" height="16.4" fill="#3f7d3f"/>
<text x="969.5" y="888" font-size="39.2" fill="#3f7a3a">EML4-ALK</text>
<line x1="895" y1="914" x2="959" y2="914" stroke="#1c2c9c" stroke-width="2.3"/>
<path d="M927 923.4L935.9 907L918.1 907Z" fill="#1c2c9c"/>
<text x="968.5" y="924.2" font-size="39.2" fill="#2f2e86">ALK<tspan dy="-0.534em" font-size="57%">F1174L</tspan></text>
<line x1="1182" y1="838.6" x2="1246" y2="838.6" stroke="#8a5a18" stroke-width="2.3"/>
<path d="M1214 829.2L1223 838.6L1214 848L1205 838.6Z" fill="#8a5a18"/>
<text x="1256.3" y="851.8" font-size="39.2" fill="#8a5414">ALK<tspan dy="-0.534em" font-size="57%">WT</tspan></text>
<line x1="1182" y1="876.3" x2="1246" y2="876.3" stroke="#8a2aa0" stroke-width="2.3"/>
<path d="M1206.2 876.3L1210.1 869.7L1217.9 869.7L1221.8 876.3L1217.9 882.9L1210.1 882.9Z" fill="#8a2aa0"/>
<text x="1257.2" y="888" font-size="39.2" fill="#84127f">ALK<tspan dy="-0.534em" font-size="57%">ATI-KD</tspan></text>
<line x1="1182" y1="914" x2="1246" y2="914" stroke="#000" stroke-width="2.6"/>
<circle cx="1214" cy="914" r="6.9" fill="none" stroke="#000" stroke-width="4.6"/>
<text x="1258" y="924.2" font-size="39.2" fill="#1a1a1a">Vector</text>
<text x="1478" y="816.5" font-size="39" fill="#1a1a1a" font-weight="bold">f</text>
<text x="1669.6" y="876.8" font-size="31.5" fill="#1a1a1a"><tspan font-weight="bold">melan-a</tspan> cells,</text>
<text x="1769.2" y="906.1" font-size="31.5" fill="#1a1a1a" text-anchor="middle">tumors</text>
<text x="1984.6" y="876.8" font-size="31.5" fill="#1a1a1a" text-anchor="middle">Clinical</text>
<text x="1984.6" y="906.1" font-size="31.5" fill="#1a1a1a" text-anchor="middle">samples</text>
<text x="2067" y="908.2" font-size="31.5" fill="#1a1a1a">kDa</text>
<line x1="1628.6" y1="915" x2="1908.8" y2="915" stroke="#1a1a1a" stroke-width="3.6"/>
<line x1="1914.3" y1="915" x2="2056.4" y2="915" stroke="#1a1a1a" stroke-width="3.6"/>
<text x="2067" y="948.6" font-size="31.5" fill="#1a1a1a">250</text>
<text x="2067" y="1046.6" font-size="31.5" fill="#1a1a1a">100</text>
<text x="2067" y="1107" font-size="31.5" fill="#1a1a1a">75</text>
<text x="2067" y="1193.2" font-size="31.5" fill="#1a1a1a">50</text>
<text x="2067" y="1241.2" font-size="31.5" fill="#1a1a1a">50</text>
<text x="1542" y="1076.4" font-size="31.5" fill="#1a1a1a">t-ALK</text>
<text x="1519.3" y="1240.2" font-size="31.5" fill="#1a1a1a">Tubulin</text>
<clipPath id="cpf1"><rect x="1627.4" y="925.7" width="429.3" height="271.7"/></clipPath>
<g clip-path="url(#cpf1)">
<rect x="1627.4" y="925.7" width="429.3" height="271.7" fill="#8c8c8c"/>
<g filter="url(#soft)">

<rect x="1626" y="922" width="21" height="280" fill="#9a9a9a" opacity="0.8" filter="url(#bl3)"/>
<rect x="1703" y="922" width="14" height="280" fill="#929292" opacity="0.85" filter="url(#bl3)"/>
<rect x="1769.5" y="922" width="14.5" height="280" fill="#929292" opacity="0.85" filter="url(#bl3)"/>
<rect x="1838.6" y="922" width="12.4" height="280" fill="#929292" opacity="0.7" filter="url(#bl3)"/>
<rect x="1908" y="922" width="152" height="280" fill="#8e8e8e" opacity="0.55" filter="url(#bl4)"/>
<rect x="1851" y="925" width="57" height="190" fill="#8e8e8e" opacity="0.5" filter="url(#bl4)"/>
<rect x="1648" y="922" width="54.9" height="280" fill="#707070" opacity="0.8" filter="url(#bl3)"/>
<rect x="1717" y="922" width="52.5" height="280" fill="#727272" opacity="0.75" filter="url(#bl3)"/>
<rect x="1783.8" y="922" width="54.8" height="280" fill="#707070" opacity="0.75" filter="url(#bl3)"/>
<rect x="1850.5" y="1140" width="57.1" height="60" fill="#808080" opacity="0.6" filter="url(#bl4)"/>
<rect x="1648" y="929.8" width="54.9" height="10" fill="#555" opacity="0.5" filter="url(#bl3)"/>
<rect x="1648" y="938.1" width="54.9" height="10" fill="#1e1e1e" opacity="0.92" filter="url(#bl2)"/>
<rect x="1648" y="946.2" width="54.9" height="8" fill="#555" opacity="0.5" filter="url(#bl3)"/>
<rect x="1648" y="978.7" width="54.9" height="5" fill="#505050" opacity="0.5" filter="url(#bl2)"/>
<rect x="1648" y="995.7" width="54.9" height="9" fill="#222" opacity="0.9" filter="url(#bl2)"/>
<rect x="1648" y="1002.4" width="54.9" height="10" fill="#555" opacity="0.55" filter="url(#bl3)"/>
<rect x="1648" y="1034.8" width="54.9" height="7" fill="#555" opacity="0.28" filter="url(#bl3)"/>
<rect x="1648" y="1056.8" width="54.9" height="6" fill="#5a5a5a" opacity="0.2" filter="url(#bl3)"/>
<rect x="1648" y="1083.8" width="54.9" height="9" fill="#4a4a4a" opacity="0.55" filter="url(#bl3)"/>
<rect x="1648" y="1115.5" width="54.9" height="10" fill="#303030" opacity="0.8" filter="url(#bl3)"/>
<rect x="1648" y="1124.8" width="54.9" height="8" fill="#555" opacity="0.4" filter="url(#bl3)"/>
<rect x="1648" y="1140.6" width="54.9" height="5" fill="#555" opacity="0.25" filter="url(#bl3)"/>
<rect x="1648" y="1154.9" width="54.9" height="5" fill="#484848" opacity="0.35" filter="url(#bl3)"/>
<rect x="1648" y="1169.2" width="54.9" height="5" fill="#484848" opacity="0.35" filter="url(#bl3)"/>
<rect x="1648" y="1179.9" width="54.9" height="5" fill="#444" opacity="0.4" filter="url(#bl3)"/>
<rect x="1648" y="1189.4" width="54.9" height="5" fill="#444" opacity="0.4" filter="url(#bl3)"/>
<rect x="1717" y="941.1" width="52.5" height="5.5" fill="#2a2a2a" opacity="0.85" filter="url(#bl2)"/>
<rect x="1717" y="935" width="52.5" height="8" fill="#666" opacity="0.4" filter="url(#bl3)"/>
<rect x="1717" y="974.4" width="52.5" height="4" fill="#666" opacity="0.18" filter="url(#bl3)"/>
<rect x="1717" y="998.2" width="52.5" height="4" fill="#666" opacity="0.18" filter="url(#bl3)"/>
<rect x="1717" y="1026.8" width="52.5" height="4" fill="#666" opacity="0.18" filter="url(#bl3)"/>
<rect x="1717" y="1055.4" width="52.5" height="4" fill="#666" opacity="0.18" filter="url(#bl3)"/>
<rect x="1717" y="1083.5" width="52.5" height="5" fill="#606060" opacity="0.22" filter="url(#bl3)"/>
<rect x="1717" y="1115.3" width="52.5" height="8" fill="#505050" opacity="0.55" filter="url(#bl3)"/>
<rect x="1717" y="1128.9" width="52.5" height="7" fill="#555" opacity="0.5" filter="url(#bl3)"/>
<rect x="1717" y="1145.4" width="52.5" height="5" fill="#5a5a5a" opacity="0.3" filter="url(#bl3)"/>
<rect x="1717" y="1162.5" width="52.5" height="4" fill="#606060" opacity="0.22" filter="url(#bl3)"/>
<rect x="1717" y="1179.2" width="52.5" height="4" fill="#606060" opacity="0.22" filter="url(#bl3)"/>
<rect x="1717" y="1188.7" width="52.5" height="4" fill="#606060" opacity="0.22" filter="url(#bl3)"/>
<rect x="1783.8" y="1002.9" width="54.8" height="6.5" fill="#2c2c2c" opacity="0.88" filter="url(#bl2)"/>
<rect x="1783.8" y="1009.3" width="54.8" height="8" fill="#606060" opacity="0.4" filter="url(#bl3)"/>
<rect x="1783.8" y="1043.9" width="54.8" height="5.5" fill="#383838" opacity="0.8" filter="url(#bl2)"/>
<rect x="1783.8" y="1053.4" width="54.8" height="5.5" fill="#444" opacity="0.75" filter="url(#bl2)"/>
<rect x="1783.8" y="1078.2" width="54.8" height="6" fill="#505050" opacity="0.5" filter="url(#bl2)"/>
<rect x="1783.8" y="1067.3" width="54.8" height="4" fill="#606060" opacity="0.2" filter="url(#bl2)"/>
<rect x="1783.8" y="1098.2" width="54.8" height="4" fill="#666" opacity="0.2" filter="url(#bl2)"/>
<rect x="1783.8" y="1116.8" width="54.8" height="5" fill="#5a5a5a" opacity="0.3" filter="url(#bl3)"/>
<rect x="1783.8" y="1131.1" width="54.8" height="5" fill="#5a5a5a" opacity="0.28" filter="url(#bl3)"/>
<rect x="1783.8" y="1145.9" width="54.8" height="4" fill="#606060" opacity="0.22" filter="url(#bl3)"/>
<rect x="1783.8" y="1160.6" width="54.8" height="5.5" fill="#444" opacity="0.7" filter="url(#bl2)"/>
<rect x="1783.8" y="1173.2" width="54.8" height="6.5" fill="#262626" opacity="0.9" filter="url(#bl2)"/>
<rect x="1783.8" y="1185.8" width="54.8" height="5" fill="#505050" opacity="0.5" filter="url(#bl2)"/>
<rect x="1783.8" y="949.5" width="54.8" height="30" fill="#6a6a6a" opacity="0.3" filter="url(#bl4)"/>
<rect x="1850.5" y="1128.4" width="57.1" height="8" fill="#141414" opacity="0.95" filter="url(#bl2)"/>
<rect x="1850.5" y="1142.7" width="57.1" height="8" fill="#333" opacity="0.85" filter="url(#bl2)"/>
<rect x="1850.5" y="1136.5" width="57.1" height="6" fill="#555" opacity="0.5" filter="url(#bl2)"/>
<rect x="1850.5" y="1164.4" width="57.1" height="5" fill="#666" opacity="0.4" filter="url(#bl3)"/>
<rect x="1850.5" y="1182.5" width="57.1" height="7" fill="#5a5a5a" opacity="0.45" filter="url(#bl3)"/>
<rect x="1919.5" y="1127.8" width="57.2" height="4.5" fill="#505050" opacity="0.65" filter="url(#bl2)"/>
<rect x="1919.5" y="1143.2" width="57.2" height="4.5" fill="#585858" opacity="0.6" filter="url(#bl2)"/>
<rect x="1919.5" y="927.3" width="57.2" height="3" fill="#808080" opacity="0.3" filter="url(#bl2)"/>
<rect x="1919.5" y="988" width="57.2" height="3" fill="#9c9c9c" opacity="0.3" filter="url(#bl2)"/>
<rect x="1991" y="1126.8" width="54.7" height="4" fill="#666" opacity="0.5" filter="url(#bl2)"/>
<rect x="1991" y="1141.1" width="54.7" height="4" fill="#6a6a6a" opacity="0.45" filter="url(#bl2)"/>
</g></g>
<rect x="1627.4" y="925.7" width="429.3" height="271.7" fill="none" stroke="#444" stroke-width="1.3"/>
<clipPath id="cpf2"><rect x="1627.4" y="1208.6" width="429.3" height="53.5"/></clipPath>
<g clip-path="url(#cpf2)">
<rect x="1627.4" y="1208.6" width="429.3" height="53.5" fill="#dfdfdf"/>
<g filter="url(#soft)">
<path d="M1640.4 1226.7 Q1669 1231.5 1697.5 1226.7 L1697.5 1241.7 Q1669 1246.5 1640.4 1241.7Z" fill="#8a8a8a" opacity="0.7" filter="url(#bl3)"/>
<path d="M1641.4 1229.7 Q1669 1235.2 1696.5 1229.7 L1696.5 1239.2 Q1669 1244.8 1641.4 1239.2Z" fill="#3a3a3a" opacity="0.8" filter="url(#bl3)"/>
<path d="M1711.8 1226.7 Q1738.5 1231.5 1765.3 1226.7 L1765.3 1241.7 Q1738.5 1246.5 1711.8 1241.7Z" fill="#8a8a8a" opacity="0.7" filter="url(#bl3)"/>
<path d="M1712.8 1229.7 Q1738.5 1235.2 1764.3 1229.7 L1764.3 1239.2 Q1738.5 1244.8 1712.8 1239.2Z" fill="#3a3a3a" opacity="0.8" filter="url(#bl3)"/>
<path d="M1778.5 1226.7 Q1805.8 1231.5 1833.2 1226.7 L1833.2 1241.7 Q1805.8 1246.5 1778.5 1241.7Z" fill="#8a8a8a" opacity="0.7" filter="url(#bl3)"/>
<path d="M1779.5 1229.7 Q1805.8 1235.2 1832.2 1229.7 L1832.2 1239.2 Q1805.8 1244.8 1779.5 1239.2Z" fill="#3a3a3a" opacity="0.8" filter="url(#bl3)"/>
<path d="M1849.9 1229 Q1876.1 1233.8 1902.2 1229 L1902.2 1239.4 Q1876.1 1244.2 1849.9 1239.4Z" fill="#8a8a8a" opacity="0.7" filter="url(#bl3)"/>
<path d="M1850.9 1231.6 Q1876.1 1237.2 1901.2 1231.6 L1901.2 1237.2 Q1876.1 1242.8 1850.9 1237.2Z" fill="#3a3a3a" opacity="0.8" filter="url(#bl3)"/>
<path d="M1920 1227 Q1947.5 1231.8 1974.9 1227 L1974.9 1241.4 Q1947.5 1246.2 1920 1241.4Z" fill="#8a8a8a" opacity="0.7" filter="url(#bl3)"/>
<path d="M1921 1229.9 Q1947.5 1235.5 1973.9 1229.9 L1973.9 1238.9 Q1947.5 1244.5 1921 1238.9Z" fill="#3a3a3a" opacity="0.8" filter="url(#bl3)"/>
<path d="M1991.6 1228.4 Q2017.2 1233.2 2042.7 1228.4 L2042.7 1240 Q2017.2 1244.8 1991.6 1240Z" fill="#8a8a8a" opacity="0.7" filter="url(#bl3)"/>
<path d="M1992.6 1231.1 Q2017.2 1236.7 2041.7 1231.1 L2041.7 1237.7 Q2017.2 1243.3 1992.6 1237.7Z" fill="#3a3a3a" opacity="0.8" filter="url(#bl3)"/>
</g></g>
<rect x="1627.4" y="1208.6" width="429.3" height="53.5" fill="none" stroke="#333" stroke-width="1.5"/>
<text font-size="31.8" fill="#8a5414" transform="translate(1586.3 1340.1) rotate(-30)">ALK<tspan dy="-0.534em" font-size="57%">WT</tspan></text>
<text font-size="31.8" fill="#2f2e86" transform="translate(1641.4 1356.4) rotate(-30)">ALK<tspan dy="-0.534em" font-size="57%">F1174L</tspan></text>
<text font-size="31.8" fill="#3f7a3a" transform="translate(1691.7 1372.3) rotate(-30)">EML4-ALK</text>
<text font-size="31.8" fill="#9e2420" transform="translate(1822.7 1339.5) rotate(-30)">ALK<tspan dy="-0.534em" font-size="57%">ATI</tspan></text>
<text font-size="31.8" fill="#9e2420" transform="translate(1891.3 1344.4) rotate(-30)">MM-15</text>
<text font-size="31.8" fill="#9e2420" transform="translate(1962.5 1344.8) rotate(-30)">MM-74</text>
<text x="4" y="1513.4" font-size="39" fill="#1a1a1a" font-weight="bold">g</text>
<line x1="163.8" y1="1565.5" x2="163.8" y2="1982.1" stroke="#000" stroke-width="1.5"/>
<line x1="163.1" y1="1981.4" x2="580.3" y2="1981.4" stroke="#000" stroke-width="1.5"/>
<line x1="153.8" y1="1981.4" x2="163.8" y2="1981.4" stroke="#000" stroke-width="1.5"/>
<text x="153.3" y="1992.5" font-size="32" fill="#1a1a1a" text-anchor="end">0</text>
<line x1="153.8" y1="1902" x2="163.8" y2="1902" stroke="#000" stroke-width="1.5"/>
<text x="153.3" y="1913.1" font-size="32" fill="#1a1a1a" text-anchor="end">20</text>
<line x1="153.8" y1="1822.6" x2="163.8" y2="1822.6" stroke="#000" stroke-width="1.5"/>
<text x="153.3" y="1833.7" font-size="32" fill="#1a1a1a" text-anchor="end">40</text>
<line x1="153.8" y1="1743.1" x2="163.8" y2="1743.1" stroke="#000" stroke-width="1.5"/>
<text x="153.3" y="1754.2" font-size="32" fill="#1a1a1a" text-anchor="end">60</text>
<line x1="153.8" y1="1663.7" x2="163.8" y2="1663.7" stroke="#000" stroke-width="1.5"/>
<text x="153.3" y="1674.8" font-size="32" fill="#1a1a1a" text-anchor="end">80</text>
<line x1="153.8" y1="1584.3" x2="163.8" y2="1584.3" stroke="#000" stroke-width="1.5"/>
<text x="153.3" y="1595.4" font-size="32" fill="#1a1a1a" text-anchor="end">100</text>
<path d="M163.8 1961.5h-3.4M163.8 1941.7h-3.4M163.8 1921.8h-3.4M163.8 1882.1h-3.4M163.8 1862.3h-3.4M163.8 1842.4h-3.4M163.8 1802.7h-3.4M163.8 1782.9h-3.4M163.8 1763h-3.4M163.8 1723.3h-3.4M163.8 1703.4h-3.4M163.8 1683.6h-3.4M163.8 1643.9h-3.4M163.8 1624h-3.4M163.8 1604.2h-3.4M204 1981.4v11M251.3 1981.4v11M352.2 1981.4v11M449 1981.4v11M540.3 1981.4v11M281.7 1981.4v5.5M299.4 1981.4v5.5M312 1981.4v5.5M321.8 1981.4v5.5M329.8 1981.4v5.5M336.6 1981.4v5.5M342.4 1981.4v5.5M347.6 1981.4v5.5M381.3 1981.4v5.5M398.4 1981.4v5.5M410.5 1981.4v5.5M419.9 1981.4v5.5M427.5 1981.4v5.5M434 1981.4v5.5M439.6 1981.4v5.5M444.6 1981.4v5.5M476.5 1981.4v5.5M492.6 1981.4v5.5M504 1981.4v5.5M512.8 1981.4v5.5M520 1981.4v5.5M526.2 1981.4v5.5M531.5 1981.4v5.5M536.1 1981.4v5.5M567.7 1981.4v5.5M167 1981.4v5.5M172 1981.4v5.5M177 1981.4v5.5M182 1981.4v5.5M187 1981.4v5.5M191 1981.4v5.5M195 1981.4v5.5M198 1981.4v5.5M201 1981.4v5.5M206 1981.4v5.5M208 1981.4v5.5M211 1981.4v5.5M215 1981.4v5.5M220 1981.4v5.5M226 1981.4v5.5M233 1981.4v5.5M241 1981.4v5.5" stroke="#000" stroke-width="1.2" fill="none"/>
<text x="203.5" y="2018.8" font-size="31" fill="#1a1a1a" text-anchor="middle">0</text>
<text x="233.9" y="2018.8" font-size="31" fill="#1a1a1a">10<tspan dy="-0.534em" font-size="57%">2</tspan></text>
<text x="334.8" y="2018.8" font-size="31" fill="#1a1a1a">10<tspan dy="-0.534em" font-size="57%">3</tspan></text>
<text x="431.6" y="2018.8" font-size="31" fill="#1a1a1a">10<tspan dy="-0.534em" font-size="57%">4</tspan></text>
<text x="522.9" y="2018.8" font-size="31" fill="#1a1a1a">10<tspan dy="-0.534em" font-size="57%">5</tspan></text>
<text font-size="31.3" fill="#1a1a1a" text-anchor="middle" transform="translate(98 1773) rotate(-90)">% of Max</text>
<text x="368" y="2052.3" font-size="31.3" fill="#1a1a1a" text-anchor="middle">GFP (FITC) Intensity</text>
<line x1="176" y1="1981.4" x2="260" y2="1981.4" stroke="#1515d0" stroke-width="1.6"/>
<polyline points="382,1981.4 383,1981.4 384,1981.3 385,1981.2 386,1981.2 387,1981 388,1980.9 389,1980.9 390,1980.7 391,1980.7 392,1980.6 393,1980.3 394,1980 395,1980 396,1979.4 397,1979.4 398,1979.1 399,1978.9 400,1977.8 401,1977.8 402,1977.4 403,1977.4 404,1977.7 405,1977.1 406,1976.6 407,1976.7 408,1975.5 409,1975.8 410,1975.7 411,1974.6 412,1975 413,1973.6 414,1973.9 415,1973.3 416,1973.2 417,1972.5 418,1972.5 419,1972.3 420,1970.6 421,1971.1 422,1969.7 423,1970.2 424,1968.4 425,1968 426,1967.7 427,1967.1 428,1966.9 429,1966.1 430,1966.6 431,1965.4 432,1964.1 433,1964.8 434,1962.7 435,1962.2 436,1962.5 437,1962 438,1961.2 439,1960.7 440,1958.7 441,1959.3 442,1959.4 443,1958.6 444,1956.4 445,1954.9 446,1955.3 447,1954.4 448,1953.4 449,1952 450,1952.3 451,1950.3 452,1949.3 453,1947.9 454,1947.9 455,1946.6 456,1944.7 457,1941.4 458,1941.5 459,1938.9 460,1937.9 461,1936.6 462,1934.5 463,1929.6 464,1927.1 465,1925.8 466,1921.7 467,1918.6 468,1914.3 469,1910.4 470,1908.7 471,1902.1 472,1897.8 473,1894.7 474,1888.4 475,1885 476,1880 477,1874.8 478,1865.5 479,1862.7 480,1856.6 481,1845.5 482,1838.4 483,1832.4 484,1822.4 485,1819.1 486,1809.5 487,1800.7 488,1791.1 489,1783.8 490,1775.4 491,1764.3 492,1751 493,1740.8 494,1733.1 495,1725.6 496,1717.9 497,1703 498,1697.2 499,1686.5 500,1683.3 501,1673.2 502,1659.5 503,1651.8 504,1643.4 505,1638.5 506,1633.3 507,1625.5 508,1617.3 509,1616.9 510,1610.1 511,1608.4 512,1600.4 513,1604.6 514,1596.2 515,1592.2 516,1600.2 517,1594.8 518,1595.4 519,1596.3 520,1603.4 521,1612.7 522,1619.2 523,1623.6 524,1634.9 525,1653.7 526,1667 527,1680.9 528,1696.1 529,1707.9 530,1726 531,1736.5 532,1754.1 533,1773.8 534,1786.7 535,1803.5 536,1817.4 537,1833.4 538,1847.4 539,1860.3 540,1871.6 541,1881.6 542,1893.2 543,1905.3 544,1911.7 545,1919.5 546,1927.5 547,1934.4 548,1943 549,1947.1 550,1953 551,1955.5 552,1960.6 553,1962.8 554,1966.5 555,1968.2 556,1970.9 557,1974.1 558,1976 559,1977.7 560,1978.7 561,1979.9 562,1980.6 563,1981.1 564,1981.4 565,1981.4 566,1981.4" fill="none" stroke="#1212e6" stroke-width="2.7" stroke-linejoin="round"/>
<polyline points="268,1981.4 269,1980.6 270,1979.8 271,1978.3 272,1977.9 273,1977 274,1975.3 275,1974.6 276,1972.5 277,1973.5 278,1972 279,1973 280,1972.3 281,1971.5 282,1971.7 283,1971.1 284,1971.3 285,1972.5 286,1970.7 287,1971.1 288,1971.5 289,1971.5 290,1970 291,1970.4 292,1969.5 293,1969.7 294,1969.1 295,1969.8 296,1969.3 297,1969.3 298,1969.9 299,1968.2 300,1969.5 301,1968.2 302,1967.6 303,1968.1 304,1969.1 305,1967.3 306,1967.4 307,1968.3 308,1968.4 309,1967 310,1968 311,1965.5 312,1966.2 313,1965.9 314,1965.8 315,1964.8 316,1963.8 317,1965 318,1964.4 319,1963.4 320,1963.7 321,1962.3 322,1961.9 323,1961.6 324,1960.3 325,1960 326,1960.6 327,1957.1 328,1958.2 329,1957.1 330,1956.2 331,1953.5 332,1952.3 333,1952.6 334,1951.7 335,1951.4 336,1947.1 337,1948.3 338,1945.3 339,1944.3 340,1942.6 341,1940.5 342,1939.2 343,1937.7 344,1933.2 345,1929.5 346,1927.5 347,1926.7 348,1921.3 349,1921.2 350,1916 351,1910 352,1905.5 353,1903.7 354,1896.9 355,1894 356,1888.6 357,1882.6 358,1873.9 359,1869 360,1864 361,1854.9 362,1847.7 363,1841.6 364,1829.7 365,1820.2 366,1812.2 367,1799.3 368,1796.8 369,1781.8 370,1769.4 371,1760.7 372,1750.7 373,1733.8 374,1724.4 375,1714.2 376,1704.8 377,1683.2 378,1678.5 379,1670.1 380,1658.6 381,1648.2 382,1631.9 383,1631.6 384,1622.9 385,1618.6 386,1608.5 387,1607.4 388,1602.5 389,1595.5 390,1592.2 391,1593.6 392,1605 393,1603.5 394,1601.5 395,1616.1 396,1619.5 397,1622.3 398,1630.4 399,1633.7 400,1642.5 401,1654.7 402,1667.6 403,1679.3 404,1691.7 405,1707.6 406,1715.5 407,1735.2 408,1742.8 409,1760 410,1779.9 411,1790.1 412,1802.9 413,1820.5 414,1829.1 415,1844.1 416,1849.3 417,1864.5 418,1869.2 419,1875.2 420,1883.7 421,1894.3 422,1898.7 423,1906.6 424,1910.7 425,1912.8 426,1917.5 427,1925.5 428,1927.4 429,1929.7 430,1935 431,1935.3 432,1937.8 433,1941.8 434,1945.1 435,1945.6 436,1949 437,1952.2 438,1953.9 439,1956.1 440,1955.6 441,1958.3 442,1959.3 443,1960.5 444,1961.5 445,1964.9 446,1965.6 447,1965.6 448,1967 449,1968.9 450,1969.2 451,1971.1 452,1972 453,1973.9 454,1974.9 455,1976.5 456,1977.4 457,1978.1 458,1979.6 459,1980.2 460,1980.8 461,1981.4 462,1981.4" fill="none" stroke="#ee1414" stroke-width="2.7" stroke-linejoin="round"/>
<polyline points="165,1981.4 174,1981.4 175,1980.5 176,1979.5 177,1980.5 178,1977.4 179,1976.5 180,1973.4 181,1974.5 182,1970.7 183,1964.6 184,1965 185,1957.6 186,1961.6 187,1956.3 188,1937.9 189,1938.3 190,1929.4 191,1915.9 192,1918.1 193,1918.6 194,1886.1 195,1881.7 196,1867.7 197,1856.7 198,1829.5 199,1840.9 200,1809.5 201,1812.5 202,1788 203,1768.1 204,1770.3 205,1767.4 206,1731.1 207,1702 208,1694.4 209,1688.8 210,1663.5 211,1679.8 212,1669 213,1649.8 214,1608.8 215,1642.5 216,1642.4 217,1639.6 218,1641.4 219,1624.9 220,1606 221,1592.2 222,1629.6 223,1633 224,1645.8 225,1653.6 226,1633.5 227,1659.5 228,1689.8 229,1711.9 230,1685.6 231,1705 232,1713.5 233,1760.9 234,1759.7 235,1756.2 236,1787.7 237,1786.3 238,1835.9 239,1814.8 240,1866.1 241,1864 242,1890 243,1873 244,1888 245,1889.2 246,1903.9 247,1908.7 248,1927.3 249,1923.4 250,1935.6 251,1954.3 252,1953.4 253,1967.9 254,1974.1 255,1977.9 256,1979.2 257,1981.4 258,1981.4 580,1981.4" fill="none" stroke="#3a2418" stroke-width="2.7" stroke-linejoin="round"/>
<rect x="577.8" y="1564.9" width="53" height="39.4" fill="#9b2620"/>
<text x="643.2" y="1594.5" font-size="31.3" fill="#1a1a1a">ALK<tspan dy="-0.534em" font-size="57%">ATI</tspan><tspan dy="0.310em">-low</tspan></text>
<rect x="577.8" y="1617.5" width="53" height="39.4" fill="#353080"/>
<text x="643.2" y="1647" font-size="31.3" fill="#1a1a1a">ALK<tspan dy="-0.534em" font-size="57%">ATI</tspan><tspan dy="0.310em">-high</tspan></text>
<rect x="577.8" y="1670" width="53" height="39.4" fill="#000"/>
<text x="643.2" y="1699.6" font-size="31.3" fill="#1a1a1a">parental</text>
<text x="846" y="1514.9" font-size="39" fill="#1a1a1a" font-weight="bold">h</text>
<text x="1065.5" y="1586.2" font-size="31.5" fill="#1a1a1a" text-anchor="middle" font-weight="bold">NIH-3T3</text>
<text x="1065.5" y="1613" font-size="31.5" fill="#1a1a1a" text-anchor="middle">cells</text>
<text x="1134.4" y="1616.9" font-size="31.5" fill="#1a1a1a">kDa</text>
<text x="1134.4" y="1657.6" font-size="31.5" fill="#1a1a1a">250</text>
<text x="1134.4" y="1692.4" font-size="31.5" fill="#1a1a1a">150</text>
<text x="1134.4" y="1749.9" font-size="31.5" fill="#1a1a1a">100</text>
<text x="1134.4" y="1806.6" font-size="31.5" fill="#1a1a1a">75</text>
<text x="1134.4" y="1890.9" font-size="31.5" fill="#1a1a1a">50</text>
<text x="1134.4" y="1958.8" font-size="31.5" fill="#1a1a1a">50</text>
<text x="921" y="1780.5" font-size="31.5" fill="#1a1a1a">t-ALK</text>
<text x="898.3" y="1958.8" font-size="31.5" fill="#1a1a1a">Tubulin</text>
<clipPath id="cph1"><rect x="1014.4" y="1622.8" width="111.6" height="299.6"/></clipPath>
<g clip-path="url(#cph1)">
<rect x="1014.4" y="1622.8" width="111.6" height="299.6" fill="#cecece"/>
<g filter="url(#soft)">

<rect x="1070.4" y="1617" width="49.9" height="310" fill="#8e8e8e" opacity="0.95" filter="url(#bl3)"/>
<rect x="1070.4" y="1615" width="49.9" height="50" fill="#b0b0b0" opacity="0.7" filter="url(#bl5)"/>
<rect x="1068.4" y="1845" width="53.9" height="80" fill="#4a4a4a" opacity="0.8" filter="url(#bl4)"/>
<rect x="1070.4" y="1775" width="49.9" height="50" fill="#808080" opacity="0.5" filter="url(#bl5)"/>
<rect x="1018.5" y="1835" width="47.9" height="90" fill="#b0b0b0" opacity="0.6" filter="url(#bl5)"/>
<rect x="1070.4" y="1711.6" width="49.9" height="5" fill="#6a6a6a" opacity="0.35" filter="url(#bl2)"/>
<rect x="1018.5" y="1712.1" width="47.9" height="4" fill="#b8b8b8" opacity="0.35" filter="url(#bl2)"/>
<rect x="1070.4" y="1729.9" width="49.9" height="5" fill="#6a6a6a" opacity="0.35" filter="url(#bl2)"/>
<rect x="1018.5" y="1730.4" width="47.9" height="4" fill="#b8b8b8" opacity="0.35" filter="url(#bl2)"/>
<rect x="1070.4" y="1748.2" width="49.9" height="5" fill="#6a6a6a" opacity="0.35" filter="url(#bl2)"/>
<rect x="1018.5" y="1748.7" width="47.9" height="4" fill="#b8b8b8" opacity="0.35" filter="url(#bl2)"/>
<rect x="1070.4" y="1770.6" width="49.9" height="5" fill="#6a6a6a" opacity="0.35" filter="url(#bl2)"/>
<rect x="1018.5" y="1771.1" width="47.9" height="4" fill="#b8b8b8" opacity="0.35" filter="url(#bl2)"/>
<rect x="1070.4" y="1793" width="49.9" height="5" fill="#6a6a6a" opacity="0.35" filter="url(#bl2)"/>
<rect x="1018.5" y="1793.5" width="47.9" height="4" fill="#b8b8b8" opacity="0.35" filter="url(#bl2)"/>
<rect x="1070.4" y="1809.3" width="49.9" height="5" fill="#6a6a6a" opacity="0.35" filter="url(#bl2)"/>
<rect x="1018.5" y="1809.8" width="47.9" height="4" fill="#b8b8b8" opacity="0.35" filter="url(#bl2)"/>
<rect x="1018.5" y="1832.5" width="47.9" height="7.5" fill="#444" opacity="0.85" filter="url(#bl2)"/>
<rect x="1018.5" y="1850.1" width="47.9" height="9" fill="#666" opacity="0.7" filter="url(#bl3)"/>
<rect x="1018.5" y="1843.4" width="47.9" height="6" fill="#999" opacity="0.5" filter="url(#bl2)"/>
<rect x="1018.5" y="1879.6" width="47.9" height="5" fill="#909090" opacity="0.5" filter="url(#bl2)"/>
<rect x="1018.5" y="1895.9" width="47.9" height="5" fill="#808080" opacity="0.6" filter="url(#bl2)"/>
<rect x="1018.5" y="1912.2" width="47.9" height="5" fill="#999" opacity="0.5" filter="url(#bl2)"/>
<rect x="1067.4" y="1830" width="55.9" height="12.5" fill="#000" opacity="0.97" filter="url(#bl2)"/>
<rect x="1068.4" y="1849.8" width="53.9" height="9.5" fill="#111" opacity="0.92" filter="url(#bl2)"/>
<rect x="1070.4" y="1864.8" width="49.9" height="8" fill="#333" opacity="0.6" filter="url(#bl3)"/>
<rect x="1070.4" y="1878.6" width="49.9" height="7" fill="#222" opacity="0.8" filter="url(#bl2)"/>
<rect x="1070.4" y="1892.1" width="49.9" height="6.5" fill="#222" opacity="0.8" filter="url(#bl2)"/>
<rect x="1070.4" y="1907.1" width="49.9" height="7" fill="#2a2a2a" opacity="0.7" filter="url(#bl3)"/>
<rect x="1070.4" y="1916.8" width="49.9" height="6" fill="#2a2a2a" opacity="0.7" filter="url(#bl3)"/>
</g></g>
<rect x="1014.4" y="1622.8" width="111.6" height="299.6" fill="none" stroke="#333" stroke-width="1.5"/>
<clipPath id="cph2"><rect x="1014.4" y="1931.6" width="111.6" height="35.4"/></clipPath>
<g clip-path="url(#cph2)">
<rect x="1014.4" y="1931.6" width="111.6" height="35.4" fill="#b9b9b9"/>
<g filter="url(#soft)">
<path d="M1018.5 1936.2 Q1043 1941 1067.4 1936.2 L1067.4 1957.2 Q1043 1962 1018.5 1957.2Z" fill="#6a6a6a" opacity="0.8" filter="url(#bl3)"/>
<path d="M1019.5 1940.2 Q1043 1945.8 1066.4 1940.2 L1066.4 1953.7 Q1043 1959.2 1019.5 1953.7Z" fill="#2a2a2a" opacity="0.9" filter="url(#bl3)"/>
<path d="M1072.5 1936.2 Q1097.5 1941 1122.4 1936.2 L1122.4 1957.2 Q1097.5 1962 1072.5 1957.2Z" fill="#6a6a6a" opacity="0.8" filter="url(#bl3)"/>
<path d="M1073.5 1940.2 Q1097.5 1945.8 1121.4 1940.2 L1121.4 1953.7 Q1097.5 1959.2 1073.5 1953.7Z" fill="#2a2a2a" opacity="0.9" filter="url(#bl3)"/>
</g></g>
<rect x="1014.4" y="1931.6" width="111.6" height="35.4" fill="none" stroke="#333" stroke-width="1.5"/>
<text font-size="31.5" fill="#1a1a1a" transform="translate(951.8 2091.8) rotate(-44.5)">ALK<tspan dy="-0.534em" font-size="57%">ATI</tspan><tspan dy="0.310em">-low</tspan></text>
<text font-size="32" fill="#1a1a1a" transform="translate(997.3 2100.6) rotate(-45.3)">ALK<tspan dy="-0.534em" font-size="57%">ATI</tspan><tspan dy="0.310em">-high</tspan></text>
<text x="1302.5" y="1514.4" font-size="39" fill="#1a1a1a" font-weight="bold">i</text>
<line x1="1527.4" y1="1575" x2="1527.4" y2="1975.6" stroke="#000" stroke-width="2.6"/>
<line x1="1526.1" y1="1974.2" x2="2098" y2="1974.2" stroke="#000" stroke-width="2.8"/>
<line x1="1511.2" y1="1974.2" x2="1527.4" y2="1974.2" stroke="#000" stroke-width="2.6"/>
<text x="1497" y="1987.2" font-size="31.5" fill="#1a1a1a" text-anchor="end">0</text>
<line x1="1511.2" y1="1874.7" x2="1527.4" y2="1874.7" stroke="#000" stroke-width="2.6"/>
<text x="1497" y="1887.7" font-size="31.5" fill="#1a1a1a" text-anchor="end">500</text>
<line x1="1511.2" y1="1775.2" x2="1527.4" y2="1775.2" stroke="#000" stroke-width="2.6"/>
<text x="1497" y="1788.2" font-size="31.5" fill="#1a1a1a" text-anchor="end">1000</text>
<line x1="1511.2" y1="1675.7" x2="1527.4" y2="1675.7" stroke="#000" stroke-width="2.6"/>
<text x="1497" y="1688.7" font-size="31.5" fill="#1a1a1a" text-anchor="end">1500</text>
<line x1="1511.2" y1="1576.2" x2="1527.4" y2="1576.2" stroke="#000" stroke-width="2.6"/>
<text x="1497" y="1589.2" font-size="31.5" fill="#1a1a1a" text-anchor="end">2000</text>
<line x1="1527.4" y1="1974.2" x2="1527.4" y2="1988.5" stroke="#000" stroke-width="2.8"/>
<text x="1520.4" y="2021.5" font-size="31.3" fill="#1a1a1a" text-anchor="middle">0</text>
<line x1="1622.3" y1="1974.2" x2="1622.3" y2="1988.5" stroke="#000" stroke-width="2.8"/>
<text x="1615.3" y="2021.5" font-size="31.3" fill="#1a1a1a" text-anchor="middle">5</text>
<line x1="1717.2" y1="1974.2" x2="1717.2" y2="1988.5" stroke="#000" stroke-width="2.8"/>
<text x="1716" y="2021.5" font-size="31.3" fill="#1a1a1a" text-anchor="middle">10</text>
<line x1="1812.1" y1="1974.2" x2="1812.1" y2="1988.5" stroke="#000" stroke-width="2.8"/>
<text x="1810.9" y="2021.5" font-size="31.3" fill="#1a1a1a" text-anchor="middle">15</text>
<line x1="1906.9" y1="1974.2" x2="1906.9" y2="1988.5" stroke="#000" stroke-width="2.8"/>
<text x="1905.7" y="2021.5" font-size="31.3" fill="#1a1a1a" text-anchor="middle">20</text>
<line x1="2001.8" y1="1974.2" x2="2001.8" y2="1988.5" stroke="#000" stroke-width="2.8"/>
<text x="2000.6" y="2021.5" font-size="31.3" fill="#1a1a1a" text-anchor="middle">25</text>
<line x1="2096.7" y1="1974.2" x2="2096.7" y2="1988.5" stroke="#000" stroke-width="2.8"/>
<text x="2095.5" y="2021.5" font-size="31.3" fill="#1a1a1a" text-anchor="middle">30</text>
<text font-size="31.5" fill="#1a1a1a" text-anchor="middle" transform="translate(1408 1782.6) rotate(-90)">Tumor volume (mm<tspan dy="-0.534em" font-size="57%">3</tspan><tspan dy="0.310em">)</tspan></text>
<text x="1564.6" y="2056.5" font-size="31.5" fill="#1a1a1a"><tspan font-weight="bold">NIH-3T3</tspan> cells, days after injection</text>
<polyline points="1527.4,1974.2 1717.2,1974.2 1850,1974.2 1906.9,1974.2 1963.9,1974.2 2096.7,1974.2" fill="none" stroke="#000" stroke-width="2.6" stroke-linejoin="round"/>
<circle cx="1527.4" cy="1974.2" r="7.8" fill="none" stroke="#000" stroke-width="5.2"/>
<circle cx="1717.2" cy="1974.2" r="7.8" fill="none" stroke="#000" stroke-width="5.2"/>
<circle cx="1850" cy="1974.2" r="7.8" fill="none" stroke="#000" stroke-width="5.2"/>
<circle cx="1906.9" cy="1974.2" r="7.8" fill="none" stroke="#000" stroke-width="5.2"/>
<circle cx="1963.9" cy="1974.2" r="7.8" fill="none" stroke="#000" stroke-width="5.2"/>
<circle cx="2096.7" cy="1974.2" r="7.8" fill="none" stroke="#000" stroke-width="5.2"/>
<polyline points="1527.4,1974.2 1698.2,1974.2 1755.1,1962.3 1793.1,1953.3 1831,1919.5 1888,1766.8 1944.9,1701.2" fill="none" stroke="#1c2a9e" stroke-width="2.4" stroke-linejoin="round"/>
<path d="M1888 1731.8V1801.9M1879 1731.8h18M1879 1801.9h18" stroke="#1c2a9e" stroke-width="2.4" fill="none"/>
<path d="M1944.9 1665.8V1736.6M1935.9 1665.8h18M1935.9 1736.6h18" stroke="#1c2a9e" stroke-width="2.4" fill="none"/>
<path d="M1527.4 1983.9L1536.5 1967.1L1518.3 1967.1Z" fill="#1c2a9e"/>
<path d="M1698.2 1983.9L1707.3 1967.1L1689.1 1967.1Z" fill="#1c2a9e"/>
<path d="M1755.1 1971.9L1764.2 1955.1L1746.1 1955.1Z" fill="#1c2a9e"/>
<path d="M1793.1 1963L1802.1 1946.2L1784 1946.2Z" fill="#1c2a9e"/>
<path d="M1831 1929.1L1840.1 1912.3L1822 1912.3Z" fill="#1c2a9e"/>
<path d="M1888 1776.5L1897 1759.7L1878.9 1759.7Z" fill="#1c2a9e"/>
<path d="M1944.9 1710.8L1954 1694L1935.8 1694Z" fill="#1c2a9e"/>
<polyline points="1527.4,1974.2 1660.2,1974.2 1698.2,1974.2 1755.1,1970.2 1793.1,1953.9 1831,1926.8 1888,1828.3 1944.9,1632.3" fill="none" stroke="#a82800" stroke-width="2.4" stroke-linejoin="round"/>
<path d="M1888 1817.8V1838.9M1879 1817.8h18M1879 1838.9h18" stroke="#a82800" stroke-width="2.4" fill="none"/>
<path d="M1944.9 1594.1V1670.5M1935.9 1594.1h18M1935.9 1670.5h18" stroke="#a82800" stroke-width="2.4" fill="none"/>
<rect x="1519.1" y="1965.9" width="16.6" height="16.6" fill="#a82800"/>
<rect x="1651.9" y="1965.9" width="16.6" height="16.6" fill="#a82800"/>
<rect x="1689.9" y="1965.9" width="16.6" height="16.6" fill="#a82800"/>
<rect x="1746.8" y="1961.9" width="16.6" height="16.6" fill="#a82800"/>
<rect x="1784.8" y="1945.6" width="16.6" height="16.6" fill="#a82800"/>
<rect x="1822.7" y="1918.5" width="16.6" height="16.6" fill="#a82800"/>
<rect x="1879.7" y="1820" width="16.6" height="16.6" fill="#a82800"/>
<rect x="1936.6" y="1624" width="16.6" height="16.6" fill="#a82800"/>
<line x1="1593.5" y1="1572.4" x2="1656.6" y2="1572.4" stroke="#a82800" stroke-width="2.4"/>
<rect x="1616.5" y="1564.1" width="16.6" height="16.6" fill="#a82800"/>
<text x="1671" y="1580.5" font-size="31.3" fill="#1a1a1a">ALK<tspan dy="-0.534em" font-size="57%">ATI</tspan><tspan dy="0.310em">-low</tspan></text>
<line x1="1593.5" y1="1630.5" x2="1656.6" y2="1630.5" stroke="#1c2a9e" stroke-width="2.4"/>
<path d="M1624.8 1640.2L1633.9 1623.4L1615.7 1623.4Z" fill="#1c2a9e"/>
<text x="1671" y="1640.6" font-size="31.3" fill="#1a1a1a">ALK<tspan dy="-0.534em" font-size="57%">ATI</tspan><tspan dy="0.310em">-high</tspan></text>
<line x1="1593.5" y1="1688.3" x2="1656.6" y2="1688.3" stroke="#000" stroke-width="2.4"/>
<circle cx="1624.8" cy="1688.3" r="7.8" fill="none" stroke="#000" stroke-width="5.2"/>
<text x="1671" y="1691.8" font-size="31.3" fill="#1a1a1a">parental</text>
</svg>
</body></html>
